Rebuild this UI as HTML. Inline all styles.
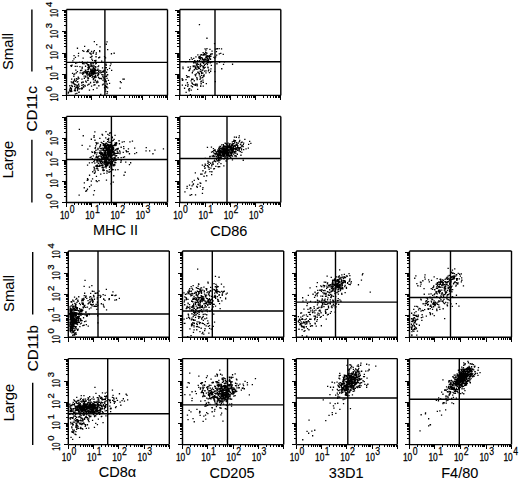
<!DOCTYPE html>
<html><head><meta charset="utf-8"><style>
html,body{margin:0;padding:0;background:#fff;width:520px;height:481px;overflow:hidden;}
svg{display:block;}
</style></head><body>
<svg width="520" height="481" viewBox="0 0 520 481">
<rect width="520" height="481" fill="#fff"/>
<path d="M90.1 72.4h1.3v1.3h-1.3zM94.6 69.7h1.3v1.3h-1.3zM95.5 70.0h1.3v1.3h-1.3zM86.8 75.3h1.3v1.3h-1.3zM94.5 71.3h1.3v1.3h-1.3zM88.3 70.9h1.3v1.3h-1.3zM93.5 68.3h1.3v1.3h-1.3zM89.0 73.7h1.3v1.3h-1.3zM96.9 74.6h1.3v1.3h-1.3zM101.2 74.0h1.3v1.3h-1.3zM97.9 76.9h1.3v1.3h-1.3zM94.4 76.5h1.3v1.3h-1.3zM91.0 70.4h1.3v1.3h-1.3zM101.0 78.3h1.3v1.3h-1.3zM90.8 72.0h1.3v1.3h-1.3zM97.5 75.2h1.3v1.3h-1.3zM96.7 72.3h1.3v1.3h-1.3zM89.9 65.5h1.3v1.3h-1.3zM88.4 74.3h1.3v1.3h-1.3zM93.3 73.1h1.3v1.3h-1.3zM90.4 71.3h1.3v1.3h-1.3zM94.9 75.8h1.3v1.3h-1.3zM91.1 62.3h1.3v1.3h-1.3zM87.8 69.0h1.3v1.3h-1.3zM87.1 79.7h1.3v1.3h-1.3zM92.1 65.3h1.3v1.3h-1.3zM89.0 73.0h1.3v1.3h-1.3zM89.6 74.2h1.3v1.3h-1.3zM89.2 73.7h1.3v1.3h-1.3zM88.2 64.7h1.3v1.3h-1.3zM91.7 69.4h1.3v1.3h-1.3zM94.2 67.5h1.3v1.3h-1.3zM93.5 72.8h1.3v1.3h-1.3zM84.5 72.0h1.3v1.3h-1.3zM97.8 73.5h1.3v1.3h-1.3zM94.9 63.3h1.3v1.3h-1.3zM92.8 72.8h1.3v1.3h-1.3zM84.7 69.4h1.3v1.3h-1.3zM93.2 71.5h1.3v1.3h-1.3zM87.2 76.9h1.3v1.3h-1.3zM93.3 72.0h1.3v1.3h-1.3zM90.2 70.0h1.3v1.3h-1.3zM95.0 68.8h1.3v1.3h-1.3zM92.4 70.2h1.3v1.3h-1.3zM85.1 69.6h1.3v1.3h-1.3zM89.1 73.6h1.3v1.3h-1.3zM89.0 75.8h1.3v1.3h-1.3zM89.3 73.3h1.3v1.3h-1.3zM94.3 76.9h1.3v1.3h-1.3zM102.8 71.0h1.3v1.3h-1.3zM94.7 69.8h1.3v1.3h-1.3zM83.7 77.7h1.3v1.3h-1.3zM95.7 72.4h1.3v1.3h-1.3zM88.8 72.3h1.3v1.3h-1.3zM92.2 71.5h1.3v1.3h-1.3zM87.1 70.7h1.3v1.3h-1.3zM94.7 74.7h1.3v1.3h-1.3zM94.1 68.2h1.3v1.3h-1.3zM92.7 68.0h1.3v1.3h-1.3zM87.2 68.8h1.3v1.3h-1.3zM92.5 69.4h1.3v1.3h-1.3zM97.4 65.9h1.3v1.3h-1.3zM93.7 76.4h1.3v1.3h-1.3zM95.5 81.2h1.3v1.3h-1.3zM94.5 79.6h1.3v1.3h-1.3zM91.5 76.7h1.3v1.3h-1.3zM95.2 66.4h1.3v1.3h-1.3zM82.5 71.7h1.3v1.3h-1.3zM92.0 70.9h1.3v1.3h-1.3zM94.5 69.1h1.3v1.3h-1.3zM89.0 66.2h1.3v1.3h-1.3zM93.6 69.3h1.3v1.3h-1.3zM96.9 69.7h1.3v1.3h-1.3zM87.3 66.8h1.3v1.3h-1.3zM87.7 68.3h1.3v1.3h-1.3zM94.3 72.8h1.3v1.3h-1.3zM92.8 73.4h1.3v1.3h-1.3zM93.2 71.8h1.3v1.3h-1.3zM98.0 73.7h1.3v1.3h-1.3zM87.5 64.0h1.3v1.3h-1.3zM93.5 76.0h1.3v1.3h-1.3zM90.7 62.4h1.3v1.3h-1.3zM93.6 70.3h1.3v1.3h-1.3zM94.7 79.6h1.3v1.3h-1.3zM90.9 71.8h1.3v1.3h-1.3zM92.1 75.4h1.3v1.3h-1.3zM93.2 72.9h1.3v1.3h-1.3zM98.4 71.5h1.3v1.3h-1.3zM88.1 65.5h1.3v1.3h-1.3zM90.1 70.4h1.3v1.3h-1.3zM94.0 71.4h1.3v1.3h-1.3zM89.8 68.5h1.3v1.3h-1.3zM91.4 72.1h1.3v1.3h-1.3zM85.0 69.6h1.3v1.3h-1.3zM91.4 68.5h1.3v1.3h-1.3zM92.7 79.0h1.3v1.3h-1.3zM88.2 67.8h1.3v1.3h-1.3zM86.8 72.1h1.3v1.3h-1.3zM85.4 71.5h1.3v1.3h-1.3zM87.9 77.6h1.3v1.3h-1.3zM92.6 78.3h1.3v1.3h-1.3zM86.7 72.5h1.3v1.3h-1.3zM80.2 69.7h1.3v1.3h-1.3zM99.9 70.2h1.3v1.3h-1.3zM91.3 65.7h1.3v1.3h-1.3zM88.5 74.1h1.3v1.3h-1.3zM102.9 70.6h1.3v1.3h-1.3zM90.0 70.8h1.3v1.3h-1.3zM91.7 72.4h1.3v1.3h-1.3zM98.4 69.8h1.3v1.3h-1.3zM92.7 66.7h1.3v1.3h-1.3zM101.9 84.3h1.3v1.3h-1.3zM87.3 77.6h1.3v1.3h-1.3zM99.5 72.3h1.3v1.3h-1.3zM100.3 70.5h1.3v1.3h-1.3zM88.7 66.9h1.3v1.3h-1.3zM83.5 75.4h1.3v1.3h-1.3zM73.4 55.0h1.3v1.3h-1.3zM79.9 69.9h1.3v1.3h-1.3zM92.9 62.2h1.3v1.3h-1.3zM89.9 81.8h1.3v1.3h-1.3zM88.5 75.0h1.3v1.3h-1.3zM87.0 84.5h1.3v1.3h-1.3zM95.4 56.1h1.3v1.3h-1.3zM101.0 60.5h1.3v1.3h-1.3zM120.5 81.9h1.3v1.3h-1.3zM75.2 69.4h1.3v1.3h-1.3zM102.1 70.7h1.3v1.3h-1.3zM76.8 71.0h1.3v1.3h-1.3zM87.7 73.4h1.3v1.3h-1.3zM85.0 80.4h1.3v1.3h-1.3zM82.1 73.7h1.3v1.3h-1.3zM96.2 82.1h1.3v1.3h-1.3zM90.9 85.5h1.3v1.3h-1.3zM100.5 77.7h1.3v1.3h-1.3zM92.4 63.2h1.3v1.3h-1.3zM89.9 82.1h1.3v1.3h-1.3zM92.9 51.2h1.3v1.3h-1.3zM85.8 72.6h1.3v1.3h-1.3zM90.7 64.9h1.3v1.3h-1.3zM91.1 73.6h1.3v1.3h-1.3zM75.7 72.3h1.3v1.3h-1.3zM83.1 86.5h1.3v1.3h-1.3zM94.5 72.9h1.3v1.3h-1.3zM100.1 93.7h1.3v1.3h-1.3zM75.9 77.9h1.3v1.3h-1.3zM81.3 72.4h1.3v1.3h-1.3zM86.8 71.1h1.3v1.3h-1.3zM89.7 75.2h1.3v1.3h-1.3zM71.9 72.8h1.3v1.3h-1.3zM90.4 69.5h1.3v1.3h-1.3zM88.8 89.5h1.3v1.3h-1.3zM83.0 72.6h1.3v1.3h-1.3zM94.9 66.2h1.3v1.3h-1.3zM85.8 81.4h1.3v1.3h-1.3zM92.5 73.6h1.3v1.3h-1.3zM89.7 75.7h1.3v1.3h-1.3zM103.8 78.1h1.3v1.3h-1.3zM93.2 84.4h1.3v1.3h-1.3zM93.4 81.6h1.3v1.3h-1.3zM74.6 65.7h1.3v1.3h-1.3zM93.1 77.8h1.3v1.3h-1.3zM91.3 65.9h1.3v1.3h-1.3zM77.1 88.7h1.3v1.3h-1.3zM91.1 73.3h1.3v1.3h-1.3zM96.8 80.5h1.3v1.3h-1.3zM103.4 69.7h1.3v1.3h-1.3zM78.9 61.8h1.3v1.3h-1.3zM72.8 82.4h1.3v1.3h-1.3zM83.7 77.5h1.3v1.3h-1.3zM70.2 65.0h1.3v1.3h-1.3zM98.0 65.2h1.3v1.3h-1.3zM82.8 85.9h1.3v1.3h-1.3zM82.0 62.7h1.3v1.3h-1.3zM97.7 73.1h1.3v1.3h-1.3zM85.9 71.2h1.3v1.3h-1.3zM85.0 75.6h1.3v1.3h-1.3zM91.0 74.8h1.3v1.3h-1.3zM86.3 72.5h1.3v1.3h-1.3zM77.1 87.4h1.3v1.3h-1.3zM82.2 72.2h1.3v1.3h-1.3zM102.7 83.5h1.3v1.3h-1.3zM111.0 69.8h1.3v1.3h-1.3zM77.6 76.6h1.3v1.3h-1.3zM95.0 60.6h1.3v1.3h-1.3zM93.7 69.9h1.3v1.3h-1.3zM74.6 90.1h1.3v1.3h-1.3zM88.5 66.8h1.3v1.3h-1.3zM99.2 78.0h1.3v1.3h-1.3zM93.4 65.3h1.3v1.3h-1.3zM90.6 64.2h1.3v1.3h-1.3zM74.0 78.5h1.3v1.3h-1.3zM79.3 66.0h1.3v1.3h-1.3zM83.6 71.0h1.3v1.3h-1.3zM92.8 72.7h1.3v1.3h-1.3zM105.0 67.1h1.3v1.3h-1.3zM81.1 69.4h1.3v1.3h-1.3zM82.7 81.4h1.3v1.3h-1.3zM106.9 74.1h1.3v1.3h-1.3zM85.1 76.5h1.3v1.3h-1.3zM88.2 83.8h1.3v1.3h-1.3zM90.0 63.3h1.3v1.3h-1.3zM94.2 84.1h1.3v1.3h-1.3zM89.8 56.7h1.3v1.3h-1.3zM73.3 73.8h1.3v1.3h-1.3zM76.5 65.8h1.3v1.3h-1.3zM94.5 65.9h1.3v1.3h-1.3zM75.1 62.7h1.3v1.3h-1.3zM91.9 59.7h1.3v1.3h-1.3zM88.4 83.5h1.3v1.3h-1.3zM96.3 87.5h1.3v1.3h-1.3zM88.2 64.2h1.3v1.3h-1.3zM94.2 72.1h1.3v1.3h-1.3zM90.2 69.8h1.3v1.3h-1.3zM96.8 74.6h1.3v1.3h-1.3zM101.9 67.3h1.3v1.3h-1.3zM85.6 81.4h1.3v1.3h-1.3zM102.4 79.8h1.3v1.3h-1.3zM97.3 68.5h1.3v1.3h-1.3zM81.6 66.5h1.3v1.3h-1.3zM76.4 62.0h1.3v1.3h-1.3zM85.1 70.7h1.3v1.3h-1.3zM93.2 81.6h1.3v1.3h-1.3zM87.5 79.5h1.3v1.3h-1.3zM92.0 65.3h1.3v1.3h-1.3zM88.8 74.8h1.3v1.3h-1.3zM81.9 63.0h1.3v1.3h-1.3zM94.0 60.1h1.3v1.3h-1.3zM85.4 62.7h1.3v1.3h-1.3zM105.3 80.3h1.3v1.3h-1.3zM82.5 57.4h1.3v1.3h-1.3zM100.7 72.0h1.3v1.3h-1.3zM97.4 81.4h1.3v1.3h-1.3zM98.0 71.1h1.3v1.3h-1.3zM84.9 65.6h1.3v1.3h-1.3zM87.1 64.4h1.3v1.3h-1.3zM105.4 63.6h1.3v1.3h-1.3zM71.4 64.4h1.3v1.3h-1.3zM85.8 72.8h1.3v1.3h-1.3zM86.3 73.8h1.3v1.3h-1.3zM73.3 58.3h1.3v1.3h-1.3zM106.0 71.6h1.3v1.3h-1.3zM98.2 85.1h1.3v1.3h-1.3zM83.4 63.1h1.3v1.3h-1.3zM102.3 76.3h1.3v1.3h-1.3zM84.0 45.7h1.3v1.3h-1.3zM86.5 63.2h1.3v1.3h-1.3zM81.7 61.3h1.3v1.3h-1.3zM95.6 62.8h1.3v1.3h-1.3zM92.7 89.0h1.3v1.3h-1.3zM81.5 67.6h1.3v1.3h-1.3zM102.4 61.8h1.3v1.3h-1.3zM91.8 75.2h1.3v1.3h-1.3zM89.1 73.6h1.3v1.3h-1.3zM98.8 77.7h1.3v1.3h-1.3zM84.2 84.7h1.3v1.3h-1.3zM70.8 65.8h1.3v1.3h-1.3zM95.5 76.4h1.3v1.3h-1.3zM71.4 82.3h1.3v1.3h-1.3zM74.6 80.8h1.3v1.3h-1.3zM78.6 85.5h1.3v1.3h-1.3zM76.5 85.1h1.3v1.3h-1.3zM70.6 81.3h1.3v1.3h-1.3zM73.6 83.3h1.3v1.3h-1.3zM76.4 86.0h1.3v1.3h-1.3zM73.2 75.6h1.3v1.3h-1.3zM75.5 86.8h1.3v1.3h-1.3zM74.1 83.9h1.3v1.3h-1.3zM72.8 81.1h1.3v1.3h-1.3zM73.4 83.2h1.3v1.3h-1.3zM75.6 80.0h1.3v1.3h-1.3zM76.4 86.7h1.3v1.3h-1.3zM74.2 83.8h1.3v1.3h-1.3zM78.3 77.7h1.3v1.3h-1.3zM77.8 87.2h1.3v1.3h-1.3zM76.7 87.9h1.3v1.3h-1.3zM71.1 84.7h1.3v1.3h-1.3zM78.8 88.2h1.3v1.3h-1.3zM76.2 78.4h1.3v1.3h-1.3zM78.2 91.8h1.3v1.3h-1.3zM81.1 87.2h1.3v1.3h-1.3zM74.1 73.3h1.3v1.3h-1.3zM77.3 78.5h1.3v1.3h-1.3zM82.6 84.1h1.3v1.3h-1.3zM84.6 85.5h1.3v1.3h-1.3zM73.6 79.7h1.3v1.3h-1.3zM70.8 88.1h1.3v1.3h-1.3zM77.4 86.6h1.3v1.3h-1.3zM81.0 82.1h1.3v1.3h-1.3zM74.7 89.7h1.3v1.3h-1.3zM78.5 91.4h1.3v1.3h-1.3zM77.4 84.5h1.3v1.3h-1.3zM77.2 81.0h1.3v1.3h-1.3zM74.7 87.5h1.3v1.3h-1.3zM71.4 81.7h1.3v1.3h-1.3zM80.4 87.9h1.3v1.3h-1.3zM71.4 85.9h1.3v1.3h-1.3zM79.5 72.2h1.3v1.3h-1.3zM74.3 88.7h1.3v1.3h-1.3zM81.8 87.6h1.3v1.3h-1.3zM76.8 89.9h1.3v1.3h-1.3zM71.8 85.8h1.3v1.3h-1.3zM74.0 85.8h1.3v1.3h-1.3zM76.2 92.7h1.3v1.3h-1.3zM74.8 93.3h1.3v1.3h-1.3zM69.2 85.1h1.3v1.3h-1.3zM73.8 89.9h1.3v1.3h-1.3zM81.3 78.5h1.3v1.3h-1.3zM69.5 87.7h1.3v1.3h-1.3zM71.0 78.4h1.3v1.3h-1.3zM81.2 88.5h1.3v1.3h-1.3zM78.0 83.6h1.3v1.3h-1.3zM81.2 84.8h1.3v1.3h-1.3zM81.6 81.4h1.3v1.3h-1.3zM69.9 87.0h1.3v1.3h-1.3zM70.8 89.4h1.3v1.3h-1.3zM76.6 81.4h1.3v1.3h-1.3zM75.4 84.2h1.3v1.3h-1.3zM69.8 89.7h1.3v1.3h-1.3zM68.1 91.4h1.3v1.3h-1.3zM71.1 90.8h1.3v1.3h-1.3zM68.9 89.3h1.3v1.3h-1.3zM69.3 89.5h1.3v1.3h-1.3zM67.7 91.4h1.3v1.3h-1.3zM69.2 90.3h1.3v1.3h-1.3zM69.0 89.2h1.3v1.3h-1.3zM70.3 90.9h1.3v1.3h-1.3zM67.6 92.4h1.3v1.3h-1.3zM69.9 90.8h1.3v1.3h-1.3zM90.9 50.8h1.3v1.3h-1.3zM103.9 56.0h1.3v1.3h-1.3zM99.0 50.0h1.3v1.3h-1.3zM110.3 63.3h1.3v1.3h-1.3zM98.1 57.1h1.3v1.3h-1.3zM74.8 56.8h1.3v1.3h-1.3zM91.3 55.6h1.3v1.3h-1.3zM99.1 51.0h1.3v1.3h-1.3zM77.8 55.2h1.3v1.3h-1.3zM86.3 51.0h1.3v1.3h-1.3zM87.6 51.0h1.3v1.3h-1.3zM72.2 60.3h1.3v1.3h-1.3zM95.3 59.7h1.3v1.3h-1.3zM110.8 53.1h1.3v1.3h-1.3zM76.8 47.6h1.3v1.3h-1.3zM82.1 50.0h1.3v1.3h-1.3zM93.7 41.0h1.3v1.3h-1.3zM96.1 43.9h1.3v1.3h-1.3zM95.7 52.3h1.3v1.3h-1.3zM90.2 52.6h1.3v1.3h-1.3zM88.1 49.3h1.3v1.3h-1.3zM77.9 52.8h1.3v1.3h-1.3zM109.6 64.9h1.3v1.3h-1.3zM104.9 57.2h1.3v1.3h-1.3zM86.9 61.7h1.3v1.3h-1.3zM92.5 52.6h1.3v1.3h-1.3zM90.4 53.6h1.3v1.3h-1.3zM89.1 52.5h1.3v1.3h-1.3zM83.2 50.8h1.3v1.3h-1.3zM113.5 52.6h1.3v1.3h-1.3zM90.9 56.2h1.3v1.3h-1.3zM99.4 46.3h1.3v1.3h-1.3zM91.1 58.5h1.3v1.3h-1.3zM95.4 53.7h1.3v1.3h-1.3zM107.0 48.9h1.3v1.3h-1.3zM93.7 49.9h1.3v1.3h-1.3zM106.4 41.3h1.3v1.3h-1.3zM87.0 49.8h1.3v1.3h-1.3zM99.0 56.6h1.3v1.3h-1.3zM105.6 43.6h1.3v1.3h-1.3zM105.5 86.8h1.3v1.3h-1.3zM107.0 74.0h1.3v1.3h-1.3zM102.3 71.7h1.3v1.3h-1.3zM103.3 76.7h1.3v1.3h-1.3zM106.7 74.2h1.3v1.3h-1.3zM108.9 82.8h1.3v1.3h-1.3zM103.2 78.2h1.3v1.3h-1.3zM104.3 73.2h1.3v1.3h-1.3zM106.8 69.0h1.3v1.3h-1.3zM102.4 74.2h1.3v1.3h-1.3zM105.8 86.3h1.3v1.3h-1.3zM106.2 83.2h1.3v1.3h-1.3zM106.1 85.7h1.3v1.3h-1.3zM106.8 91.1h1.3v1.3h-1.3zM106.7 83.5h1.3v1.3h-1.3zM105.7 66.9h1.3v1.3h-1.3zM106.4 77.7h1.3v1.3h-1.3zM108.9 67.8h1.3v1.3h-1.3zM103.8 80.9h1.3v1.3h-1.3zM105.5 64.6h1.3v1.3h-1.3zM104.7 79.2h1.3v1.3h-1.3zM104.8 80.8h1.3v1.3h-1.3zM104.7 85.0h1.3v1.3h-1.3zM107.8 79.7h1.3v1.3h-1.3zM104.5 75.8h1.3v1.3h-1.3zM103.9 87.1h1.3v1.3h-1.3zM105.9 75.6h1.3v1.3h-1.3zM104.3 71.2h1.3v1.3h-1.3zM102.2 75.7h1.3v1.3h-1.3zM105.3 67.0h1.3v1.3h-1.3zM105.7 81.3h1.3v1.3h-1.3zM105.2 64.0h1.3v1.3h-1.3zM107.0 87.2h1.3v1.3h-1.3zM104.4 79.3h1.3v1.3h-1.3zM105.0 85.7h1.3v1.3h-1.3zM104.6 69.5h1.3v1.3h-1.3zM106.4 93.0h1.3v1.3h-1.3zM105.1 90.4h1.3v1.3h-1.3zM104.9 88.4h1.3v1.3h-1.3zM119.5 87.5h1.3v1.3h-1.3zM122.3 78.5h1.3v1.3h-1.3zM119.7 81.0h1.3v1.3h-1.3zM123.6 78.5h1.3v1.3h-1.3zM215.8 51.0h1.3v1.3h-1.3zM206.1 56.4h1.3v1.3h-1.3zM198.7 60.1h1.3v1.3h-1.3zM199.8 54.4h1.3v1.3h-1.3zM203.6 64.8h1.3v1.3h-1.3zM201.8 58.6h1.3v1.3h-1.3zM207.4 62.1h1.3v1.3h-1.3zM211.3 53.5h1.3v1.3h-1.3zM204.3 59.5h1.3v1.3h-1.3zM209.0 56.0h1.3v1.3h-1.3zM207.8 55.7h1.3v1.3h-1.3zM205.3 52.0h1.3v1.3h-1.3zM207.3 58.8h1.3v1.3h-1.3zM211.4 52.9h1.3v1.3h-1.3zM200.7 54.1h1.3v1.3h-1.3zM203.6 53.0h1.3v1.3h-1.3zM202.4 66.1h1.3v1.3h-1.3zM193.9 60.1h1.3v1.3h-1.3zM201.8 58.1h1.3v1.3h-1.3zM207.4 61.2h1.3v1.3h-1.3zM215.1 56.3h1.3v1.3h-1.3zM208.1 60.4h1.3v1.3h-1.3zM204.0 54.3h1.3v1.3h-1.3zM205.3 59.0h1.3v1.3h-1.3zM206.4 57.7h1.3v1.3h-1.3zM206.3 47.9h1.3v1.3h-1.3zM201.6 60.4h1.3v1.3h-1.3zM205.2 56.6h1.3v1.3h-1.3zM199.3 57.0h1.3v1.3h-1.3zM209.9 53.7h1.3v1.3h-1.3zM197.2 54.3h1.3v1.3h-1.3zM198.2 56.7h1.3v1.3h-1.3zM214.1 57.5h1.3v1.3h-1.3zM204.9 51.6h1.3v1.3h-1.3zM209.3 58.2h1.3v1.3h-1.3zM198.5 57.4h1.3v1.3h-1.3zM204.5 59.3h1.3v1.3h-1.3zM210.2 55.6h1.3v1.3h-1.3zM205.5 54.2h1.3v1.3h-1.3zM209.0 55.1h1.3v1.3h-1.3zM205.1 54.2h1.3v1.3h-1.3zM209.9 58.6h1.3v1.3h-1.3zM205.9 59.4h1.3v1.3h-1.3zM199.7 60.7h1.3v1.3h-1.3zM191.6 58.7h1.3v1.3h-1.3zM200.9 56.9h1.3v1.3h-1.3zM197.3 65.9h1.3v1.3h-1.3zM216.2 48.3h1.3v1.3h-1.3zM203.1 60.1h1.3v1.3h-1.3zM201.6 57.5h1.3v1.3h-1.3zM204.2 59.2h1.3v1.3h-1.3zM207.8 59.1h1.3v1.3h-1.3zM220.1 52.7h1.3v1.3h-1.3zM213.3 56.7h1.3v1.3h-1.3zM206.2 52.6h1.3v1.3h-1.3zM202.6 53.9h1.3v1.3h-1.3zM209.3 48.8h1.3v1.3h-1.3zM206.8 57.5h1.3v1.3h-1.3zM199.8 58.0h1.3v1.3h-1.3zM199.9 58.5h1.3v1.3h-1.3zM207.3 57.6h1.3v1.3h-1.3zM199.4 57.4h1.3v1.3h-1.3zM207.2 54.9h1.3v1.3h-1.3zM204.3 53.3h1.3v1.3h-1.3zM199.5 57.1h1.3v1.3h-1.3zM202.2 54.4h1.3v1.3h-1.3zM204.4 58.1h1.3v1.3h-1.3zM211.1 61.5h1.3v1.3h-1.3zM206.1 62.6h1.3v1.3h-1.3zM199.5 56.1h1.3v1.3h-1.3zM208.8 56.5h1.3v1.3h-1.3zM205.7 56.3h1.3v1.3h-1.3zM205.3 49.5h1.3v1.3h-1.3zM204.4 48.3h1.3v1.3h-1.3zM202.9 54.5h1.3v1.3h-1.3zM209.9 53.6h1.3v1.3h-1.3zM202.5 52.0h1.3v1.3h-1.3zM214.9 48.4h1.3v1.3h-1.3zM216.7 48.1h1.3v1.3h-1.3zM195.3 56.3h1.3v1.3h-1.3zM196.8 60.0h1.3v1.3h-1.3zM199.8 63.2h1.3v1.3h-1.3zM202.7 65.9h1.3v1.3h-1.3zM189.8 66.3h1.3v1.3h-1.3zM200.7 60.8h1.3v1.3h-1.3zM197.8 63.7h1.3v1.3h-1.3zM196.2 64.6h1.3v1.3h-1.3zM189.0 58.9h1.3v1.3h-1.3zM204.5 66.7h1.3v1.3h-1.3zM204.1 61.0h1.3v1.3h-1.3zM203.2 59.1h1.3v1.3h-1.3zM202.2 72.4h1.3v1.3h-1.3zM193.5 61.3h1.3v1.3h-1.3zM207.9 61.8h1.3v1.3h-1.3zM194.6 62.1h1.3v1.3h-1.3zM207.2 66.4h1.3v1.3h-1.3zM195.8 63.5h1.3v1.3h-1.3zM209.1 57.7h1.3v1.3h-1.3zM205.9 55.8h1.3v1.3h-1.3zM196.5 62.6h1.3v1.3h-1.3zM199.5 70.8h1.3v1.3h-1.3zM193.3 61.2h1.3v1.3h-1.3zM196.4 68.7h1.3v1.3h-1.3zM206.8 60.1h1.3v1.3h-1.3zM202.1 58.5h1.3v1.3h-1.3zM190.7 57.2h1.3v1.3h-1.3zM209.6 62.1h1.3v1.3h-1.3zM203.7 64.4h1.3v1.3h-1.3zM200.0 63.5h1.3v1.3h-1.3zM193.1 57.8h1.3v1.3h-1.3zM201.7 61.6h1.3v1.3h-1.3zM201.2 64.9h1.3v1.3h-1.3zM208.1 61.0h1.3v1.3h-1.3zM196.6 65.9h1.3v1.3h-1.3zM207.7 70.3h1.3v1.3h-1.3zM185.2 61.2h1.3v1.3h-1.3zM201.0 72.8h1.3v1.3h-1.3zM196.6 65.5h1.3v1.3h-1.3zM203.2 62.0h1.3v1.3h-1.3zM203.2 61.9h1.3v1.3h-1.3zM196.6 63.3h1.3v1.3h-1.3zM204.5 59.5h1.3v1.3h-1.3zM202.0 60.9h1.3v1.3h-1.3zM203.7 67.4h1.3v1.3h-1.3zM199.7 66.0h1.3v1.3h-1.3zM199.5 64.5h1.3v1.3h-1.3zM202.8 62.8h1.3v1.3h-1.3zM196.2 61.0h1.3v1.3h-1.3zM192.6 65.3h1.3v1.3h-1.3zM207.0 61.7h1.3v1.3h-1.3zM206.8 63.9h1.3v1.3h-1.3zM207.5 67.2h1.3v1.3h-1.3zM206.5 55.6h1.3v1.3h-1.3zM206.2 56.5h1.3v1.3h-1.3zM202.7 67.5h1.3v1.3h-1.3zM196.9 60.1h1.3v1.3h-1.3zM208.1 69.3h1.3v1.3h-1.3zM199.8 64.3h1.3v1.3h-1.3zM195.7 73.3h1.3v1.3h-1.3zM193.0 65.7h1.3v1.3h-1.3zM200.2 77.5h1.3v1.3h-1.3zM194.3 65.2h1.3v1.3h-1.3zM192.3 70.5h1.3v1.3h-1.3zM198.8 72.8h1.3v1.3h-1.3zM183.9 87.6h1.3v1.3h-1.3zM197.5 71.6h1.3v1.3h-1.3zM202.3 79.5h1.3v1.3h-1.3zM195.2 66.8h1.3v1.3h-1.3zM199.1 58.0h1.3v1.3h-1.3zM196.2 77.1h1.3v1.3h-1.3zM199.8 64.4h1.3v1.3h-1.3zM200.8 74.8h1.3v1.3h-1.3zM198.9 67.8h1.3v1.3h-1.3zM198.5 56.0h1.3v1.3h-1.3zM200.6 71.2h1.3v1.3h-1.3zM194.8 67.7h1.3v1.3h-1.3zM198.2 72.5h1.3v1.3h-1.3zM187.5 66.6h1.3v1.3h-1.3zM193.6 69.3h1.3v1.3h-1.3zM201.5 69.7h1.3v1.3h-1.3zM200.7 80.5h1.3v1.3h-1.3zM205.3 72.2h1.3v1.3h-1.3zM200.0 85.2h1.3v1.3h-1.3zM191.7 82.8h1.3v1.3h-1.3zM203.5 74.3h1.3v1.3h-1.3zM204.6 63.6h1.3v1.3h-1.3zM198.0 67.9h1.3v1.3h-1.3zM199.7 57.4h1.3v1.3h-1.3zM203.2 75.6h1.3v1.3h-1.3zM193.6 80.1h1.3v1.3h-1.3zM193.9 69.0h1.3v1.3h-1.3zM195.0 75.2h1.3v1.3h-1.3zM205.7 82.9h1.3v1.3h-1.3zM189.5 68.1h1.3v1.3h-1.3zM193.0 62.1h1.3v1.3h-1.3zM210.3 68.2h1.3v1.3h-1.3zM188.3 70.0h1.3v1.3h-1.3zM202.7 81.7h1.3v1.3h-1.3zM195.5 68.3h1.3v1.3h-1.3zM201.0 71.4h1.3v1.3h-1.3zM202.3 81.4h1.3v1.3h-1.3zM200.1 85.6h1.3v1.3h-1.3zM196.5 85.1h1.3v1.3h-1.3zM203.3 61.3h1.3v1.3h-1.3zM194.5 74.1h1.3v1.3h-1.3zM192.3 78.6h1.3v1.3h-1.3zM210.0 70.6h1.3v1.3h-1.3zM196.6 78.6h1.3v1.3h-1.3zM200.5 83.1h1.3v1.3h-1.3zM182.4 67.9h1.3v1.3h-1.3zM198.0 66.6h1.3v1.3h-1.3zM203.0 66.4h1.3v1.3h-1.3zM190.5 80.3h1.3v1.3h-1.3zM214.2 70.9h1.3v1.3h-1.3zM192.6 65.9h1.3v1.3h-1.3zM199.5 76.1h1.3v1.3h-1.3zM205.4 70.2h1.3v1.3h-1.3zM194.6 66.6h1.3v1.3h-1.3zM201.8 76.7h1.3v1.3h-1.3zM202.4 69.3h1.3v1.3h-1.3zM214.7 81.0h1.3v1.3h-1.3zM208.8 72.0h1.3v1.3h-1.3zM197.5 72.2h1.3v1.3h-1.3zM200.3 81.1h1.3v1.3h-1.3zM194.9 83.4h1.3v1.3h-1.3zM197.3 66.9h1.3v1.3h-1.3zM199.4 78.6h1.3v1.3h-1.3zM194.9 84.6h1.3v1.3h-1.3zM202.6 85.5h1.3v1.3h-1.3zM188.8 69.6h1.3v1.3h-1.3zM194.3 59.9h1.3v1.3h-1.3zM186.8 82.1h1.3v1.3h-1.3zM196.5 83.9h1.3v1.3h-1.3zM197.0 88.8h1.3v1.3h-1.3zM197.2 71.6h1.3v1.3h-1.3zM198.7 74.2h1.3v1.3h-1.3zM199.9 69.0h1.3v1.3h-1.3zM181.8 79.6h1.3v1.3h-1.3zM191.7 72.1h1.3v1.3h-1.3zM202.1 77.0h1.3v1.3h-1.3zM202.7 75.0h1.3v1.3h-1.3zM210.7 64.7h1.3v1.3h-1.3zM204.0 70.5h1.3v1.3h-1.3zM182.3 66.4h1.3v1.3h-1.3zM191.2 82.3h1.3v1.3h-1.3zM181.7 84.4h1.3v1.3h-1.3zM187.1 85.7h1.3v1.3h-1.3zM196.5 78.9h1.3v1.3h-1.3zM196.3 83.4h1.3v1.3h-1.3zM191.0 78.6h1.3v1.3h-1.3zM190.6 89.5h1.3v1.3h-1.3zM188.2 89.2h1.3v1.3h-1.3zM185.4 78.9h1.3v1.3h-1.3zM185.0 84.8h1.3v1.3h-1.3zM187.2 75.9h1.3v1.3h-1.3zM182.3 79.2h1.3v1.3h-1.3zM185.9 74.9h1.3v1.3h-1.3zM189.0 87.9h1.3v1.3h-1.3zM193.7 84.2h1.3v1.3h-1.3zM187.4 84.1h1.3v1.3h-1.3zM186.5 76.7h1.3v1.3h-1.3zM188.1 88.5h1.3v1.3h-1.3zM188.5 76.2h1.3v1.3h-1.3zM188.6 90.2h1.3v1.3h-1.3zM192.4 83.8h1.3v1.3h-1.3zM190.6 85.2h1.3v1.3h-1.3zM181.5 78.1h1.3v1.3h-1.3zM191.8 86.1h1.3v1.3h-1.3zM189.8 94.0h1.3v1.3h-1.3zM185.5 91.8h1.3v1.3h-1.3zM220.9 48.2h1.3v1.3h-1.3zM211.4 50.4h1.3v1.3h-1.3zM221.1 68.1h1.3v1.3h-1.3zM216.3 63.1h1.3v1.3h-1.3zM223.8 61.3h1.3v1.3h-1.3zM218.9 61.8h1.3v1.3h-1.3zM218.5 48.0h1.3v1.3h-1.3zM213.9 43.0h1.3v1.3h-1.3zM216.0 54.5h1.3v1.3h-1.3zM218.7 53.2h1.3v1.3h-1.3zM222.9 63.7h1.3v1.3h-1.3zM222.6 53.8h1.3v1.3h-1.3zM198.8 23.9h1.3v1.3h-1.3zM206.3 37.6h1.3v1.3h-1.3zM231.9 63.6h1.3v1.3h-1.3zM115.0 152.8h1.3v1.3h-1.3zM109.4 147.1h1.3v1.3h-1.3zM103.9 146.2h1.3v1.3h-1.3zM114.3 144.0h1.3v1.3h-1.3zM110.4 167.4h1.3v1.3h-1.3zM111.3 147.3h1.3v1.3h-1.3zM111.7 149.8h1.3v1.3h-1.3zM109.6 153.9h1.3v1.3h-1.3zM106.2 155.9h1.3v1.3h-1.3zM101.6 149.4h1.3v1.3h-1.3zM102.8 149.1h1.3v1.3h-1.3zM104.7 151.1h1.3v1.3h-1.3zM110.3 152.7h1.3v1.3h-1.3zM105.2 142.8h1.3v1.3h-1.3zM111.5 145.9h1.3v1.3h-1.3zM111.9 163.1h1.3v1.3h-1.3zM114.4 149.7h1.3v1.3h-1.3zM114.5 142.2h1.3v1.3h-1.3zM97.4 147.7h1.3v1.3h-1.3zM114.8 169.2h1.3v1.3h-1.3zM109.2 145.3h1.3v1.3h-1.3zM108.9 150.6h1.3v1.3h-1.3zM105.8 142.4h1.3v1.3h-1.3zM109.4 155.0h1.3v1.3h-1.3zM108.8 159.8h1.3v1.3h-1.3zM105.6 167.3h1.3v1.3h-1.3zM100.8 153.7h1.3v1.3h-1.3zM113.8 143.9h1.3v1.3h-1.3zM110.6 145.9h1.3v1.3h-1.3zM104.3 151.6h1.3v1.3h-1.3zM106.4 149.7h1.3v1.3h-1.3zM111.5 148.8h1.3v1.3h-1.3zM106.2 156.2h1.3v1.3h-1.3zM109.6 146.1h1.3v1.3h-1.3zM112.6 151.3h1.3v1.3h-1.3zM111.9 169.3h1.3v1.3h-1.3zM107.8 151.8h1.3v1.3h-1.3zM104.9 146.4h1.3v1.3h-1.3zM106.9 145.5h1.3v1.3h-1.3zM111.5 149.2h1.3v1.3h-1.3zM107.7 149.4h1.3v1.3h-1.3zM115.1 144.1h1.3v1.3h-1.3zM115.7 155.3h1.3v1.3h-1.3zM114.5 157.2h1.3v1.3h-1.3zM111.4 150.4h1.3v1.3h-1.3zM103.6 169.6h1.3v1.3h-1.3zM115.3 159.6h1.3v1.3h-1.3zM111.6 154.7h1.3v1.3h-1.3zM105.8 160.3h1.3v1.3h-1.3zM104.9 154.7h1.3v1.3h-1.3zM106.0 147.5h1.3v1.3h-1.3zM109.1 151.0h1.3v1.3h-1.3zM102.7 155.0h1.3v1.3h-1.3zM113.2 165.2h1.3v1.3h-1.3zM107.0 156.8h1.3v1.3h-1.3zM110.7 151.4h1.3v1.3h-1.3zM101.6 154.7h1.3v1.3h-1.3zM120.5 156.9h1.3v1.3h-1.3zM112.6 139.7h1.3v1.3h-1.3zM108.0 154.5h1.3v1.3h-1.3zM103.6 161.1h1.3v1.3h-1.3zM114.5 153.1h1.3v1.3h-1.3zM106.8 150.7h1.3v1.3h-1.3zM106.7 152.8h1.3v1.3h-1.3zM104.8 162.3h1.3v1.3h-1.3zM103.4 157.8h1.3v1.3h-1.3zM108.1 156.5h1.3v1.3h-1.3zM108.5 134.7h1.3v1.3h-1.3zM106.7 144.9h1.3v1.3h-1.3zM103.9 162.3h1.3v1.3h-1.3zM114.4 144.9h1.3v1.3h-1.3zM114.8 152.8h1.3v1.3h-1.3zM104.9 154.2h1.3v1.3h-1.3zM113.6 151.6h1.3v1.3h-1.3zM108.5 158.3h1.3v1.3h-1.3zM108.0 152.3h1.3v1.3h-1.3zM116.4 148.1h1.3v1.3h-1.3zM103.8 152.0h1.3v1.3h-1.3zM111.5 148.8h1.3v1.3h-1.3zM107.9 156.3h1.3v1.3h-1.3zM108.6 147.5h1.3v1.3h-1.3zM103.1 140.8h1.3v1.3h-1.3zM106.5 157.3h1.3v1.3h-1.3zM113.5 154.5h1.3v1.3h-1.3zM108.6 156.3h1.3v1.3h-1.3zM111.2 166.2h1.3v1.3h-1.3zM111.5 149.6h1.3v1.3h-1.3zM105.0 154.7h1.3v1.3h-1.3zM107.8 152.5h1.3v1.3h-1.3zM107.8 138.9h1.3v1.3h-1.3zM106.7 150.1h1.3v1.3h-1.3zM107.0 141.0h1.3v1.3h-1.3zM108.9 151.7h1.3v1.3h-1.3zM111.1 144.4h1.3v1.3h-1.3zM107.6 143.9h1.3v1.3h-1.3zM105.7 160.7h1.3v1.3h-1.3zM112.9 148.6h1.3v1.3h-1.3zM107.3 149.4h1.3v1.3h-1.3zM112.8 153.5h1.3v1.3h-1.3zM105.1 137.3h1.3v1.3h-1.3zM104.0 145.3h1.3v1.3h-1.3zM105.1 146.3h1.3v1.3h-1.3zM104.9 154.0h1.3v1.3h-1.3zM110.1 152.8h1.3v1.3h-1.3zM109.0 147.1h1.3v1.3h-1.3zM109.8 162.9h1.3v1.3h-1.3zM108.2 147.8h1.3v1.3h-1.3zM109.6 145.9h1.3v1.3h-1.3zM105.1 157.7h1.3v1.3h-1.3zM113.0 150.6h1.3v1.3h-1.3zM109.3 148.7h1.3v1.3h-1.3zM105.2 145.2h1.3v1.3h-1.3zM117.2 148.6h1.3v1.3h-1.3zM106.4 149.3h1.3v1.3h-1.3zM107.8 148.3h1.3v1.3h-1.3zM109.3 156.3h1.3v1.3h-1.3zM109.4 165.4h1.3v1.3h-1.3zM109.6 161.4h1.3v1.3h-1.3zM102.7 155.9h1.3v1.3h-1.3zM108.2 151.2h1.3v1.3h-1.3zM99.9 150.4h1.3v1.3h-1.3zM107.0 157.7h1.3v1.3h-1.3zM107.5 149.2h1.3v1.3h-1.3zM110.1 150.5h1.3v1.3h-1.3zM104.8 143.7h1.3v1.3h-1.3zM109.1 153.9h1.3v1.3h-1.3zM106.2 149.6h1.3v1.3h-1.3zM108.3 146.6h1.3v1.3h-1.3zM104.3 159.7h1.3v1.3h-1.3zM111.9 161.9h1.3v1.3h-1.3zM111.6 149.1h1.3v1.3h-1.3zM101.6 142.5h1.3v1.3h-1.3zM106.9 143.6h1.3v1.3h-1.3zM106.4 149.9h1.3v1.3h-1.3zM100.0 152.6h1.3v1.3h-1.3zM102.8 155.2h1.3v1.3h-1.3zM106.8 147.7h1.3v1.3h-1.3zM103.0 144.5h1.3v1.3h-1.3zM108.5 145.5h1.3v1.3h-1.3zM110.8 155.8h1.3v1.3h-1.3zM105.3 145.5h1.3v1.3h-1.3zM110.3 146.0h1.3v1.3h-1.3zM113.5 138.8h1.3v1.3h-1.3zM105.4 148.8h1.3v1.3h-1.3zM112.6 154.2h1.3v1.3h-1.3zM112.7 154.2h1.3v1.3h-1.3zM113.4 152.9h1.3v1.3h-1.3zM108.1 160.1h1.3v1.3h-1.3zM109.2 161.4h1.3v1.3h-1.3zM104.8 152.6h1.3v1.3h-1.3zM111.6 150.1h1.3v1.3h-1.3zM111.1 143.5h1.3v1.3h-1.3zM109.6 154.3h1.3v1.3h-1.3zM108.1 137.7h1.3v1.3h-1.3zM105.4 156.2h1.3v1.3h-1.3zM99.0 152.6h1.3v1.3h-1.3zM105.9 156.4h1.3v1.3h-1.3zM101.1 157.7h1.3v1.3h-1.3zM107.6 156.5h1.3v1.3h-1.3zM104.8 157.2h1.3v1.3h-1.3zM117.5 148.0h1.3v1.3h-1.3zM105.7 146.6h1.3v1.3h-1.3zM104.4 150.2h1.3v1.3h-1.3zM115.4 159.7h1.3v1.3h-1.3zM101.6 147.4h1.3v1.3h-1.3zM112.9 159.6h1.3v1.3h-1.3zM113.1 157.3h1.3v1.3h-1.3zM107.8 146.4h1.3v1.3h-1.3zM102.8 143.0h1.3v1.3h-1.3zM105.8 158.4h1.3v1.3h-1.3zM108.8 166.8h1.3v1.3h-1.3zM111.7 147.8h1.3v1.3h-1.3zM110.4 163.7h1.3v1.3h-1.3zM110.0 144.1h1.3v1.3h-1.3zM106.5 160.9h1.3v1.3h-1.3zM112.6 147.0h1.3v1.3h-1.3zM104.1 152.9h1.3v1.3h-1.3zM105.5 149.5h1.3v1.3h-1.3zM108.9 153.9h1.3v1.3h-1.3zM111.3 159.5h1.3v1.3h-1.3zM110.1 141.8h1.3v1.3h-1.3zM110.3 157.8h1.3v1.3h-1.3zM106.3 158.7h1.3v1.3h-1.3zM112.2 145.8h1.3v1.3h-1.3zM99.9 145.1h1.3v1.3h-1.3zM105.6 158.7h1.3v1.3h-1.3zM102.9 150.0h1.3v1.3h-1.3zM103.9 143.4h1.3v1.3h-1.3zM110.0 149.7h1.3v1.3h-1.3zM111.5 137.1h1.3v1.3h-1.3zM104.2 144.3h1.3v1.3h-1.3zM108.2 156.4h1.3v1.3h-1.3zM115.9 142.0h1.3v1.3h-1.3zM109.5 146.4h1.3v1.3h-1.3zM114.1 153.3h1.3v1.3h-1.3zM112.5 149.0h1.3v1.3h-1.3zM113.0 147.2h1.3v1.3h-1.3zM107.1 147.0h1.3v1.3h-1.3zM109.8 164.3h1.3v1.3h-1.3zM117.5 152.7h1.3v1.3h-1.3zM105.2 154.3h1.3v1.3h-1.3zM103.8 156.8h1.3v1.3h-1.3zM113.3 159.3h1.3v1.3h-1.3zM106.0 148.3h1.3v1.3h-1.3zM108.6 153.1h1.3v1.3h-1.3zM110.8 145.6h1.3v1.3h-1.3zM106.8 138.7h1.3v1.3h-1.3zM107.4 149.4h1.3v1.3h-1.3zM103.6 154.0h1.3v1.3h-1.3zM107.8 155.8h1.3v1.3h-1.3zM103.0 147.8h1.3v1.3h-1.3zM109.9 144.3h1.3v1.3h-1.3zM108.8 145.7h1.3v1.3h-1.3zM112.6 158.9h1.3v1.3h-1.3zM107.3 162.1h1.3v1.3h-1.3zM112.6 144.9h1.3v1.3h-1.3zM113.0 154.0h1.3v1.3h-1.3zM113.3 152.1h1.3v1.3h-1.3zM111.4 157.5h1.3v1.3h-1.3zM110.1 155.3h1.3v1.3h-1.3zM109.4 153.5h1.3v1.3h-1.3zM106.5 158.4h1.3v1.3h-1.3zM108.1 163.3h1.3v1.3h-1.3zM108.1 158.4h1.3v1.3h-1.3zM116.6 150.4h1.3v1.3h-1.3zM103.4 150.0h1.3v1.3h-1.3zM107.2 147.4h1.3v1.3h-1.3zM109.3 166.0h1.3v1.3h-1.3zM104.5 158.1h1.3v1.3h-1.3zM111.2 154.3h1.3v1.3h-1.3zM105.7 163.7h1.3v1.3h-1.3zM109.7 155.9h1.3v1.3h-1.3zM108.4 145.4h1.3v1.3h-1.3zM99.2 150.3h1.3v1.3h-1.3zM110.7 155.9h1.3v1.3h-1.3zM103.1 149.1h1.3v1.3h-1.3zM109.6 161.6h1.3v1.3h-1.3zM114.1 158.6h1.3v1.3h-1.3zM111.7 148.6h1.3v1.3h-1.3zM108.2 150.4h1.3v1.3h-1.3zM108.5 151.4h1.3v1.3h-1.3zM109.0 159.2h1.3v1.3h-1.3zM107.4 151.0h1.3v1.3h-1.3zM104.9 154.2h1.3v1.3h-1.3zM108.3 148.7h1.3v1.3h-1.3zM108.0 148.3h1.3v1.3h-1.3zM116.5 148.0h1.3v1.3h-1.3zM110.3 160.6h1.3v1.3h-1.3zM117.3 151.7h1.3v1.3h-1.3zM108.2 154.1h1.3v1.3h-1.3zM109.7 154.0h1.3v1.3h-1.3zM108.4 161.2h1.3v1.3h-1.3zM105.0 165.6h1.3v1.3h-1.3zM104.5 156.5h1.3v1.3h-1.3zM107.2 163.8h1.3v1.3h-1.3zM112.2 151.6h1.3v1.3h-1.3zM104.1 160.2h1.3v1.3h-1.3zM102.9 149.7h1.3v1.3h-1.3zM108.1 152.9h1.3v1.3h-1.3zM105.8 149.7h1.3v1.3h-1.3zM105.5 149.5h1.3v1.3h-1.3zM114.6 155.4h1.3v1.3h-1.3zM108.0 139.5h1.3v1.3h-1.3zM110.5 149.3h1.3v1.3h-1.3zM107.9 145.8h1.3v1.3h-1.3zM111.3 145.2h1.3v1.3h-1.3zM107.9 152.6h1.3v1.3h-1.3zM107.5 154.4h1.3v1.3h-1.3zM110.9 141.9h1.3v1.3h-1.3zM107.9 153.9h1.3v1.3h-1.3zM113.4 158.4h1.3v1.3h-1.3zM105.4 144.9h1.3v1.3h-1.3zM114.2 162.1h1.3v1.3h-1.3zM103.8 147.2h1.3v1.3h-1.3zM106.5 147.9h1.3v1.3h-1.3zM108.6 141.7h1.3v1.3h-1.3zM103.7 143.7h1.3v1.3h-1.3zM105.8 158.0h1.3v1.3h-1.3zM111.0 151.5h1.3v1.3h-1.3zM107.2 157.3h1.3v1.3h-1.3zM105.2 152.3h1.3v1.3h-1.3zM111.1 163.4h1.3v1.3h-1.3zM108.5 144.8h1.3v1.3h-1.3zM110.4 156.6h1.3v1.3h-1.3zM114.0 163.9h1.3v1.3h-1.3zM108.1 148.5h1.3v1.3h-1.3zM109.5 143.7h1.3v1.3h-1.3zM119.3 153.0h1.3v1.3h-1.3zM100.1 152.6h1.3v1.3h-1.3zM108.9 147.6h1.3v1.3h-1.3zM105.0 143.8h1.3v1.3h-1.3zM109.9 149.6h1.3v1.3h-1.3zM104.9 150.9h1.3v1.3h-1.3zM106.3 157.1h1.3v1.3h-1.3zM103.0 148.8h1.3v1.3h-1.3zM111.1 146.9h1.3v1.3h-1.3zM108.2 141.5h1.3v1.3h-1.3zM107.0 156.7h1.3v1.3h-1.3zM104.0 153.6h1.3v1.3h-1.3zM112.9 160.5h1.3v1.3h-1.3zM101.5 153.5h1.3v1.3h-1.3zM112.4 145.2h1.3v1.3h-1.3zM109.7 163.1h1.3v1.3h-1.3zM106.1 160.1h1.3v1.3h-1.3zM108.5 150.8h1.3v1.3h-1.3zM102.4 154.8h1.3v1.3h-1.3zM113.8 158.1h1.3v1.3h-1.3zM103.1 144.5h1.3v1.3h-1.3zM105.9 154.3h1.3v1.3h-1.3zM111.7 136.6h1.3v1.3h-1.3zM106.6 153.0h1.3v1.3h-1.3zM109.1 165.7h1.3v1.3h-1.3zM108.9 147.1h1.3v1.3h-1.3zM105.5 145.2h1.3v1.3h-1.3zM106.3 154.5h1.3v1.3h-1.3zM115.2 149.1h1.3v1.3h-1.3zM111.7 157.6h1.3v1.3h-1.3zM110.4 155.4h1.3v1.3h-1.3zM108.4 161.5h1.3v1.3h-1.3zM104.7 164.1h1.3v1.3h-1.3zM103.0 150.3h1.3v1.3h-1.3zM110.6 149.8h1.3v1.3h-1.3zM105.8 161.4h1.3v1.3h-1.3zM107.1 152.0h1.3v1.3h-1.3zM103.7 147.2h1.3v1.3h-1.3zM101.6 152.4h1.3v1.3h-1.3zM108.6 152.7h1.3v1.3h-1.3zM104.5 147.7h1.3v1.3h-1.3zM116.0 143.0h1.3v1.3h-1.3zM114.7 143.3h1.3v1.3h-1.3zM104.0 158.2h1.3v1.3h-1.3zM95.2 165.2h1.3v1.3h-1.3zM109.6 155.3h1.3v1.3h-1.3zM99.5 165.3h1.3v1.3h-1.3zM102.7 170.0h1.3v1.3h-1.3zM98.1 162.7h1.3v1.3h-1.3zM94.7 170.5h1.3v1.3h-1.3zM97.3 149.0h1.3v1.3h-1.3zM100.4 159.3h1.3v1.3h-1.3zM110.6 158.3h1.3v1.3h-1.3zM100.9 163.0h1.3v1.3h-1.3zM108.9 159.7h1.3v1.3h-1.3zM106.2 162.6h1.3v1.3h-1.3zM99.5 160.4h1.3v1.3h-1.3zM101.1 155.4h1.3v1.3h-1.3zM107.1 153.1h1.3v1.3h-1.3zM106.9 164.8h1.3v1.3h-1.3zM100.5 156.2h1.3v1.3h-1.3zM99.9 162.4h1.3v1.3h-1.3zM104.7 161.4h1.3v1.3h-1.3zM106.0 157.2h1.3v1.3h-1.3zM102.2 152.2h1.3v1.3h-1.3zM104.8 160.8h1.3v1.3h-1.3zM98.9 165.8h1.3v1.3h-1.3zM104.5 145.9h1.3v1.3h-1.3zM101.2 152.7h1.3v1.3h-1.3zM106.3 172.4h1.3v1.3h-1.3zM98.4 160.4h1.3v1.3h-1.3zM99.7 161.8h1.3v1.3h-1.3zM104.2 166.4h1.3v1.3h-1.3zM96.1 167.9h1.3v1.3h-1.3zM96.3 161.4h1.3v1.3h-1.3zM106.8 163.6h1.3v1.3h-1.3zM96.3 156.5h1.3v1.3h-1.3zM98.7 159.7h1.3v1.3h-1.3zM106.7 153.5h1.3v1.3h-1.3zM103.3 163.0h1.3v1.3h-1.3zM103.8 162.3h1.3v1.3h-1.3zM108.6 162.4h1.3v1.3h-1.3zM105.3 162.8h1.3v1.3h-1.3zM110.0 150.5h1.3v1.3h-1.3zM107.4 158.7h1.3v1.3h-1.3zM99.6 155.2h1.3v1.3h-1.3zM91.7 158.1h1.3v1.3h-1.3zM97.6 162.5h1.3v1.3h-1.3zM93.6 167.2h1.3v1.3h-1.3zM102.4 158.8h1.3v1.3h-1.3zM97.5 156.1h1.3v1.3h-1.3zM95.3 157.3h1.3v1.3h-1.3zM101.0 159.1h1.3v1.3h-1.3zM93.9 158.7h1.3v1.3h-1.3zM96.5 160.8h1.3v1.3h-1.3zM110.3 163.1h1.3v1.3h-1.3zM99.4 151.9h1.3v1.3h-1.3zM93.9 151.6h1.3v1.3h-1.3zM104.6 156.2h1.3v1.3h-1.3zM101.3 156.9h1.3v1.3h-1.3zM101.5 167.0h1.3v1.3h-1.3zM97.6 158.3h1.3v1.3h-1.3zM97.0 164.4h1.3v1.3h-1.3zM95.9 154.3h1.3v1.3h-1.3zM94.1 153.0h1.3v1.3h-1.3zM103.4 172.8h1.3v1.3h-1.3zM96.0 164.8h1.3v1.3h-1.3zM102.3 154.5h1.3v1.3h-1.3zM99.6 158.8h1.3v1.3h-1.3zM97.5 169.7h1.3v1.3h-1.3zM91.5 161.9h1.3v1.3h-1.3zM102.7 157.1h1.3v1.3h-1.3zM101.7 164.4h1.3v1.3h-1.3zM101.8 162.1h1.3v1.3h-1.3zM104.5 149.8h1.3v1.3h-1.3zM108.4 171.4h1.3v1.3h-1.3zM105.9 165.1h1.3v1.3h-1.3zM94.0 159.4h1.3v1.3h-1.3zM96.9 157.1h1.3v1.3h-1.3zM105.8 156.0h1.3v1.3h-1.3zM100.3 150.5h1.3v1.3h-1.3zM100.2 160.5h1.3v1.3h-1.3zM97.5 156.4h1.3v1.3h-1.3zM110.4 154.0h1.3v1.3h-1.3zM95.7 156.0h1.3v1.3h-1.3zM107.0 170.5h1.3v1.3h-1.3zM102.7 156.4h1.3v1.3h-1.3zM98.9 165.3h1.3v1.3h-1.3zM96.4 167.3h1.3v1.3h-1.3zM108.1 160.4h1.3v1.3h-1.3zM104.2 163.7h1.3v1.3h-1.3zM108.8 154.7h1.3v1.3h-1.3zM106.9 158.1h1.3v1.3h-1.3zM112.2 147.4h1.3v1.3h-1.3zM99.1 147.2h1.3v1.3h-1.3zM109.1 132.8h1.3v1.3h-1.3zM112.6 181.4h1.3v1.3h-1.3zM111.6 168.5h1.3v1.3h-1.3zM108.9 149.1h1.3v1.3h-1.3zM94.8 152.0h1.3v1.3h-1.3zM113.7 145.0h1.3v1.3h-1.3zM99.2 145.7h1.3v1.3h-1.3zM101.1 157.6h1.3v1.3h-1.3zM98.8 165.8h1.3v1.3h-1.3zM109.2 152.5h1.3v1.3h-1.3zM101.5 149.4h1.3v1.3h-1.3zM115.2 154.9h1.3v1.3h-1.3zM112.5 169.0h1.3v1.3h-1.3zM114.4 134.8h1.3v1.3h-1.3zM110.3 151.6h1.3v1.3h-1.3zM104.8 147.3h1.3v1.3h-1.3zM102.1 164.3h1.3v1.3h-1.3zM125.5 150.1h1.3v1.3h-1.3zM94.2 162.4h1.3v1.3h-1.3zM94.0 159.7h1.3v1.3h-1.3zM96.3 165.7h1.3v1.3h-1.3zM108.4 144.4h1.3v1.3h-1.3zM113.0 147.9h1.3v1.3h-1.3zM105.1 157.1h1.3v1.3h-1.3zM78.7 128.7h1.3v1.3h-1.3zM89.2 145.4h1.3v1.3h-1.3zM113.9 163.9h1.3v1.3h-1.3zM100.8 155.7h1.3v1.3h-1.3zM106.1 152.3h1.3v1.3h-1.3zM104.8 145.9h1.3v1.3h-1.3zM122.6 151.8h1.3v1.3h-1.3zM114.3 160.2h1.3v1.3h-1.3zM108.4 152.7h1.3v1.3h-1.3zM111.1 155.8h1.3v1.3h-1.3zM102.3 165.1h1.3v1.3h-1.3zM104.0 143.5h1.3v1.3h-1.3zM92.1 171.1h1.3v1.3h-1.3zM120.5 160.1h1.3v1.3h-1.3zM103.0 169.5h1.3v1.3h-1.3zM128.8 163.9h1.3v1.3h-1.3zM107.9 162.2h1.3v1.3h-1.3zM95.1 145.3h1.3v1.3h-1.3zM118.8 143.1h1.3v1.3h-1.3zM101.2 157.8h1.3v1.3h-1.3zM101.9 134.5h1.3v1.3h-1.3zM95.9 143.4h1.3v1.3h-1.3zM109.6 171.0h1.3v1.3h-1.3zM93.8 190.0h1.3v1.3h-1.3zM102.7 143.8h1.3v1.3h-1.3zM115.5 158.5h1.3v1.3h-1.3zM106.8 164.8h1.3v1.3h-1.3zM110.1 161.0h1.3v1.3h-1.3zM86.9 164.4h1.3v1.3h-1.3zM97.4 142.4h1.3v1.3h-1.3zM105.8 179.4h1.3v1.3h-1.3zM90.6 156.3h1.3v1.3h-1.3zM102.8 155.5h1.3v1.3h-1.3zM103.8 154.8h1.3v1.3h-1.3zM99.0 158.3h1.3v1.3h-1.3zM102.1 165.4h1.3v1.3h-1.3zM107.1 151.3h1.3v1.3h-1.3zM116.0 154.9h1.3v1.3h-1.3zM110.4 153.8h1.3v1.3h-1.3zM96.1 142.5h1.3v1.3h-1.3zM90.7 158.7h1.3v1.3h-1.3zM104.9 164.6h1.3v1.3h-1.3zM109.5 132.1h1.3v1.3h-1.3zM102.6 145.0h1.3v1.3h-1.3zM120.5 146.6h1.3v1.3h-1.3zM111.0 154.6h1.3v1.3h-1.3zM111.6 152.1h1.3v1.3h-1.3zM111.0 146.9h1.3v1.3h-1.3zM102.3 161.4h1.3v1.3h-1.3zM99.9 144.1h1.3v1.3h-1.3zM107.8 158.7h1.3v1.3h-1.3zM101.2 148.0h1.3v1.3h-1.3zM123.4 174.6h1.3v1.3h-1.3zM111.0 153.7h1.3v1.3h-1.3zM81.5 144.7h1.3v1.3h-1.3zM99.1 152.4h1.3v1.3h-1.3zM94.2 168.3h1.3v1.3h-1.3zM109.6 145.5h1.3v1.3h-1.3zM100.1 153.6h1.3v1.3h-1.3zM94.8 146.9h1.3v1.3h-1.3zM114.2 156.9h1.3v1.3h-1.3zM98.3 179.9h1.3v1.3h-1.3zM114.2 164.5h1.3v1.3h-1.3zM113.1 175.1h1.3v1.3h-1.3zM97.5 165.8h1.3v1.3h-1.3zM105.7 158.7h1.3v1.3h-1.3zM105.6 159.3h1.3v1.3h-1.3zM93.5 134.9h1.3v1.3h-1.3zM93.4 136.6h1.3v1.3h-1.3zM105.6 155.7h1.3v1.3h-1.3zM123.5 141.0h1.3v1.3h-1.3zM100.8 164.7h1.3v1.3h-1.3zM110.3 183.2h1.3v1.3h-1.3zM123.2 148.0h1.3v1.3h-1.3zM106.5 162.0h1.3v1.3h-1.3zM93.4 160.9h1.3v1.3h-1.3zM103.1 144.1h1.3v1.3h-1.3zM110.4 146.4h1.3v1.3h-1.3zM107.2 133.7h1.3v1.3h-1.3zM101.4 160.7h1.3v1.3h-1.3zM87.2 148.5h1.3v1.3h-1.3zM106.7 143.6h1.3v1.3h-1.3zM100.8 152.1h1.3v1.3h-1.3zM99.0 164.6h1.3v1.3h-1.3zM106.0 155.3h1.3v1.3h-1.3zM97.1 159.9h1.3v1.3h-1.3zM102.1 169.5h1.3v1.3h-1.3zM105.3 156.9h1.3v1.3h-1.3zM111.0 166.2h1.3v1.3h-1.3zM102.6 167.1h1.3v1.3h-1.3zM100.9 165.0h1.3v1.3h-1.3zM97.1 168.2h1.3v1.3h-1.3zM131.8 140.4h1.3v1.3h-1.3zM95.3 149.6h1.3v1.3h-1.3zM99.9 148.0h1.3v1.3h-1.3zM95.6 180.1h1.3v1.3h-1.3zM121.6 141.4h1.3v1.3h-1.3zM125.1 161.5h1.3v1.3h-1.3zM94.2 131.3h1.3v1.3h-1.3zM102.6 153.8h1.3v1.3h-1.3zM90.7 138.6h1.3v1.3h-1.3zM117.3 168.9h1.3v1.3h-1.3zM129.3 141.3h1.3v1.3h-1.3zM130.0 162.1h1.3v1.3h-1.3zM101.4 158.6h1.3v1.3h-1.3zM102.8 169.7h1.3v1.3h-1.3zM116.2 152.7h1.3v1.3h-1.3zM94.3 139.6h1.3v1.3h-1.3zM88.9 174.6h1.3v1.3h-1.3zM113.1 150.4h1.3v1.3h-1.3zM105.3 130.9h1.3v1.3h-1.3zM105.1 146.8h1.3v1.3h-1.3zM115.1 162.0h1.3v1.3h-1.3zM113.5 152.7h1.3v1.3h-1.3zM92.6 155.3h1.3v1.3h-1.3zM96.4 152.2h1.3v1.3h-1.3zM102.5 168.8h1.3v1.3h-1.3zM94.5 147.7h1.3v1.3h-1.3zM98.7 152.0h1.3v1.3h-1.3zM100.1 161.8h1.3v1.3h-1.3zM119.5 151.5h1.3v1.3h-1.3zM95.9 159.4h1.3v1.3h-1.3zM95.4 165.7h1.3v1.3h-1.3zM109.2 152.4h1.3v1.3h-1.3zM107.5 144.5h1.3v1.3h-1.3zM120.2 161.8h1.3v1.3h-1.3zM93.4 169.5h1.3v1.3h-1.3zM94.4 171.9h1.3v1.3h-1.3zM110.9 164.0h1.3v1.3h-1.3zM124.5 171.6h1.3v1.3h-1.3zM94.1 150.9h1.3v1.3h-1.3zM93.4 166.6h1.3v1.3h-1.3zM82.6 135.1h1.3v1.3h-1.3zM106.0 170.2h1.3v1.3h-1.3zM108.8 168.9h1.3v1.3h-1.3zM93.8 172.7h1.3v1.3h-1.3zM93.1 160.8h1.3v1.3h-1.3zM117.5 157.1h1.3v1.3h-1.3zM91.9 151.7h1.3v1.3h-1.3zM101.9 157.8h1.3v1.3h-1.3zM115.4 148.7h1.3v1.3h-1.3zM95.4 141.9h1.3v1.3h-1.3zM128.8 153.1h1.3v1.3h-1.3zM118.4 140.1h1.3v1.3h-1.3zM107.2 165.0h1.3v1.3h-1.3zM111.8 140.2h1.3v1.3h-1.3zM111.8 161.0h1.3v1.3h-1.3zM100.6 141.7h1.3v1.3h-1.3zM108.4 171.8h1.3v1.3h-1.3zM98.2 155.5h1.3v1.3h-1.3zM104.1 159.9h1.3v1.3h-1.3zM89.5 156.9h1.3v1.3h-1.3zM103.8 155.3h1.3v1.3h-1.3zM115.6 144.4h1.3v1.3h-1.3zM102.3 153.1h1.3v1.3h-1.3zM91.2 151.3h1.3v1.3h-1.3zM110.0 156.8h1.3v1.3h-1.3zM113.2 164.0h1.3v1.3h-1.3zM101.5 133.8h1.3v1.3h-1.3zM108.2 160.1h1.3v1.3h-1.3zM96.5 181.0h1.3v1.3h-1.3zM118.9 150.2h1.3v1.3h-1.3zM99.2 137.7h1.3v1.3h-1.3zM90.6 184.5h1.3v1.3h-1.3zM105.8 165.7h1.3v1.3h-1.3zM95.8 175.8h1.3v1.3h-1.3zM88.8 162.2h1.3v1.3h-1.3zM127.8 148.2h1.3v1.3h-1.3zM100.1 173.5h1.3v1.3h-1.3zM105.8 158.3h1.3v1.3h-1.3zM123.9 156.3h1.3v1.3h-1.3zM105.7 164.8h1.3v1.3h-1.3zM112.3 164.8h1.3v1.3h-1.3zM86.8 188.6h1.3v1.3h-1.3zM90.7 180.4h1.3v1.3h-1.3zM78.5 194.4h1.3v1.3h-1.3zM88.9 185.9h1.3v1.3h-1.3zM85.2 190.6h1.3v1.3h-1.3zM91.9 178.2h1.3v1.3h-1.3zM86.9 178.0h1.3v1.3h-1.3zM83.6 187.1h1.3v1.3h-1.3zM92.9 194.2h1.3v1.3h-1.3zM86.0 189.9h1.3v1.3h-1.3zM86.6 179.7h1.3v1.3h-1.3zM87.4 179.1h1.3v1.3h-1.3zM87.1 178.7h1.3v1.3h-1.3zM83.7 182.3h1.3v1.3h-1.3zM123.0 145.9h1.3v1.3h-1.3zM145.4 150.2h1.3v1.3h-1.3zM152.3 153.1h1.3v1.3h-1.3zM135.9 152.0h1.3v1.3h-1.3zM122.7 156.8h1.3v1.3h-1.3zM154.3 149.4h1.3v1.3h-1.3zM126.0 151.1h1.3v1.3h-1.3zM117.6 147.7h1.3v1.3h-1.3zM149.0 150.2h1.3v1.3h-1.3zM134.1 152.9h1.3v1.3h-1.3zM127.5 150.9h1.3v1.3h-1.3zM134.0 147.5h1.3v1.3h-1.3zM145.6 147.0h1.3v1.3h-1.3zM162.8 148.2h1.3v1.3h-1.3zM212.0 150.9h1.3v1.3h-1.3zM220.1 147.9h1.3v1.3h-1.3zM233.1 149.0h1.3v1.3h-1.3zM219.6 147.8h1.3v1.3h-1.3zM217.1 150.4h1.3v1.3h-1.3zM224.7 152.6h1.3v1.3h-1.3zM219.5 145.8h1.3v1.3h-1.3zM216.1 156.1h1.3v1.3h-1.3zM226.3 146.6h1.3v1.3h-1.3zM233.4 143.0h1.3v1.3h-1.3zM221.4 150.8h1.3v1.3h-1.3zM231.1 147.0h1.3v1.3h-1.3zM215.4 152.8h1.3v1.3h-1.3zM230.0 154.6h1.3v1.3h-1.3zM222.3 152.0h1.3v1.3h-1.3zM226.8 144.4h1.3v1.3h-1.3zM231.4 147.1h1.3v1.3h-1.3zM226.7 151.8h1.3v1.3h-1.3zM222.0 152.8h1.3v1.3h-1.3zM222.6 147.9h1.3v1.3h-1.3zM237.1 145.1h1.3v1.3h-1.3zM229.9 146.9h1.3v1.3h-1.3zM225.2 146.1h1.3v1.3h-1.3zM231.4 148.5h1.3v1.3h-1.3zM223.6 148.9h1.3v1.3h-1.3zM221.8 151.2h1.3v1.3h-1.3zM231.1 149.2h1.3v1.3h-1.3zM213.1 152.2h1.3v1.3h-1.3zM219.7 158.1h1.3v1.3h-1.3zM215.2 151.0h1.3v1.3h-1.3zM213.3 155.2h1.3v1.3h-1.3zM226.2 149.7h1.3v1.3h-1.3zM221.5 152.3h1.3v1.3h-1.3zM227.5 155.2h1.3v1.3h-1.3zM228.1 146.0h1.3v1.3h-1.3zM221.1 155.0h1.3v1.3h-1.3zM217.3 149.3h1.3v1.3h-1.3zM219.2 154.8h1.3v1.3h-1.3zM213.2 150.0h1.3v1.3h-1.3zM223.4 150.4h1.3v1.3h-1.3zM233.6 145.5h1.3v1.3h-1.3zM217.8 151.5h1.3v1.3h-1.3zM230.2 152.7h1.3v1.3h-1.3zM220.3 156.4h1.3v1.3h-1.3zM229.6 149.3h1.3v1.3h-1.3zM218.2 150.6h1.3v1.3h-1.3zM230.4 152.5h1.3v1.3h-1.3zM214.5 149.9h1.3v1.3h-1.3zM238.7 141.0h1.3v1.3h-1.3zM230.8 148.6h1.3v1.3h-1.3zM221.2 151.7h1.3v1.3h-1.3zM229.3 150.2h1.3v1.3h-1.3zM230.6 149.0h1.3v1.3h-1.3zM231.8 159.2h1.3v1.3h-1.3zM219.2 149.6h1.3v1.3h-1.3zM230.4 147.6h1.3v1.3h-1.3zM233.9 145.3h1.3v1.3h-1.3zM230.4 152.7h1.3v1.3h-1.3zM226.6 147.4h1.3v1.3h-1.3zM231.6 144.3h1.3v1.3h-1.3zM225.1 150.1h1.3v1.3h-1.3zM217.6 150.9h1.3v1.3h-1.3zM219.1 153.9h1.3v1.3h-1.3zM222.7 143.9h1.3v1.3h-1.3zM233.4 151.2h1.3v1.3h-1.3zM217.0 154.4h1.3v1.3h-1.3zM220.0 151.0h1.3v1.3h-1.3zM226.4 148.0h1.3v1.3h-1.3zM219.6 154.1h1.3v1.3h-1.3zM226.0 149.4h1.3v1.3h-1.3zM222.1 153.2h1.3v1.3h-1.3zM231.9 155.5h1.3v1.3h-1.3zM223.5 151.5h1.3v1.3h-1.3zM217.5 157.4h1.3v1.3h-1.3zM226.1 152.7h1.3v1.3h-1.3zM230.6 146.7h1.3v1.3h-1.3zM239.7 151.0h1.3v1.3h-1.3zM237.0 149.8h1.3v1.3h-1.3zM228.8 146.0h1.3v1.3h-1.3zM226.5 151.6h1.3v1.3h-1.3zM223.4 158.4h1.3v1.3h-1.3zM223.9 154.8h1.3v1.3h-1.3zM229.3 152.4h1.3v1.3h-1.3zM223.6 149.7h1.3v1.3h-1.3zM225.5 150.6h1.3v1.3h-1.3zM224.3 152.8h1.3v1.3h-1.3zM227.2 147.4h1.3v1.3h-1.3zM218.7 146.4h1.3v1.3h-1.3zM230.4 155.3h1.3v1.3h-1.3zM240.2 143.4h1.3v1.3h-1.3zM219.1 146.5h1.3v1.3h-1.3zM206.8 146.8h1.3v1.3h-1.3zM218.3 159.2h1.3v1.3h-1.3zM219.3 152.0h1.3v1.3h-1.3zM221.9 148.5h1.3v1.3h-1.3zM219.0 148.6h1.3v1.3h-1.3zM227.7 154.0h1.3v1.3h-1.3zM231.2 147.6h1.3v1.3h-1.3zM222.5 146.6h1.3v1.3h-1.3zM218.5 154.4h1.3v1.3h-1.3zM233.9 148.0h1.3v1.3h-1.3zM228.8 147.2h1.3v1.3h-1.3zM223.7 148.6h1.3v1.3h-1.3zM218.5 150.4h1.3v1.3h-1.3zM219.2 152.7h1.3v1.3h-1.3zM219.3 150.7h1.3v1.3h-1.3zM226.7 146.0h1.3v1.3h-1.3zM222.7 155.4h1.3v1.3h-1.3zM214.0 159.6h1.3v1.3h-1.3zM223.3 150.7h1.3v1.3h-1.3zM222.7 151.6h1.3v1.3h-1.3zM217.4 157.1h1.3v1.3h-1.3zM229.1 147.0h1.3v1.3h-1.3zM217.3 154.7h1.3v1.3h-1.3zM227.7 154.7h1.3v1.3h-1.3zM227.0 149.3h1.3v1.3h-1.3zM225.5 143.2h1.3v1.3h-1.3zM218.5 148.4h1.3v1.3h-1.3zM227.5 147.3h1.3v1.3h-1.3zM220.6 152.1h1.3v1.3h-1.3zM223.0 145.1h1.3v1.3h-1.3zM223.8 145.6h1.3v1.3h-1.3zM223.6 152.9h1.3v1.3h-1.3zM227.4 158.2h1.3v1.3h-1.3zM222.6 154.1h1.3v1.3h-1.3zM223.9 150.6h1.3v1.3h-1.3zM220.6 156.7h1.3v1.3h-1.3zM233.9 152.2h1.3v1.3h-1.3zM223.1 155.4h1.3v1.3h-1.3zM220.8 147.5h1.3v1.3h-1.3zM234.0 155.2h1.3v1.3h-1.3zM221.9 146.5h1.3v1.3h-1.3zM222.5 150.4h1.3v1.3h-1.3zM233.3 139.4h1.3v1.3h-1.3zM234.8 148.9h1.3v1.3h-1.3zM225.0 150.0h1.3v1.3h-1.3zM224.0 153.7h1.3v1.3h-1.3zM237.0 145.9h1.3v1.3h-1.3zM228.5 145.1h1.3v1.3h-1.3zM228.1 149.5h1.3v1.3h-1.3zM224.9 145.4h1.3v1.3h-1.3zM230.1 157.2h1.3v1.3h-1.3zM229.3 143.1h1.3v1.3h-1.3zM224.1 153.6h1.3v1.3h-1.3zM221.0 147.9h1.3v1.3h-1.3zM218.2 150.1h1.3v1.3h-1.3zM231.0 146.7h1.3v1.3h-1.3zM226.5 153.3h1.3v1.3h-1.3zM221.3 152.1h1.3v1.3h-1.3zM219.6 153.1h1.3v1.3h-1.3zM218.1 147.8h1.3v1.3h-1.3zM235.2 150.7h1.3v1.3h-1.3zM232.8 147.3h1.3v1.3h-1.3zM225.0 149.1h1.3v1.3h-1.3zM229.3 155.0h1.3v1.3h-1.3zM240.9 149.3h1.3v1.3h-1.3zM211.5 155.4h1.3v1.3h-1.3zM225.9 153.5h1.3v1.3h-1.3zM212.9 150.3h1.3v1.3h-1.3zM224.3 150.5h1.3v1.3h-1.3zM221.9 152.6h1.3v1.3h-1.3zM220.6 150.8h1.3v1.3h-1.3zM224.0 148.7h1.3v1.3h-1.3zM228.8 149.2h1.3v1.3h-1.3zM224.5 146.6h1.3v1.3h-1.3zM215.6 153.5h1.3v1.3h-1.3zM234.4 152.2h1.3v1.3h-1.3zM230.0 151.4h1.3v1.3h-1.3zM225.4 151.8h1.3v1.3h-1.3zM223.3 149.3h1.3v1.3h-1.3zM227.1 158.2h1.3v1.3h-1.3zM238.3 147.0h1.3v1.3h-1.3zM221.2 148.1h1.3v1.3h-1.3zM235.5 156.0h1.3v1.3h-1.3zM229.5 157.6h1.3v1.3h-1.3zM221.9 152.3h1.3v1.3h-1.3zM222.9 154.1h1.3v1.3h-1.3zM218.5 154.8h1.3v1.3h-1.3zM224.3 151.9h1.3v1.3h-1.3zM218.0 156.4h1.3v1.3h-1.3zM230.2 146.9h1.3v1.3h-1.3zM222.3 149.4h1.3v1.3h-1.3zM226.1 146.9h1.3v1.3h-1.3zM227.0 152.0h1.3v1.3h-1.3zM219.1 152.9h1.3v1.3h-1.3zM212.7 154.7h1.3v1.3h-1.3zM207.3 160.6h1.3v1.3h-1.3zM221.5 150.2h1.3v1.3h-1.3zM241.5 145.1h1.3v1.3h-1.3zM226.1 158.1h1.3v1.3h-1.3zM235.3 155.1h1.3v1.3h-1.3zM227.3 153.1h1.3v1.3h-1.3zM240.1 146.7h1.3v1.3h-1.3zM227.8 152.7h1.3v1.3h-1.3zM223.2 147.2h1.3v1.3h-1.3zM220.2 155.2h1.3v1.3h-1.3zM222.6 155.7h1.3v1.3h-1.3zM218.5 153.0h1.3v1.3h-1.3zM231.4 143.5h1.3v1.3h-1.3zM217.9 156.1h1.3v1.3h-1.3zM223.9 149.7h1.3v1.3h-1.3zM224.8 151.1h1.3v1.3h-1.3zM226.2 147.9h1.3v1.3h-1.3zM212.5 155.9h1.3v1.3h-1.3zM227.1 145.3h1.3v1.3h-1.3zM230.1 152.2h1.3v1.3h-1.3zM220.3 151.7h1.3v1.3h-1.3zM224.3 150.0h1.3v1.3h-1.3zM233.0 153.5h1.3v1.3h-1.3zM225.6 160.4h1.3v1.3h-1.3zM229.3 149.1h1.3v1.3h-1.3zM219.5 151.8h1.3v1.3h-1.3zM232.1 145.0h1.3v1.3h-1.3zM224.8 152.4h1.3v1.3h-1.3zM226.7 154.4h1.3v1.3h-1.3zM219.5 154.0h1.3v1.3h-1.3zM224.6 150.2h1.3v1.3h-1.3zM222.8 155.3h1.3v1.3h-1.3zM225.2 152.7h1.3v1.3h-1.3zM225.3 145.4h1.3v1.3h-1.3zM231.8 151.8h1.3v1.3h-1.3zM224.2 157.4h1.3v1.3h-1.3zM225.7 154.2h1.3v1.3h-1.3zM218.3 157.0h1.3v1.3h-1.3zM228.4 149.2h1.3v1.3h-1.3zM223.1 147.8h1.3v1.3h-1.3zM223.4 155.5h1.3v1.3h-1.3zM230.1 157.0h1.3v1.3h-1.3zM226.5 149.7h1.3v1.3h-1.3zM225.6 148.1h1.3v1.3h-1.3zM222.6 151.9h1.3v1.3h-1.3zM215.9 156.3h1.3v1.3h-1.3zM221.6 151.2h1.3v1.3h-1.3zM233.2 148.0h1.3v1.3h-1.3zM231.1 152.7h1.3v1.3h-1.3zM227.1 156.8h1.3v1.3h-1.3zM221.6 155.3h1.3v1.3h-1.3zM223.9 152.2h1.3v1.3h-1.3zM222.2 155.5h1.3v1.3h-1.3zM229.7 151.4h1.3v1.3h-1.3zM209.5 155.7h1.3v1.3h-1.3zM225.7 148.1h1.3v1.3h-1.3zM234.9 152.4h1.3v1.3h-1.3zM225.0 152.2h1.3v1.3h-1.3zM217.0 163.3h1.3v1.3h-1.3zM231.4 153.0h1.3v1.3h-1.3zM221.8 153.6h1.3v1.3h-1.3zM222.1 151.8h1.3v1.3h-1.3zM216.3 156.2h1.3v1.3h-1.3zM224.4 156.1h1.3v1.3h-1.3zM220.2 154.3h1.3v1.3h-1.3zM225.1 157.8h1.3v1.3h-1.3zM221.9 151.7h1.3v1.3h-1.3zM229.6 148.2h1.3v1.3h-1.3zM231.3 149.4h1.3v1.3h-1.3zM221.1 144.3h1.3v1.3h-1.3zM225.6 153.3h1.3v1.3h-1.3zM222.9 148.0h1.3v1.3h-1.3zM216.7 151.0h1.3v1.3h-1.3zM231.0 144.9h1.3v1.3h-1.3zM226.2 154.4h1.3v1.3h-1.3zM218.4 154.0h1.3v1.3h-1.3zM231.3 146.4h1.3v1.3h-1.3zM230.1 148.7h1.3v1.3h-1.3zM235.6 148.0h1.3v1.3h-1.3zM221.0 151.7h1.3v1.3h-1.3zM221.2 148.6h1.3v1.3h-1.3zM232.8 146.0h1.3v1.3h-1.3zM219.3 156.8h1.3v1.3h-1.3zM229.1 154.4h1.3v1.3h-1.3zM228.6 155.7h1.3v1.3h-1.3zM221.6 150.3h1.3v1.3h-1.3zM219.4 149.8h1.3v1.3h-1.3zM228.9 144.1h1.3v1.3h-1.3zM223.4 151.3h1.3v1.3h-1.3zM225.0 149.4h1.3v1.3h-1.3zM216.0 152.2h1.3v1.3h-1.3zM230.7 154.0h1.3v1.3h-1.3zM217.0 154.9h1.3v1.3h-1.3zM234.6 145.6h1.3v1.3h-1.3zM221.4 152.2h1.3v1.3h-1.3zM214.3 149.1h1.3v1.3h-1.3zM220.3 150.1h1.3v1.3h-1.3zM217.1 153.2h1.3v1.3h-1.3zM218.2 150.7h1.3v1.3h-1.3zM232.0 144.4h1.3v1.3h-1.3zM227.4 146.2h1.3v1.3h-1.3zM219.4 158.0h1.3v1.3h-1.3zM222.2 147.9h1.3v1.3h-1.3zM224.9 148.4h1.3v1.3h-1.3zM216.8 154.9h1.3v1.3h-1.3zM221.7 150.5h1.3v1.3h-1.3zM236.0 144.5h1.3v1.3h-1.3zM232.0 150.2h1.3v1.3h-1.3zM223.5 148.4h1.3v1.3h-1.3zM229.1 155.8h1.3v1.3h-1.3zM229.6 145.9h1.3v1.3h-1.3zM225.6 148.1h1.3v1.3h-1.3zM228.1 152.1h1.3v1.3h-1.3zM212.8 148.0h1.3v1.3h-1.3zM225.2 151.1h1.3v1.3h-1.3zM225.3 150.2h1.3v1.3h-1.3zM228.1 153.9h1.3v1.3h-1.3zM227.6 149.7h1.3v1.3h-1.3zM225.1 151.4h1.3v1.3h-1.3zM227.1 154.2h1.3v1.3h-1.3zM225.2 151.6h1.3v1.3h-1.3zM224.2 147.4h1.3v1.3h-1.3zM228.7 145.7h1.3v1.3h-1.3zM223.1 148.9h1.3v1.3h-1.3zM231.5 149.8h1.3v1.3h-1.3zM219.9 145.8h1.3v1.3h-1.3zM215.1 154.3h1.3v1.3h-1.3zM226.8 154.6h1.3v1.3h-1.3zM223.9 149.0h1.3v1.3h-1.3zM210.9 151.4h1.3v1.3h-1.3zM226.5 153.8h1.3v1.3h-1.3zM231.2 148.6h1.3v1.3h-1.3zM225.4 160.2h1.3v1.3h-1.3zM230.2 149.1h1.3v1.3h-1.3zM221.2 152.5h1.3v1.3h-1.3zM232.6 150.2h1.3v1.3h-1.3zM224.9 152.8h1.3v1.3h-1.3zM219.5 156.7h1.3v1.3h-1.3zM223.0 152.9h1.3v1.3h-1.3zM231.3 148.4h1.3v1.3h-1.3zM223.2 150.0h1.3v1.3h-1.3zM223.5 148.3h1.3v1.3h-1.3zM218.4 161.5h1.3v1.3h-1.3zM227.7 151.7h1.3v1.3h-1.3zM227.8 155.0h1.3v1.3h-1.3zM222.5 152.1h1.3v1.3h-1.3zM226.5 151.0h1.3v1.3h-1.3zM231.7 151.5h1.3v1.3h-1.3zM229.8 151.5h1.3v1.3h-1.3zM225.5 155.1h1.3v1.3h-1.3zM226.3 154.6h1.3v1.3h-1.3zM231.1 151.4h1.3v1.3h-1.3zM226.5 151.3h1.3v1.3h-1.3zM225.6 154.4h1.3v1.3h-1.3zM237.3 148.3h1.3v1.3h-1.3zM235.2 152.4h1.3v1.3h-1.3zM235.5 143.7h1.3v1.3h-1.3zM236.7 153.6h1.3v1.3h-1.3zM232.7 149.0h1.3v1.3h-1.3zM226.1 143.6h1.3v1.3h-1.3zM227.7 152.7h1.3v1.3h-1.3zM227.2 154.0h1.3v1.3h-1.3zM227.1 150.3h1.3v1.3h-1.3zM227.7 151.5h1.3v1.3h-1.3zM214.2 155.9h1.3v1.3h-1.3zM223.2 149.2h1.3v1.3h-1.3zM231.1 154.7h1.3v1.3h-1.3zM230.5 145.7h1.3v1.3h-1.3zM225.1 149.3h1.3v1.3h-1.3zM210.8 146.4h1.3v1.3h-1.3zM223.7 154.2h1.3v1.3h-1.3zM230.9 146.6h1.3v1.3h-1.3zM224.3 157.6h1.3v1.3h-1.3zM228.6 143.7h1.3v1.3h-1.3zM221.0 158.2h1.3v1.3h-1.3zM224.5 142.6h1.3v1.3h-1.3zM216.2 153.1h1.3v1.3h-1.3zM218.3 153.0h1.3v1.3h-1.3zM226.7 148.7h1.3v1.3h-1.3zM217.9 158.8h1.3v1.3h-1.3zM236.5 143.6h1.3v1.3h-1.3zM214.1 153.1h1.3v1.3h-1.3zM233.0 148.4h1.3v1.3h-1.3zM225.5 150.5h1.3v1.3h-1.3zM227.5 149.0h1.3v1.3h-1.3zM228.1 151.3h1.3v1.3h-1.3zM229.5 148.4h1.3v1.3h-1.3zM227.3 155.3h1.3v1.3h-1.3zM222.7 151.3h1.3v1.3h-1.3zM222.3 153.4h1.3v1.3h-1.3zM219.2 154.9h1.3v1.3h-1.3zM216.0 159.1h1.3v1.3h-1.3zM224.8 149.5h1.3v1.3h-1.3zM220.4 154.5h1.3v1.3h-1.3zM233.3 140.4h1.3v1.3h-1.3zM248.0 143.8h1.3v1.3h-1.3zM231.0 152.4h1.3v1.3h-1.3zM245.4 148.2h1.3v1.3h-1.3zM239.3 147.3h1.3v1.3h-1.3zM230.9 144.6h1.3v1.3h-1.3zM235.7 136.6h1.3v1.3h-1.3zM238.3 136.9h1.3v1.3h-1.3zM232.1 148.4h1.3v1.3h-1.3zM229.3 150.9h1.3v1.3h-1.3zM239.9 146.9h1.3v1.3h-1.3zM238.6 148.6h1.3v1.3h-1.3zM231.3 143.6h1.3v1.3h-1.3zM235.1 147.2h1.3v1.3h-1.3zM238.5 150.1h1.3v1.3h-1.3zM222.7 149.8h1.3v1.3h-1.3zM233.8 136.4h1.3v1.3h-1.3zM235.2 144.8h1.3v1.3h-1.3zM250.2 142.7h1.3v1.3h-1.3zM229.8 145.4h1.3v1.3h-1.3zM236.0 141.9h1.3v1.3h-1.3zM227.4 142.4h1.3v1.3h-1.3zM240.3 154.6h1.3v1.3h-1.3zM235.4 149.1h1.3v1.3h-1.3zM234.1 141.6h1.3v1.3h-1.3zM235.9 148.7h1.3v1.3h-1.3zM242.5 145.9h1.3v1.3h-1.3zM228.2 154.8h1.3v1.3h-1.3zM244.2 138.8h1.3v1.3h-1.3zM247.7 147.5h1.3v1.3h-1.3zM232.0 151.6h1.3v1.3h-1.3zM239.1 139.7h1.3v1.3h-1.3zM234.6 147.6h1.3v1.3h-1.3zM241.0 145.4h1.3v1.3h-1.3zM231.0 149.6h1.3v1.3h-1.3zM238.7 135.3h1.3v1.3h-1.3zM237.0 147.0h1.3v1.3h-1.3zM236.1 144.5h1.3v1.3h-1.3zM240.9 148.3h1.3v1.3h-1.3zM235.6 147.4h1.3v1.3h-1.3zM240.6 141.8h1.3v1.3h-1.3zM232.3 143.1h1.3v1.3h-1.3zM243.0 142.4h1.3v1.3h-1.3zM227.1 150.9h1.3v1.3h-1.3zM224.8 150.2h1.3v1.3h-1.3zM234.9 140.2h1.3v1.3h-1.3zM241.2 151.7h1.3v1.3h-1.3zM234.0 151.0h1.3v1.3h-1.3zM230.2 148.8h1.3v1.3h-1.3zM236.6 147.0h1.3v1.3h-1.3zM231.2 150.7h1.3v1.3h-1.3zM231.9 148.9h1.3v1.3h-1.3zM239.8 143.9h1.3v1.3h-1.3zM243.0 148.9h1.3v1.3h-1.3zM249.0 140.7h1.3v1.3h-1.3zM218.2 151.6h1.3v1.3h-1.3zM242.7 144.0h1.3v1.3h-1.3zM226.0 149.6h1.3v1.3h-1.3zM231.0 149.0h1.3v1.3h-1.3zM242.6 159.6h1.3v1.3h-1.3zM233.6 144.9h1.3v1.3h-1.3zM239.0 147.4h1.3v1.3h-1.3zM233.5 151.4h1.3v1.3h-1.3zM231.7 141.2h1.3v1.3h-1.3zM230.9 147.0h1.3v1.3h-1.3zM234.6 139.9h1.3v1.3h-1.3zM237.7 142.4h1.3v1.3h-1.3zM232.9 140.7h1.3v1.3h-1.3zM234.9 147.7h1.3v1.3h-1.3zM241.6 141.5h1.3v1.3h-1.3zM217.5 165.9h1.3v1.3h-1.3zM223.4 157.9h1.3v1.3h-1.3zM219.2 159.7h1.3v1.3h-1.3zM207.0 165.0h1.3v1.3h-1.3zM210.0 162.6h1.3v1.3h-1.3zM204.3 172.5h1.3v1.3h-1.3zM204.5 163.4h1.3v1.3h-1.3zM219.0 165.9h1.3v1.3h-1.3zM212.5 163.7h1.3v1.3h-1.3zM208.4 161.7h1.3v1.3h-1.3zM208.4 166.9h1.3v1.3h-1.3zM208.7 164.0h1.3v1.3h-1.3zM208.4 163.9h1.3v1.3h-1.3zM209.3 170.9h1.3v1.3h-1.3zM208.5 168.8h1.3v1.3h-1.3zM204.6 157.8h1.3v1.3h-1.3zM207.6 166.1h1.3v1.3h-1.3zM211.1 164.3h1.3v1.3h-1.3zM217.7 160.0h1.3v1.3h-1.3zM211.2 171.1h1.3v1.3h-1.3zM213.5 160.6h1.3v1.3h-1.3zM203.7 165.6h1.3v1.3h-1.3zM202.3 170.1h1.3v1.3h-1.3zM217.8 166.1h1.3v1.3h-1.3zM201.7 164.4h1.3v1.3h-1.3zM204.2 167.8h1.3v1.3h-1.3zM204.4 167.3h1.3v1.3h-1.3zM220.3 162.9h1.3v1.3h-1.3zM211.0 174.0h1.3v1.3h-1.3zM205.0 171.3h1.3v1.3h-1.3zM212.3 162.8h1.3v1.3h-1.3zM212.1 161.6h1.3v1.3h-1.3zM209.2 156.1h1.3v1.3h-1.3zM211.1 165.3h1.3v1.3h-1.3zM201.1 173.5h1.3v1.3h-1.3zM215.2 165.7h1.3v1.3h-1.3zM216.8 160.2h1.3v1.3h-1.3zM223.2 165.2h1.3v1.3h-1.3zM207.3 162.6h1.3v1.3h-1.3zM213.8 167.9h1.3v1.3h-1.3zM210.3 167.4h1.3v1.3h-1.3zM215.0 160.9h1.3v1.3h-1.3zM213.0 168.2h1.3v1.3h-1.3zM214.1 159.4h1.3v1.3h-1.3zM205.1 164.7h1.3v1.3h-1.3zM196.6 186.6h1.3v1.3h-1.3zM202.0 188.7h1.3v1.3h-1.3zM199.7 185.5h1.3v1.3h-1.3zM201.4 173.4h1.3v1.3h-1.3zM202.3 186.9h1.3v1.3h-1.3zM201.8 192.8h1.3v1.3h-1.3zM199.4 182.2h1.3v1.3h-1.3zM196.1 185.7h1.3v1.3h-1.3zM197.0 177.4h1.3v1.3h-1.3zM192.8 183.2h1.3v1.3h-1.3zM193.6 179.8h1.3v1.3h-1.3zM192.5 183.9h1.3v1.3h-1.3zM191.7 181.2h1.3v1.3h-1.3zM205.4 180.1h1.3v1.3h-1.3zM203.4 175.6h1.3v1.3h-1.3zM194.7 172.3h1.3v1.3h-1.3zM200.1 182.7h1.3v1.3h-1.3zM206.1 175.1h1.3v1.3h-1.3zM200.0 173.4h1.3v1.3h-1.3zM197.8 178.6h1.3v1.3h-1.3zM197.2 183.8h1.3v1.3h-1.3zM191.0 194.0h1.3v1.3h-1.3zM190.2 188.1h1.3v1.3h-1.3zM189.5 194.6h1.3v1.3h-1.3zM186.5 185.7h1.3v1.3h-1.3zM184.3 191.3h1.3v1.3h-1.3zM188.9 184.5h1.3v1.3h-1.3zM194.9 194.3h1.3v1.3h-1.3zM191.4 185.3h1.3v1.3h-1.3zM186.4 187.8h1.3v1.3h-1.3zM71.7 323.5h1.3v1.3h-1.3zM69.4 322.9h1.3v1.3h-1.3zM71.6 330.3h1.3v1.3h-1.3zM74.1 319.5h1.3v1.3h-1.3zM70.2 317.6h1.3v1.3h-1.3zM73.1 314.7h1.3v1.3h-1.3zM72.8 314.1h1.3v1.3h-1.3zM72.2 322.9h1.3v1.3h-1.3zM74.3 329.6h1.3v1.3h-1.3zM70.5 315.4h1.3v1.3h-1.3zM76.4 309.7h1.3v1.3h-1.3zM75.5 323.5h1.3v1.3h-1.3zM71.3 332.3h1.3v1.3h-1.3zM71.2 321.1h1.3v1.3h-1.3zM72.7 325.2h1.3v1.3h-1.3zM74.5 307.3h1.3v1.3h-1.3zM69.5 315.8h1.3v1.3h-1.3zM73.9 333.8h1.3v1.3h-1.3zM72.7 321.3h1.3v1.3h-1.3zM73.6 321.7h1.3v1.3h-1.3zM72.8 321.9h1.3v1.3h-1.3zM70.5 315.9h1.3v1.3h-1.3zM69.6 327.1h1.3v1.3h-1.3zM74.8 319.8h1.3v1.3h-1.3zM71.2 325.5h1.3v1.3h-1.3zM70.5 315.2h1.3v1.3h-1.3zM70.4 329.1h1.3v1.3h-1.3zM74.7 321.7h1.3v1.3h-1.3zM69.4 330.1h1.3v1.3h-1.3zM72.2 330.6h1.3v1.3h-1.3zM72.4 320.0h1.3v1.3h-1.3zM73.0 319.1h1.3v1.3h-1.3zM70.6 317.0h1.3v1.3h-1.3zM75.5 327.8h1.3v1.3h-1.3zM75.1 326.1h1.3v1.3h-1.3zM70.0 316.8h1.3v1.3h-1.3zM70.0 322.5h1.3v1.3h-1.3zM76.3 315.9h1.3v1.3h-1.3zM76.9 323.9h1.3v1.3h-1.3zM74.9 320.6h1.3v1.3h-1.3zM69.4 316.5h1.3v1.3h-1.3zM70.5 314.5h1.3v1.3h-1.3zM73.7 318.1h1.3v1.3h-1.3zM71.9 325.0h1.3v1.3h-1.3zM72.2 306.8h1.3v1.3h-1.3zM79.2 311.8h1.3v1.3h-1.3zM71.6 318.3h1.3v1.3h-1.3zM69.5 310.8h1.3v1.3h-1.3zM74.1 309.7h1.3v1.3h-1.3zM72.8 317.9h1.3v1.3h-1.3zM69.4 314.5h1.3v1.3h-1.3zM72.3 305.6h1.3v1.3h-1.3zM69.6 310.9h1.3v1.3h-1.3zM75.2 331.9h1.3v1.3h-1.3zM70.3 316.2h1.3v1.3h-1.3zM71.6 313.3h1.3v1.3h-1.3zM78.1 320.2h1.3v1.3h-1.3zM71.1 316.9h1.3v1.3h-1.3zM74.1 320.2h1.3v1.3h-1.3zM72.2 321.6h1.3v1.3h-1.3zM72.0 317.2h1.3v1.3h-1.3zM75.7 320.4h1.3v1.3h-1.3zM70.2 325.8h1.3v1.3h-1.3zM73.3 300.4h1.3v1.3h-1.3zM71.7 316.3h1.3v1.3h-1.3zM70.9 329.8h1.3v1.3h-1.3zM69.2 319.2h1.3v1.3h-1.3zM74.4 333.0h1.3v1.3h-1.3zM72.9 313.7h1.3v1.3h-1.3zM73.9 314.2h1.3v1.3h-1.3zM71.9 322.9h1.3v1.3h-1.3zM72.6 325.2h1.3v1.3h-1.3zM70.0 313.2h1.3v1.3h-1.3zM74.4 316.2h1.3v1.3h-1.3zM72.7 309.4h1.3v1.3h-1.3zM75.5 328.2h1.3v1.3h-1.3zM74.3 320.4h1.3v1.3h-1.3zM71.5 311.7h1.3v1.3h-1.3zM71.6 314.6h1.3v1.3h-1.3zM74.4 326.0h1.3v1.3h-1.3zM75.1 312.1h1.3v1.3h-1.3zM71.9 320.0h1.3v1.3h-1.3zM72.7 318.4h1.3v1.3h-1.3zM71.0 317.5h1.3v1.3h-1.3zM71.1 308.5h1.3v1.3h-1.3zM69.6 313.2h1.3v1.3h-1.3zM71.6 319.3h1.3v1.3h-1.3zM72.5 317.6h1.3v1.3h-1.3zM73.9 322.9h1.3v1.3h-1.3zM72.6 330.4h1.3v1.3h-1.3zM69.5 312.4h1.3v1.3h-1.3zM71.7 322.1h1.3v1.3h-1.3zM70.5 320.0h1.3v1.3h-1.3zM71.7 325.0h1.3v1.3h-1.3zM72.0 322.4h1.3v1.3h-1.3zM72.3 323.9h1.3v1.3h-1.3zM69.7 318.2h1.3v1.3h-1.3zM71.8 318.3h1.3v1.3h-1.3zM71.4 310.8h1.3v1.3h-1.3zM74.0 334.4h1.3v1.3h-1.3zM72.9 325.1h1.3v1.3h-1.3zM74.1 320.9h1.3v1.3h-1.3zM69.6 318.8h1.3v1.3h-1.3zM73.9 320.8h1.3v1.3h-1.3zM73.2 322.6h1.3v1.3h-1.3zM74.8 303.8h1.3v1.3h-1.3zM69.3 325.8h1.3v1.3h-1.3zM75.4 327.7h1.3v1.3h-1.3zM71.9 303.7h1.3v1.3h-1.3zM70.3 315.1h1.3v1.3h-1.3zM77.5 328.4h1.3v1.3h-1.3zM72.7 324.8h1.3v1.3h-1.3zM72.2 324.3h1.3v1.3h-1.3zM79.2 325.9h1.3v1.3h-1.3zM72.4 325.8h1.3v1.3h-1.3zM69.8 310.9h1.3v1.3h-1.3zM73.2 314.8h1.3v1.3h-1.3zM76.6 317.5h1.3v1.3h-1.3zM73.5 332.2h1.3v1.3h-1.3zM73.0 316.9h1.3v1.3h-1.3zM73.3 322.8h1.3v1.3h-1.3zM76.0 321.7h1.3v1.3h-1.3zM72.2 327.4h1.3v1.3h-1.3zM70.5 327.8h1.3v1.3h-1.3zM76.7 308.3h1.3v1.3h-1.3zM75.4 318.6h1.3v1.3h-1.3zM73.2 323.4h1.3v1.3h-1.3zM72.1 334.6h1.3v1.3h-1.3zM70.2 327.0h1.3v1.3h-1.3zM71.0 318.9h1.3v1.3h-1.3zM76.3 322.8h1.3v1.3h-1.3zM71.1 305.2h1.3v1.3h-1.3zM74.7 314.3h1.3v1.3h-1.3zM72.5 316.6h1.3v1.3h-1.3zM73.1 316.8h1.3v1.3h-1.3zM69.7 328.1h1.3v1.3h-1.3zM73.7 322.4h1.3v1.3h-1.3zM74.6 315.6h1.3v1.3h-1.3zM69.4 308.9h1.3v1.3h-1.3zM70.7 320.1h1.3v1.3h-1.3zM73.3 319.5h1.3v1.3h-1.3zM77.8 310.0h1.3v1.3h-1.3zM70.4 301.2h1.3v1.3h-1.3zM72.5 331.7h1.3v1.3h-1.3zM71.0 313.4h1.3v1.3h-1.3zM74.9 326.9h1.3v1.3h-1.3zM73.4 312.8h1.3v1.3h-1.3zM74.5 322.0h1.3v1.3h-1.3zM69.9 331.1h1.3v1.3h-1.3zM72.3 308.4h1.3v1.3h-1.3zM73.2 334.2h1.3v1.3h-1.3zM78.7 321.8h1.3v1.3h-1.3zM73.9 311.7h1.3v1.3h-1.3zM71.2 315.4h1.3v1.3h-1.3zM75.8 320.7h1.3v1.3h-1.3zM69.3 312.5h1.3v1.3h-1.3zM72.6 307.3h1.3v1.3h-1.3zM72.4 316.3h1.3v1.3h-1.3zM69.8 311.4h1.3v1.3h-1.3zM70.4 328.3h1.3v1.3h-1.3zM72.7 325.0h1.3v1.3h-1.3zM71.5 327.9h1.3v1.3h-1.3zM74.3 313.0h1.3v1.3h-1.3zM70.9 324.5h1.3v1.3h-1.3zM73.4 321.0h1.3v1.3h-1.3zM72.3 317.6h1.3v1.3h-1.3zM75.3 316.9h1.3v1.3h-1.3zM70.5 316.8h1.3v1.3h-1.3zM69.4 315.1h1.3v1.3h-1.3zM70.1 329.0h1.3v1.3h-1.3zM73.5 305.4h1.3v1.3h-1.3zM72.5 326.8h1.3v1.3h-1.3zM73.4 313.7h1.3v1.3h-1.3zM69.9 321.6h1.3v1.3h-1.3zM69.4 309.7h1.3v1.3h-1.3zM76.8 322.2h1.3v1.3h-1.3zM71.1 315.3h1.3v1.3h-1.3zM72.6 323.1h1.3v1.3h-1.3zM71.1 318.7h1.3v1.3h-1.3zM73.7 330.1h1.3v1.3h-1.3zM70.9 308.6h1.3v1.3h-1.3zM73.2 320.7h1.3v1.3h-1.3zM73.1 311.2h1.3v1.3h-1.3zM72.3 316.0h1.3v1.3h-1.3zM71.2 310.8h1.3v1.3h-1.3zM69.4 306.2h1.3v1.3h-1.3zM72.7 315.7h1.3v1.3h-1.3zM70.3 321.1h1.3v1.3h-1.3zM71.5 326.4h1.3v1.3h-1.3zM73.3 324.0h1.3v1.3h-1.3zM69.9 319.1h1.3v1.3h-1.3zM69.5 322.3h1.3v1.3h-1.3zM74.4 322.7h1.3v1.3h-1.3zM69.6 326.5h1.3v1.3h-1.3zM70.7 309.4h1.3v1.3h-1.3zM74.4 318.6h1.3v1.3h-1.3zM70.2 316.6h1.3v1.3h-1.3zM69.3 325.5h1.3v1.3h-1.3zM76.3 318.4h1.3v1.3h-1.3zM72.9 331.5h1.3v1.3h-1.3zM71.0 324.1h1.3v1.3h-1.3zM69.2 321.4h1.3v1.3h-1.3zM70.3 319.5h1.3v1.3h-1.3zM75.4 322.1h1.3v1.3h-1.3zM72.6 313.3h1.3v1.3h-1.3zM75.4 312.8h1.3v1.3h-1.3zM74.8 308.9h1.3v1.3h-1.3zM70.3 330.2h1.3v1.3h-1.3zM72.9 319.4h1.3v1.3h-1.3zM74.0 319.7h1.3v1.3h-1.3zM71.9 329.1h1.3v1.3h-1.3zM70.6 322.2h1.3v1.3h-1.3zM71.5 322.8h1.3v1.3h-1.3zM77.7 312.7h1.3v1.3h-1.3zM70.4 311.9h1.3v1.3h-1.3zM74.4 322.1h1.3v1.3h-1.3zM74.6 326.0h1.3v1.3h-1.3zM69.3 324.3h1.3v1.3h-1.3zM69.3 328.5h1.3v1.3h-1.3zM75.7 314.7h1.3v1.3h-1.3zM71.5 325.9h1.3v1.3h-1.3zM73.6 325.6h1.3v1.3h-1.3zM70.5 308.7h1.3v1.3h-1.3zM71.2 310.1h1.3v1.3h-1.3zM75.2 314.2h1.3v1.3h-1.3zM72.6 319.9h1.3v1.3h-1.3zM72.4 316.9h1.3v1.3h-1.3zM74.5 322.0h1.3v1.3h-1.3zM72.5 309.3h1.3v1.3h-1.3zM71.4 314.3h1.3v1.3h-1.3zM73.0 322.8h1.3v1.3h-1.3zM71.4 314.9h1.3v1.3h-1.3zM70.6 324.0h1.3v1.3h-1.3zM75.8 319.7h1.3v1.3h-1.3zM73.4 327.9h1.3v1.3h-1.3zM70.5 305.3h1.3v1.3h-1.3zM72.1 323.4h1.3v1.3h-1.3zM70.1 322.9h1.3v1.3h-1.3zM75.5 333.6h1.3v1.3h-1.3zM76.9 329.1h1.3v1.3h-1.3zM71.7 312.0h1.3v1.3h-1.3zM72.5 316.8h1.3v1.3h-1.3zM77.0 322.1h1.3v1.3h-1.3zM70.8 324.3h1.3v1.3h-1.3zM69.9 328.5h1.3v1.3h-1.3zM78.0 316.6h1.3v1.3h-1.3zM69.2 313.0h1.3v1.3h-1.3zM74.2 302.7h1.3v1.3h-1.3zM71.3 310.9h1.3v1.3h-1.3zM70.1 325.7h1.3v1.3h-1.3zM70.5 319.8h1.3v1.3h-1.3zM69.9 310.1h1.3v1.3h-1.3zM71.6 313.9h1.3v1.3h-1.3zM71.6 327.6h1.3v1.3h-1.3zM70.9 321.1h1.3v1.3h-1.3zM72.0 317.8h1.3v1.3h-1.3zM76.7 308.2h1.3v1.3h-1.3zM79.6 313.3h1.3v1.3h-1.3zM86.5 315.2h1.3v1.3h-1.3zM83.9 320.9h1.3v1.3h-1.3zM69.5 316.3h1.3v1.3h-1.3zM80.3 308.9h1.3v1.3h-1.3zM73.0 321.4h1.3v1.3h-1.3zM78.0 314.0h1.3v1.3h-1.3zM75.0 305.1h1.3v1.3h-1.3zM87.6 325.4h1.3v1.3h-1.3zM85.9 315.0h1.3v1.3h-1.3zM72.7 312.5h1.3v1.3h-1.3zM81.5 302.2h1.3v1.3h-1.3zM88.4 313.4h1.3v1.3h-1.3zM77.6 317.6h1.3v1.3h-1.3zM84.2 304.8h1.3v1.3h-1.3zM75.9 313.5h1.3v1.3h-1.3zM81.3 302.4h1.3v1.3h-1.3zM73.7 321.6h1.3v1.3h-1.3zM78.7 316.2h1.3v1.3h-1.3zM77.2 321.4h1.3v1.3h-1.3zM75.5 326.0h1.3v1.3h-1.3zM74.4 312.0h1.3v1.3h-1.3zM72.7 300.4h1.3v1.3h-1.3zM78.0 321.7h1.3v1.3h-1.3zM78.5 310.8h1.3v1.3h-1.3zM75.3 303.6h1.3v1.3h-1.3zM80.2 318.8h1.3v1.3h-1.3zM81.3 311.0h1.3v1.3h-1.3zM74.6 326.9h1.3v1.3h-1.3zM79.8 303.9h1.3v1.3h-1.3zM77.7 315.9h1.3v1.3h-1.3zM75.3 312.2h1.3v1.3h-1.3zM85.3 320.5h1.3v1.3h-1.3zM79.8 323.3h1.3v1.3h-1.3zM77.7 319.8h1.3v1.3h-1.3zM77.1 329.6h1.3v1.3h-1.3zM73.3 312.2h1.3v1.3h-1.3zM78.5 315.5h1.3v1.3h-1.3zM85.4 311.2h1.3v1.3h-1.3zM74.5 309.3h1.3v1.3h-1.3zM70.5 317.1h1.3v1.3h-1.3zM79.9 319.1h1.3v1.3h-1.3zM86.3 313.9h1.3v1.3h-1.3zM78.2 316.2h1.3v1.3h-1.3zM75.1 311.9h1.3v1.3h-1.3zM80.6 313.0h1.3v1.3h-1.3zM71.1 301.4h1.3v1.3h-1.3zM83.5 304.7h1.3v1.3h-1.3zM74.2 312.3h1.3v1.3h-1.3zM81.2 309.1h1.3v1.3h-1.3zM77.9 313.2h1.3v1.3h-1.3zM82.6 303.5h1.3v1.3h-1.3zM79.5 318.1h1.3v1.3h-1.3zM75.8 323.1h1.3v1.3h-1.3zM80.3 314.7h1.3v1.3h-1.3zM75.5 318.3h1.3v1.3h-1.3zM74.2 316.0h1.3v1.3h-1.3zM81.4 320.0h1.3v1.3h-1.3zM86.2 315.7h1.3v1.3h-1.3zM75.6 306.5h1.3v1.3h-1.3zM74.6 326.0h1.3v1.3h-1.3zM83.7 306.1h1.3v1.3h-1.3zM70.8 319.0h1.3v1.3h-1.3zM71.6 320.4h1.3v1.3h-1.3zM76.0 307.7h1.3v1.3h-1.3zM71.3 312.8h1.3v1.3h-1.3zM71.7 313.5h1.3v1.3h-1.3zM76.6 316.1h1.3v1.3h-1.3zM74.5 320.2h1.3v1.3h-1.3zM70.1 307.7h1.3v1.3h-1.3zM84.5 314.2h1.3v1.3h-1.3zM73.5 320.8h1.3v1.3h-1.3zM70.9 321.4h1.3v1.3h-1.3zM74.8 321.8h1.3v1.3h-1.3zM79.9 320.3h1.3v1.3h-1.3zM78.4 314.0h1.3v1.3h-1.3zM76.4 309.3h1.3v1.3h-1.3zM97.3 322.2h1.3v1.3h-1.3zM77.2 319.9h1.3v1.3h-1.3zM82.1 309.6h1.3v1.3h-1.3zM72.7 305.8h1.3v1.3h-1.3zM70.7 317.9h1.3v1.3h-1.3zM82.2 325.0h1.3v1.3h-1.3zM74.0 312.3h1.3v1.3h-1.3zM69.7 307.8h1.3v1.3h-1.3zM79.9 318.4h1.3v1.3h-1.3zM78.1 317.8h1.3v1.3h-1.3zM78.6 312.4h1.3v1.3h-1.3zM76.8 306.9h1.3v1.3h-1.3zM83.4 324.6h1.3v1.3h-1.3zM75.1 312.9h1.3v1.3h-1.3zM85.7 324.0h1.3v1.3h-1.3zM74.6 306.7h1.3v1.3h-1.3zM82.9 317.1h1.3v1.3h-1.3zM80.0 310.7h1.3v1.3h-1.3zM88.7 313.9h1.3v1.3h-1.3zM76.1 318.3h1.3v1.3h-1.3zM82.1 313.7h1.3v1.3h-1.3zM71.3 319.8h1.3v1.3h-1.3zM70.1 317.0h1.3v1.3h-1.3zM70.3 311.2h1.3v1.3h-1.3zM73.3 307.7h1.3v1.3h-1.3zM79.4 309.8h1.3v1.3h-1.3zM75.6 320.5h1.3v1.3h-1.3zM80.8 309.0h1.3v1.3h-1.3zM80.1 320.1h1.3v1.3h-1.3zM75.7 321.6h1.3v1.3h-1.3zM74.2 308.1h1.3v1.3h-1.3zM72.9 319.1h1.3v1.3h-1.3zM69.8 311.5h1.3v1.3h-1.3zM81.0 308.7h1.3v1.3h-1.3zM70.9 318.5h1.3v1.3h-1.3zM74.0 309.2h1.3v1.3h-1.3zM70.9 319.0h1.3v1.3h-1.3zM78.9 308.2h1.3v1.3h-1.3zM71.0 321.1h1.3v1.3h-1.3zM80.8 311.1h1.3v1.3h-1.3zM74.1 313.4h1.3v1.3h-1.3zM77.8 318.9h1.3v1.3h-1.3zM80.8 322.4h1.3v1.3h-1.3zM76.2 312.3h1.3v1.3h-1.3zM84.0 292.6h1.3v1.3h-1.3zM74.8 306.6h1.3v1.3h-1.3zM87.4 299.9h1.3v1.3h-1.3zM90.0 303.6h1.3v1.3h-1.3zM96.7 298.3h1.3v1.3h-1.3zM82.3 299.3h1.3v1.3h-1.3zM103.5 306.4h1.3v1.3h-1.3zM75.3 298.7h1.3v1.3h-1.3zM77.5 300.8h1.3v1.3h-1.3zM86.7 314.6h1.3v1.3h-1.3zM89.0 296.5h1.3v1.3h-1.3zM83.1 297.8h1.3v1.3h-1.3zM85.1 306.8h1.3v1.3h-1.3zM69.4 308.7h1.3v1.3h-1.3zM80.9 309.8h1.3v1.3h-1.3zM88.7 308.2h1.3v1.3h-1.3zM90.3 307.3h1.3v1.3h-1.3zM85.2 295.8h1.3v1.3h-1.3zM91.4 305.1h1.3v1.3h-1.3zM105.7 288.7h1.3v1.3h-1.3zM82.7 307.2h1.3v1.3h-1.3zM72.1 299.4h1.3v1.3h-1.3zM105.9 309.3h1.3v1.3h-1.3zM75.8 309.4h1.3v1.3h-1.3zM96.5 305.5h1.3v1.3h-1.3zM88.5 302.2h1.3v1.3h-1.3zM76.0 297.7h1.3v1.3h-1.3zM92.0 301.7h1.3v1.3h-1.3zM103.2 298.8h1.3v1.3h-1.3zM87.5 303.1h1.3v1.3h-1.3zM85.4 295.9h1.3v1.3h-1.3zM99.7 296.8h1.3v1.3h-1.3zM91.8 299.1h1.3v1.3h-1.3zM72.7 309.3h1.3v1.3h-1.3zM89.1 298.7h1.3v1.3h-1.3zM92.3 300.2h1.3v1.3h-1.3zM80.2 313.8h1.3v1.3h-1.3zM82.6 299.9h1.3v1.3h-1.3zM73.9 296.4h1.3v1.3h-1.3zM91.3 304.2h1.3v1.3h-1.3zM84.8 296.7h1.3v1.3h-1.3zM91.7 290.6h1.3v1.3h-1.3zM81.4 299.4h1.3v1.3h-1.3zM76.3 301.8h1.3v1.3h-1.3zM78.1 296.1h1.3v1.3h-1.3zM102.9 305.3h1.3v1.3h-1.3zM96.8 301.2h1.3v1.3h-1.3zM94.5 305.6h1.3v1.3h-1.3zM97.0 315.1h1.3v1.3h-1.3zM82.6 302.5h1.3v1.3h-1.3zM84.4 279.8h1.3v1.3h-1.3zM70.9 301.1h1.3v1.3h-1.3zM91.2 297.5h1.3v1.3h-1.3zM96.3 308.7h1.3v1.3h-1.3zM80.8 309.5h1.3v1.3h-1.3zM102.5 303.8h1.3v1.3h-1.3zM75.1 309.8h1.3v1.3h-1.3zM83.3 298.7h1.3v1.3h-1.3zM86.1 297.8h1.3v1.3h-1.3zM95.7 305.7h1.3v1.3h-1.3zM97.2 304.5h1.3v1.3h-1.3zM77.1 300.0h1.3v1.3h-1.3zM93.8 298.6h1.3v1.3h-1.3zM114.2 299.5h1.3v1.3h-1.3zM79.1 307.9h1.3v1.3h-1.3zM92.5 300.8h1.3v1.3h-1.3zM82.7 303.6h1.3v1.3h-1.3zM93.4 305.6h1.3v1.3h-1.3zM82.0 303.6h1.3v1.3h-1.3zM93.4 305.6h1.3v1.3h-1.3zM77.2 299.6h1.3v1.3h-1.3zM86.8 306.5h1.3v1.3h-1.3zM91.2 300.2h1.3v1.3h-1.3zM85.2 311.6h1.3v1.3h-1.3zM78.9 302.8h1.3v1.3h-1.3zM100.7 303.1h1.3v1.3h-1.3zM81.1 300.3h1.3v1.3h-1.3zM95.5 303.8h1.3v1.3h-1.3zM82.4 306.4h1.3v1.3h-1.3zM89.4 301.6h1.3v1.3h-1.3zM88.0 302.5h1.3v1.3h-1.3zM81.6 298.2h1.3v1.3h-1.3zM85.3 295.3h1.3v1.3h-1.3zM72.4 308.8h1.3v1.3h-1.3zM92.9 294.8h1.3v1.3h-1.3zM93.1 295.3h1.3v1.3h-1.3zM93.3 296.1h1.3v1.3h-1.3zM96.7 292.0h1.3v1.3h-1.3zM97.1 292.5h1.3v1.3h-1.3zM88.8 286.4h1.3v1.3h-1.3zM92.4 301.0h1.3v1.3h-1.3zM94.5 292.6h1.3v1.3h-1.3zM93.3 290.8h1.3v1.3h-1.3zM91.2 284.9h1.3v1.3h-1.3zM95.2 292.8h1.3v1.3h-1.3zM89.6 300.4h1.3v1.3h-1.3zM90.6 304.0h1.3v1.3h-1.3zM83.5 285.7h1.3v1.3h-1.3zM92.6 303.7h1.3v1.3h-1.3zM90.0 292.8h1.3v1.3h-1.3zM98.4 290.5h1.3v1.3h-1.3zM100.2 295.6h1.3v1.3h-1.3zM83.6 295.0h1.3v1.3h-1.3zM91.5 300.2h1.3v1.3h-1.3zM99.3 294.8h1.3v1.3h-1.3zM97.6 294.7h1.3v1.3h-1.3zM90.0 296.0h1.3v1.3h-1.3zM90.6 298.5h1.3v1.3h-1.3zM96.8 302.1h1.3v1.3h-1.3zM108.4 299.0h1.3v1.3h-1.3zM112.0 294.6h1.3v1.3h-1.3zM114.3 294.9h1.3v1.3h-1.3zM112.3 291.2h1.3v1.3h-1.3zM108.7 298.1h1.3v1.3h-1.3zM102.5 293.9h1.3v1.3h-1.3zM104.3 299.7h1.3v1.3h-1.3zM103.0 298.2h1.3v1.3h-1.3zM118.7 297.8h1.3v1.3h-1.3zM96.8 296.7h1.3v1.3h-1.3zM115.3 294.6h1.3v1.3h-1.3zM115.8 299.1h1.3v1.3h-1.3zM111.0 294.7h1.3v1.3h-1.3zM104.5 294.8h1.3v1.3h-1.3zM108.5 298.7h1.3v1.3h-1.3zM111.0 294.5h1.3v1.3h-1.3zM108.5 298.0h1.3v1.3h-1.3zM96.7 292.2h1.3v1.3h-1.3zM205.2 296.1h1.3v1.3h-1.3zM200.6 297.4h1.3v1.3h-1.3zM208.2 302.3h1.3v1.3h-1.3zM192.1 288.9h1.3v1.3h-1.3zM195.8 291.9h1.3v1.3h-1.3zM202.5 299.5h1.3v1.3h-1.3zM200.5 299.1h1.3v1.3h-1.3zM186.2 306.7h1.3v1.3h-1.3zM194.8 311.1h1.3v1.3h-1.3zM211.8 309.5h1.3v1.3h-1.3zM195.6 309.4h1.3v1.3h-1.3zM208.5 303.5h1.3v1.3h-1.3zM193.9 297.5h1.3v1.3h-1.3zM201.5 300.9h1.3v1.3h-1.3zM194.1 311.4h1.3v1.3h-1.3zM197.2 311.0h1.3v1.3h-1.3zM200.5 291.8h1.3v1.3h-1.3zM201.9 311.1h1.3v1.3h-1.3zM190.5 294.6h1.3v1.3h-1.3zM204.2 306.8h1.3v1.3h-1.3zM203.2 297.8h1.3v1.3h-1.3zM191.4 287.8h1.3v1.3h-1.3zM193.1 305.2h1.3v1.3h-1.3zM191.4 294.8h1.3v1.3h-1.3zM203.9 293.4h1.3v1.3h-1.3zM196.9 301.5h1.3v1.3h-1.3zM202.6 313.8h1.3v1.3h-1.3zM185.7 299.0h1.3v1.3h-1.3zM209.1 310.8h1.3v1.3h-1.3zM205.3 309.4h1.3v1.3h-1.3zM183.7 301.3h1.3v1.3h-1.3zM201.4 300.0h1.3v1.3h-1.3zM203.7 290.3h1.3v1.3h-1.3zM204.6 305.2h1.3v1.3h-1.3zM202.2 297.3h1.3v1.3h-1.3zM199.2 288.7h1.3v1.3h-1.3zM206.0 302.3h1.3v1.3h-1.3zM212.5 300.3h1.3v1.3h-1.3zM185.8 297.8h1.3v1.3h-1.3zM194.1 292.7h1.3v1.3h-1.3zM194.8 302.5h1.3v1.3h-1.3zM200.7 310.9h1.3v1.3h-1.3zM198.5 311.6h1.3v1.3h-1.3zM190.2 293.4h1.3v1.3h-1.3zM198.0 304.6h1.3v1.3h-1.3zM214.9 305.5h1.3v1.3h-1.3zM199.3 303.1h1.3v1.3h-1.3zM206.8 297.9h1.3v1.3h-1.3zM195.4 298.7h1.3v1.3h-1.3zM192.5 284.9h1.3v1.3h-1.3zM184.2 296.3h1.3v1.3h-1.3zM215.0 286.3h1.3v1.3h-1.3zM207.5 301.6h1.3v1.3h-1.3zM207.5 299.4h1.3v1.3h-1.3zM213.1 313.4h1.3v1.3h-1.3zM199.5 316.3h1.3v1.3h-1.3zM209.4 301.9h1.3v1.3h-1.3zM208.7 301.4h1.3v1.3h-1.3zM188.8 290.6h1.3v1.3h-1.3zM205.5 288.0h1.3v1.3h-1.3zM209.8 290.1h1.3v1.3h-1.3zM203.3 286.5h1.3v1.3h-1.3zM199.5 304.5h1.3v1.3h-1.3zM208.7 291.9h1.3v1.3h-1.3zM198.2 298.5h1.3v1.3h-1.3zM207.1 303.9h1.3v1.3h-1.3zM193.5 307.8h1.3v1.3h-1.3zM206.1 314.1h1.3v1.3h-1.3zM203.2 308.5h1.3v1.3h-1.3zM206.9 300.5h1.3v1.3h-1.3zM196.6 295.1h1.3v1.3h-1.3zM196.7 287.8h1.3v1.3h-1.3zM198.2 283.7h1.3v1.3h-1.3zM183.4 318.4h1.3v1.3h-1.3zM189.2 306.2h1.3v1.3h-1.3zM193.8 312.6h1.3v1.3h-1.3zM192.7 310.0h1.3v1.3h-1.3zM207.9 300.4h1.3v1.3h-1.3zM200.4 289.7h1.3v1.3h-1.3zM209.9 299.6h1.3v1.3h-1.3zM186.2 293.3h1.3v1.3h-1.3zM187.9 316.4h1.3v1.3h-1.3zM201.0 295.4h1.3v1.3h-1.3zM202.2 307.0h1.3v1.3h-1.3zM199.3 290.7h1.3v1.3h-1.3zM190.5 285.9h1.3v1.3h-1.3zM200.9 309.0h1.3v1.3h-1.3zM198.5 306.7h1.3v1.3h-1.3zM196.7 306.9h1.3v1.3h-1.3zM195.5 294.4h1.3v1.3h-1.3zM200.7 298.8h1.3v1.3h-1.3zM192.6 315.9h1.3v1.3h-1.3zM193.4 295.8h1.3v1.3h-1.3zM204.8 296.3h1.3v1.3h-1.3zM188.0 306.8h1.3v1.3h-1.3zM197.4 294.2h1.3v1.3h-1.3zM192.2 304.9h1.3v1.3h-1.3zM199.7 300.6h1.3v1.3h-1.3zM184.1 304.1h1.3v1.3h-1.3zM187.9 314.5h1.3v1.3h-1.3zM200.9 306.7h1.3v1.3h-1.3zM197.8 293.5h1.3v1.3h-1.3zM198.9 292.5h1.3v1.3h-1.3zM194.6 301.7h1.3v1.3h-1.3zM196.4 307.9h1.3v1.3h-1.3zM226.6 292.5h1.3v1.3h-1.3zM214.9 295.6h1.3v1.3h-1.3zM206.8 298.0h1.3v1.3h-1.3zM197.2 300.0h1.3v1.3h-1.3zM217.0 298.8h1.3v1.3h-1.3zM197.3 296.4h1.3v1.3h-1.3zM213.9 321.4h1.3v1.3h-1.3zM197.5 285.5h1.3v1.3h-1.3zM206.0 294.4h1.3v1.3h-1.3zM202.1 298.2h1.3v1.3h-1.3zM209.5 300.7h1.3v1.3h-1.3zM199.5 288.5h1.3v1.3h-1.3zM205.0 294.6h1.3v1.3h-1.3zM193.0 306.2h1.3v1.3h-1.3zM202.0 299.1h1.3v1.3h-1.3zM202.6 315.7h1.3v1.3h-1.3zM205.6 301.5h1.3v1.3h-1.3zM190.2 295.3h1.3v1.3h-1.3zM197.8 301.8h1.3v1.3h-1.3zM204.6 302.7h1.3v1.3h-1.3zM193.2 311.6h1.3v1.3h-1.3zM201.2 300.8h1.3v1.3h-1.3zM199.5 307.2h1.3v1.3h-1.3zM199.5 305.3h1.3v1.3h-1.3zM199.5 306.1h1.3v1.3h-1.3zM187.4 302.4h1.3v1.3h-1.3zM197.2 300.2h1.3v1.3h-1.3zM202.4 298.6h1.3v1.3h-1.3zM210.7 301.9h1.3v1.3h-1.3zM189.0 317.9h1.3v1.3h-1.3zM185.4 296.9h1.3v1.3h-1.3zM184.0 299.5h1.3v1.3h-1.3zM204.4 313.4h1.3v1.3h-1.3zM210.5 302.8h1.3v1.3h-1.3zM196.2 299.8h1.3v1.3h-1.3zM207.7 300.3h1.3v1.3h-1.3zM205.8 306.2h1.3v1.3h-1.3zM184.8 293.7h1.3v1.3h-1.3zM202.5 296.1h1.3v1.3h-1.3zM206.1 288.1h1.3v1.3h-1.3zM197.7 298.7h1.3v1.3h-1.3zM211.7 290.8h1.3v1.3h-1.3zM191.3 292.8h1.3v1.3h-1.3zM211.2 308.8h1.3v1.3h-1.3zM183.3 292.2h1.3v1.3h-1.3zM211.6 298.5h1.3v1.3h-1.3zM208.5 294.4h1.3v1.3h-1.3zM204.4 302.7h1.3v1.3h-1.3zM214.8 275.8h1.3v1.3h-1.3zM212.3 303.6h1.3v1.3h-1.3zM195.7 287.0h1.3v1.3h-1.3zM196.7 306.8h1.3v1.3h-1.3zM200.2 296.8h1.3v1.3h-1.3zM198.5 310.3h1.3v1.3h-1.3zM199.1 304.4h1.3v1.3h-1.3zM198.4 297.0h1.3v1.3h-1.3zM207.6 299.0h1.3v1.3h-1.3zM200.9 297.3h1.3v1.3h-1.3zM192.3 306.5h1.3v1.3h-1.3zM187.3 291.2h1.3v1.3h-1.3zM192.6 297.4h1.3v1.3h-1.3zM203.6 291.2h1.3v1.3h-1.3zM190.8 309.9h1.3v1.3h-1.3zM202.1 289.4h1.3v1.3h-1.3zM197.6 296.7h1.3v1.3h-1.3zM214.0 292.4h1.3v1.3h-1.3zM199.3 301.0h1.3v1.3h-1.3zM198.1 317.6h1.3v1.3h-1.3zM200.5 294.9h1.3v1.3h-1.3zM214.8 296.3h1.3v1.3h-1.3zM191.0 300.8h1.3v1.3h-1.3zM188.9 303.9h1.3v1.3h-1.3zM186.9 307.2h1.3v1.3h-1.3zM206.4 292.0h1.3v1.3h-1.3zM207.5 282.4h1.3v1.3h-1.3zM199.1 307.2h1.3v1.3h-1.3zM198.0 291.1h1.3v1.3h-1.3zM191.6 306.0h1.3v1.3h-1.3zM206.0 303.2h1.3v1.3h-1.3zM189.1 288.0h1.3v1.3h-1.3zM193.0 303.3h1.3v1.3h-1.3zM201.2 295.7h1.3v1.3h-1.3zM188.1 316.8h1.3v1.3h-1.3zM207.1 304.6h1.3v1.3h-1.3zM207.4 290.9h1.3v1.3h-1.3zM219.5 307.9h1.3v1.3h-1.3zM191.1 306.7h1.3v1.3h-1.3zM196.0 297.6h1.3v1.3h-1.3zM204.1 303.3h1.3v1.3h-1.3zM208.4 306.8h1.3v1.3h-1.3zM200.9 292.0h1.3v1.3h-1.3zM187.5 303.0h1.3v1.3h-1.3zM193.1 298.7h1.3v1.3h-1.3zM219.8 296.9h1.3v1.3h-1.3zM213.5 303.7h1.3v1.3h-1.3zM207.3 281.4h1.3v1.3h-1.3zM197.5 304.1h1.3v1.3h-1.3zM194.8 291.4h1.3v1.3h-1.3zM187.4 292.0h1.3v1.3h-1.3zM200.9 292.7h1.3v1.3h-1.3zM204.5 305.1h1.3v1.3h-1.3zM206.0 302.2h1.3v1.3h-1.3zM188.4 289.6h1.3v1.3h-1.3zM208.0 293.5h1.3v1.3h-1.3zM204.9 300.4h1.3v1.3h-1.3zM217.5 299.2h1.3v1.3h-1.3zM192.2 301.1h1.3v1.3h-1.3zM210.9 295.7h1.3v1.3h-1.3zM205.1 302.5h1.3v1.3h-1.3zM201.7 305.1h1.3v1.3h-1.3zM206.6 309.2h1.3v1.3h-1.3zM216.1 285.3h1.3v1.3h-1.3zM190.7 290.4h1.3v1.3h-1.3zM189.4 293.4h1.3v1.3h-1.3zM195.7 293.6h1.3v1.3h-1.3zM203.3 299.9h1.3v1.3h-1.3zM198.9 296.9h1.3v1.3h-1.3zM209.8 303.8h1.3v1.3h-1.3zM195.3 311.6h1.3v1.3h-1.3zM193.0 311.7h1.3v1.3h-1.3zM199.7 301.8h1.3v1.3h-1.3zM223.2 286.3h1.3v1.3h-1.3zM204.4 300.4h1.3v1.3h-1.3zM198.5 313.8h1.3v1.3h-1.3zM214.3 294.8h1.3v1.3h-1.3zM188.1 293.0h1.3v1.3h-1.3zM204.4 313.7h1.3v1.3h-1.3zM189.2 308.1h1.3v1.3h-1.3zM221.1 290.8h1.3v1.3h-1.3zM194.9 298.9h1.3v1.3h-1.3zM207.9 322.5h1.3v1.3h-1.3zM198.2 292.2h1.3v1.3h-1.3zM196.1 298.4h1.3v1.3h-1.3zM201.4 298.4h1.3v1.3h-1.3zM193.0 304.2h1.3v1.3h-1.3zM209.0 295.2h1.3v1.3h-1.3zM193.7 298.1h1.3v1.3h-1.3zM191.2 309.3h1.3v1.3h-1.3zM208.4 299.2h1.3v1.3h-1.3zM186.2 317.7h1.3v1.3h-1.3zM201.9 306.4h1.3v1.3h-1.3zM200.9 287.2h1.3v1.3h-1.3zM194.9 303.6h1.3v1.3h-1.3zM194.5 301.4h1.3v1.3h-1.3zM194.8 297.3h1.3v1.3h-1.3zM197.2 307.6h1.3v1.3h-1.3zM201.7 305.8h1.3v1.3h-1.3zM212.1 288.6h1.3v1.3h-1.3zM191.3 317.5h1.3v1.3h-1.3zM196.6 300.0h1.3v1.3h-1.3zM210.9 298.7h1.3v1.3h-1.3zM188.3 291.6h1.3v1.3h-1.3zM195.5 305.4h1.3v1.3h-1.3zM192.2 293.1h1.3v1.3h-1.3zM190.3 290.7h1.3v1.3h-1.3zM186.6 305.7h1.3v1.3h-1.3zM212.6 306.2h1.3v1.3h-1.3zM187.3 298.8h1.3v1.3h-1.3zM199.5 309.7h1.3v1.3h-1.3zM221.2 300.2h1.3v1.3h-1.3zM199.5 299.7h1.3v1.3h-1.3zM209.1 299.0h1.3v1.3h-1.3zM205.9 289.4h1.3v1.3h-1.3zM199.5 289.6h1.3v1.3h-1.3zM204.6 295.3h1.3v1.3h-1.3zM201.1 305.8h1.3v1.3h-1.3zM191.2 300.3h1.3v1.3h-1.3zM202.4 299.0h1.3v1.3h-1.3zM193.8 307.7h1.3v1.3h-1.3zM197.9 283.2h1.3v1.3h-1.3zM197.7 303.3h1.3v1.3h-1.3zM200.8 291.0h1.3v1.3h-1.3zM201.3 297.3h1.3v1.3h-1.3zM200.4 287.3h1.3v1.3h-1.3zM203.2 303.3h1.3v1.3h-1.3zM203.3 298.6h1.3v1.3h-1.3zM216.2 292.0h1.3v1.3h-1.3zM196.7 290.6h1.3v1.3h-1.3zM215.0 297.6h1.3v1.3h-1.3zM207.3 301.0h1.3v1.3h-1.3zM204.3 303.3h1.3v1.3h-1.3zM197.8 287.9h1.3v1.3h-1.3zM198.9 297.3h1.3v1.3h-1.3zM192.1 298.8h1.3v1.3h-1.3zM204.7 305.1h1.3v1.3h-1.3zM191.0 309.3h1.3v1.3h-1.3zM191.3 306.6h1.3v1.3h-1.3zM194.8 308.9h1.3v1.3h-1.3zM195.7 301.7h1.3v1.3h-1.3zM204.3 318.1h1.3v1.3h-1.3zM198.2 298.3h1.3v1.3h-1.3zM202.0 298.6h1.3v1.3h-1.3zM193.9 292.4h1.3v1.3h-1.3zM216.8 295.9h1.3v1.3h-1.3zM213.5 296.8h1.3v1.3h-1.3zM200.9 308.9h1.3v1.3h-1.3zM185.6 308.0h1.3v1.3h-1.3zM200.6 289.6h1.3v1.3h-1.3zM205.9 297.8h1.3v1.3h-1.3zM195.9 325.9h1.3v1.3h-1.3zM193.7 322.6h1.3v1.3h-1.3zM190.8 319.2h1.3v1.3h-1.3zM183.6 322.7h1.3v1.3h-1.3zM206.8 323.0h1.3v1.3h-1.3zM198.6 316.1h1.3v1.3h-1.3zM206.0 317.4h1.3v1.3h-1.3zM201.6 322.6h1.3v1.3h-1.3zM189.3 328.2h1.3v1.3h-1.3zM196.1 323.1h1.3v1.3h-1.3zM199.2 321.9h1.3v1.3h-1.3zM193.3 324.8h1.3v1.3h-1.3zM193.2 322.4h1.3v1.3h-1.3zM191.3 313.1h1.3v1.3h-1.3zM191.3 319.0h1.3v1.3h-1.3zM196.1 329.1h1.3v1.3h-1.3zM184.2 322.8h1.3v1.3h-1.3zM192.5 308.5h1.3v1.3h-1.3zM196.5 321.3h1.3v1.3h-1.3zM190.4 334.9h1.3v1.3h-1.3zM194.9 316.8h1.3v1.3h-1.3zM207.7 325.7h1.3v1.3h-1.3zM193.4 329.2h1.3v1.3h-1.3zM197.1 325.9h1.3v1.3h-1.3zM197.6 315.8h1.3v1.3h-1.3zM202.8 323.0h1.3v1.3h-1.3zM188.9 317.4h1.3v1.3h-1.3zM202.7 319.8h1.3v1.3h-1.3zM196.3 325.9h1.3v1.3h-1.3zM196.9 312.8h1.3v1.3h-1.3zM200.5 327.6h1.3v1.3h-1.3zM202.1 331.7h1.3v1.3h-1.3zM198.5 326.7h1.3v1.3h-1.3zM207.1 320.3h1.3v1.3h-1.3zM208.2 332.4h1.3v1.3h-1.3zM201.5 333.0h1.3v1.3h-1.3zM202.0 316.7h1.3v1.3h-1.3zM204.0 324.0h1.3v1.3h-1.3zM198.9 322.9h1.3v1.3h-1.3zM205.5 325.3h1.3v1.3h-1.3zM191.1 324.9h1.3v1.3h-1.3zM201.1 317.6h1.3v1.3h-1.3zM193.0 319.7h1.3v1.3h-1.3zM191.7 324.1h1.3v1.3h-1.3zM203.1 333.4h1.3v1.3h-1.3zM204.4 328.1h1.3v1.3h-1.3zM204.0 330.0h1.3v1.3h-1.3zM193.4 326.2h1.3v1.3h-1.3zM198.3 321.2h1.3v1.3h-1.3zM192.8 319.0h1.3v1.3h-1.3zM194.1 314.6h1.3v1.3h-1.3zM199.7 321.9h1.3v1.3h-1.3zM196.7 324.0h1.3v1.3h-1.3zM201.1 318.4h1.3v1.3h-1.3zM195.3 312.3h1.3v1.3h-1.3zM206.8 311.0h1.3v1.3h-1.3zM199.3 330.9h1.3v1.3h-1.3zM192.8 331.8h1.3v1.3h-1.3zM208.9 327.7h1.3v1.3h-1.3zM212.6 325.7h1.3v1.3h-1.3zM190.9 325.1h1.3v1.3h-1.3zM192.9 314.2h1.3v1.3h-1.3zM187.1 335.9h1.3v1.3h-1.3zM192.2 321.9h1.3v1.3h-1.3zM191.4 322.9h1.3v1.3h-1.3zM194.4 319.6h1.3v1.3h-1.3zM187.6 313.6h1.3v1.3h-1.3zM190.9 323.8h1.3v1.3h-1.3zM210.6 328.4h1.3v1.3h-1.3zM208.9 325.0h1.3v1.3h-1.3zM195.5 314.1h1.3v1.3h-1.3zM208.5 292.1h1.3v1.3h-1.3zM223.6 290.6h1.3v1.3h-1.3zM221.6 293.7h1.3v1.3h-1.3zM211.6 290.2h1.3v1.3h-1.3zM215.5 289.7h1.3v1.3h-1.3zM225.0 298.1h1.3v1.3h-1.3zM215.7 288.4h1.3v1.3h-1.3zM215.7 291.4h1.3v1.3h-1.3zM217.5 285.9h1.3v1.3h-1.3zM218.6 293.9h1.3v1.3h-1.3zM216.6 286.1h1.3v1.3h-1.3zM220.8 283.4h1.3v1.3h-1.3zM216.0 287.0h1.3v1.3h-1.3zM214.8 289.9h1.3v1.3h-1.3zM210.0 286.8h1.3v1.3h-1.3zM218.1 300.8h1.3v1.3h-1.3zM225.5 293.5h1.3v1.3h-1.3zM219.3 291.6h1.3v1.3h-1.3zM221.9 292.3h1.3v1.3h-1.3zM218.4 294.7h1.3v1.3h-1.3zM218.2 290.9h1.3v1.3h-1.3zM208.8 298.0h1.3v1.3h-1.3zM215.5 291.5h1.3v1.3h-1.3zM209.2 290.7h1.3v1.3h-1.3zM213.7 295.8h1.3v1.3h-1.3zM215.1 291.0h1.3v1.3h-1.3zM215.3 283.8h1.3v1.3h-1.3zM213.4 283.0h1.3v1.3h-1.3zM217.1 290.6h1.3v1.3h-1.3zM216.6 292.4h1.3v1.3h-1.3zM218.9 302.9h1.3v1.3h-1.3zM214.7 286.1h1.3v1.3h-1.3zM216.4 288.9h1.3v1.3h-1.3zM213.7 289.1h1.3v1.3h-1.3zM217.3 300.4h1.3v1.3h-1.3zM216.1 290.5h1.3v1.3h-1.3zM222.7 291.1h1.3v1.3h-1.3zM221.6 294.6h1.3v1.3h-1.3zM218.4 276.6h1.3v1.3h-1.3zM225.0 297.5h1.3v1.3h-1.3zM197.0 268.5h1.3v1.3h-1.3zM333.3 284.3h1.3v1.3h-1.3zM346.5 275.7h1.3v1.3h-1.3zM334.7 292.2h1.3v1.3h-1.3zM331.5 283.2h1.3v1.3h-1.3zM321.3 289.1h1.3v1.3h-1.3zM335.1 278.9h1.3v1.3h-1.3zM331.6 290.5h1.3v1.3h-1.3zM333.1 287.8h1.3v1.3h-1.3zM338.6 284.6h1.3v1.3h-1.3zM350.6 281.0h1.3v1.3h-1.3zM331.9 286.2h1.3v1.3h-1.3zM338.6 285.3h1.3v1.3h-1.3zM330.1 291.4h1.3v1.3h-1.3zM336.5 282.7h1.3v1.3h-1.3zM344.9 276.8h1.3v1.3h-1.3zM336.9 283.7h1.3v1.3h-1.3zM339.1 287.2h1.3v1.3h-1.3zM336.1 286.8h1.3v1.3h-1.3zM334.6 287.3h1.3v1.3h-1.3zM339.1 285.9h1.3v1.3h-1.3zM350.3 282.5h1.3v1.3h-1.3zM346.9 282.7h1.3v1.3h-1.3zM340.3 288.3h1.3v1.3h-1.3zM335.5 281.2h1.3v1.3h-1.3zM332.3 288.8h1.3v1.3h-1.3zM337.4 285.1h1.3v1.3h-1.3zM334.1 290.8h1.3v1.3h-1.3zM333.1 279.7h1.3v1.3h-1.3zM340.3 283.3h1.3v1.3h-1.3zM328.7 292.1h1.3v1.3h-1.3zM341.0 288.2h1.3v1.3h-1.3zM338.4 283.9h1.3v1.3h-1.3zM333.6 279.7h1.3v1.3h-1.3zM333.5 289.3h1.3v1.3h-1.3zM336.8 279.4h1.3v1.3h-1.3zM339.8 290.0h1.3v1.3h-1.3zM339.0 278.4h1.3v1.3h-1.3zM331.9 280.3h1.3v1.3h-1.3zM349.2 274.9h1.3v1.3h-1.3zM341.0 281.0h1.3v1.3h-1.3zM341.6 283.6h1.3v1.3h-1.3zM337.7 281.5h1.3v1.3h-1.3zM341.8 285.0h1.3v1.3h-1.3zM334.5 291.0h1.3v1.3h-1.3zM326.5 275.4h1.3v1.3h-1.3zM342.7 279.7h1.3v1.3h-1.3zM333.0 279.5h1.3v1.3h-1.3zM330.6 290.6h1.3v1.3h-1.3zM341.6 282.8h1.3v1.3h-1.3zM338.0 280.5h1.3v1.3h-1.3zM334.0 284.6h1.3v1.3h-1.3zM344.2 277.2h1.3v1.3h-1.3zM336.0 280.2h1.3v1.3h-1.3zM328.3 285.1h1.3v1.3h-1.3zM330.0 293.8h1.3v1.3h-1.3zM343.3 281.5h1.3v1.3h-1.3zM330.8 288.0h1.3v1.3h-1.3zM344.7 280.6h1.3v1.3h-1.3zM323.4 286.3h1.3v1.3h-1.3zM334.7 286.5h1.3v1.3h-1.3zM337.6 282.7h1.3v1.3h-1.3zM341.9 287.0h1.3v1.3h-1.3zM332.2 283.1h1.3v1.3h-1.3zM326.2 285.5h1.3v1.3h-1.3zM334.5 287.5h1.3v1.3h-1.3zM331.9 290.0h1.3v1.3h-1.3zM331.8 288.2h1.3v1.3h-1.3zM333.1 289.2h1.3v1.3h-1.3zM324.2 289.7h1.3v1.3h-1.3zM332.2 290.4h1.3v1.3h-1.3zM335.5 283.2h1.3v1.3h-1.3zM332.0 280.9h1.3v1.3h-1.3zM347.0 282.1h1.3v1.3h-1.3zM349.6 284.0h1.3v1.3h-1.3zM339.8 284.4h1.3v1.3h-1.3zM338.3 286.3h1.3v1.3h-1.3zM338.5 282.2h1.3v1.3h-1.3zM340.8 287.8h1.3v1.3h-1.3zM334.3 293.0h1.3v1.3h-1.3zM335.3 285.1h1.3v1.3h-1.3zM348.5 280.8h1.3v1.3h-1.3zM332.2 286.1h1.3v1.3h-1.3zM336.2 291.9h1.3v1.3h-1.3zM339.6 288.6h1.3v1.3h-1.3zM332.1 279.6h1.3v1.3h-1.3zM339.5 281.4h1.3v1.3h-1.3zM332.9 283.4h1.3v1.3h-1.3zM338.0 279.6h1.3v1.3h-1.3zM338.1 284.6h1.3v1.3h-1.3zM334.1 290.8h1.3v1.3h-1.3zM337.4 286.0h1.3v1.3h-1.3zM337.4 285.3h1.3v1.3h-1.3zM323.6 281.4h1.3v1.3h-1.3zM339.4 285.0h1.3v1.3h-1.3zM329.0 284.7h1.3v1.3h-1.3zM337.8 288.8h1.3v1.3h-1.3zM335.9 276.3h1.3v1.3h-1.3zM337.0 279.1h1.3v1.3h-1.3zM332.2 283.9h1.3v1.3h-1.3zM328.2 291.4h1.3v1.3h-1.3zM341.1 279.9h1.3v1.3h-1.3zM344.7 282.0h1.3v1.3h-1.3zM329.0 289.1h1.3v1.3h-1.3zM330.5 284.5h1.3v1.3h-1.3zM341.2 293.7h1.3v1.3h-1.3zM348.3 283.8h1.3v1.3h-1.3zM327.0 282.2h1.3v1.3h-1.3zM343.5 276.0h1.3v1.3h-1.3zM331.4 286.5h1.3v1.3h-1.3zM340.3 286.4h1.3v1.3h-1.3zM337.6 285.8h1.3v1.3h-1.3zM342.1 287.3h1.3v1.3h-1.3zM345.8 287.6h1.3v1.3h-1.3zM337.8 280.5h1.3v1.3h-1.3zM335.2 288.4h1.3v1.3h-1.3zM349.3 278.2h1.3v1.3h-1.3zM343.4 276.8h1.3v1.3h-1.3zM331.4 284.3h1.3v1.3h-1.3zM334.9 284.5h1.3v1.3h-1.3zM326.8 291.1h1.3v1.3h-1.3zM341.8 276.5h1.3v1.3h-1.3zM343.1 281.7h1.3v1.3h-1.3zM340.0 287.9h1.3v1.3h-1.3zM337.1 285.5h1.3v1.3h-1.3zM335.7 285.2h1.3v1.3h-1.3zM337.9 288.3h1.3v1.3h-1.3zM332.2 285.4h1.3v1.3h-1.3zM345.8 275.3h1.3v1.3h-1.3zM330.6 276.8h1.3v1.3h-1.3zM341.4 284.3h1.3v1.3h-1.3zM338.4 278.5h1.3v1.3h-1.3zM331.1 295.6h1.3v1.3h-1.3zM342.2 288.1h1.3v1.3h-1.3zM328.0 285.1h1.3v1.3h-1.3zM320.8 290.7h1.3v1.3h-1.3zM336.8 279.6h1.3v1.3h-1.3zM334.4 280.1h1.3v1.3h-1.3zM340.3 288.2h1.3v1.3h-1.3zM336.0 284.2h1.3v1.3h-1.3zM327.2 286.8h1.3v1.3h-1.3zM331.8 286.8h1.3v1.3h-1.3zM336.7 285.3h1.3v1.3h-1.3zM337.0 284.6h1.3v1.3h-1.3zM340.9 279.6h1.3v1.3h-1.3zM335.1 285.6h1.3v1.3h-1.3zM342.7 277.7h1.3v1.3h-1.3zM341.6 281.7h1.3v1.3h-1.3zM337.1 285.3h1.3v1.3h-1.3zM341.5 282.0h1.3v1.3h-1.3zM339.0 269.3h1.3v1.3h-1.3zM334.5 278.3h1.3v1.3h-1.3zM340.4 276.7h1.3v1.3h-1.3zM331.7 282.3h1.3v1.3h-1.3zM335.2 283.5h1.3v1.3h-1.3zM341.2 274.3h1.3v1.3h-1.3zM336.2 287.2h1.3v1.3h-1.3zM337.7 293.4h1.3v1.3h-1.3zM337.0 286.1h1.3v1.3h-1.3zM338.8 284.1h1.3v1.3h-1.3zM337.9 279.8h1.3v1.3h-1.3zM322.7 284.7h1.3v1.3h-1.3zM337.5 286.6h1.3v1.3h-1.3zM334.9 281.3h1.3v1.3h-1.3zM338.0 281.8h1.3v1.3h-1.3zM343.8 280.1h1.3v1.3h-1.3zM339.0 280.7h1.3v1.3h-1.3zM331.8 282.8h1.3v1.3h-1.3zM334.2 283.5h1.3v1.3h-1.3zM335.8 285.8h1.3v1.3h-1.3zM334.5 281.4h1.3v1.3h-1.3zM340.4 278.2h1.3v1.3h-1.3zM338.7 287.2h1.3v1.3h-1.3zM330.9 286.1h1.3v1.3h-1.3zM333.9 278.6h1.3v1.3h-1.3zM348.4 273.0h1.3v1.3h-1.3zM338.2 276.1h1.3v1.3h-1.3zM349.1 279.5h1.3v1.3h-1.3zM338.7 275.2h1.3v1.3h-1.3zM325.5 292.8h1.3v1.3h-1.3zM341.3 285.1h1.3v1.3h-1.3zM345.8 286.7h1.3v1.3h-1.3zM343.7 273.8h1.3v1.3h-1.3zM337.1 280.7h1.3v1.3h-1.3zM326.7 283.3h1.3v1.3h-1.3zM342.7 282.1h1.3v1.3h-1.3zM337.2 289.3h1.3v1.3h-1.3zM341.1 292.7h1.3v1.3h-1.3zM341.1 282.7h1.3v1.3h-1.3zM332.6 285.7h1.3v1.3h-1.3zM338.7 281.1h1.3v1.3h-1.3zM339.2 277.5h1.3v1.3h-1.3zM337.7 276.4h1.3v1.3h-1.3zM332.4 279.5h1.3v1.3h-1.3zM330.5 297.0h1.3v1.3h-1.3zM331.5 286.9h1.3v1.3h-1.3zM344.1 285.9h1.3v1.3h-1.3zM338.4 286.3h1.3v1.3h-1.3zM344.5 284.8h1.3v1.3h-1.3zM342.8 281.2h1.3v1.3h-1.3zM346.3 275.2h1.3v1.3h-1.3zM317.3 292.1h1.3v1.3h-1.3zM327.3 297.2h1.3v1.3h-1.3zM324.6 300.5h1.3v1.3h-1.3zM344.5 291.9h1.3v1.3h-1.3zM315.9 286.0h1.3v1.3h-1.3zM335.0 295.9h1.3v1.3h-1.3zM331.0 287.9h1.3v1.3h-1.3zM316.7 292.9h1.3v1.3h-1.3zM317.1 289.7h1.3v1.3h-1.3zM321.1 300.3h1.3v1.3h-1.3zM316.7 281.9h1.3v1.3h-1.3zM316.7 295.2h1.3v1.3h-1.3zM332.2 299.6h1.3v1.3h-1.3zM340.3 300.6h1.3v1.3h-1.3zM330.0 301.2h1.3v1.3h-1.3zM321.1 286.0h1.3v1.3h-1.3zM322.0 295.6h1.3v1.3h-1.3zM319.0 300.6h1.3v1.3h-1.3zM331.0 294.5h1.3v1.3h-1.3zM315.5 293.5h1.3v1.3h-1.3zM329.5 286.3h1.3v1.3h-1.3zM316.8 299.6h1.3v1.3h-1.3zM328.1 284.4h1.3v1.3h-1.3zM309.4 287.3h1.3v1.3h-1.3zM320.0 289.4h1.3v1.3h-1.3zM338.1 290.7h1.3v1.3h-1.3zM326.0 301.3h1.3v1.3h-1.3zM302.0 297.1h1.3v1.3h-1.3zM314.7 301.5h1.3v1.3h-1.3zM326.0 287.6h1.3v1.3h-1.3zM307.7 294.8h1.3v1.3h-1.3zM322.3 291.9h1.3v1.3h-1.3zM322.8 289.9h1.3v1.3h-1.3zM317.4 302.1h1.3v1.3h-1.3zM324.0 285.1h1.3v1.3h-1.3zM320.1 285.3h1.3v1.3h-1.3zM329.7 299.2h1.3v1.3h-1.3zM302.3 300.4h1.3v1.3h-1.3zM332.9 295.8h1.3v1.3h-1.3zM341.5 285.1h1.3v1.3h-1.3zM309.9 300.8h1.3v1.3h-1.3zM332.5 281.4h1.3v1.3h-1.3zM314.8 295.0h1.3v1.3h-1.3zM328.2 294.7h1.3v1.3h-1.3zM325.1 281.6h1.3v1.3h-1.3zM314.4 291.6h1.3v1.3h-1.3zM329.6 284.1h1.3v1.3h-1.3zM319.2 289.6h1.3v1.3h-1.3zM316.6 293.3h1.3v1.3h-1.3zM312.4 293.6h1.3v1.3h-1.3zM324.4 289.9h1.3v1.3h-1.3zM336.6 300.1h1.3v1.3h-1.3zM300.0 312.5h1.3v1.3h-1.3zM334.8 298.6h1.3v1.3h-1.3zM320.5 301.8h1.3v1.3h-1.3zM320.3 295.4h1.3v1.3h-1.3zM331.4 305.1h1.3v1.3h-1.3zM313.8 310.2h1.3v1.3h-1.3zM329.6 303.2h1.3v1.3h-1.3zM319.8 310.5h1.3v1.3h-1.3zM332.8 300.2h1.3v1.3h-1.3zM316.8 304.2h1.3v1.3h-1.3zM337.6 297.9h1.3v1.3h-1.3zM326.8 308.8h1.3v1.3h-1.3zM323.4 299.9h1.3v1.3h-1.3zM325.9 295.4h1.3v1.3h-1.3zM331.2 295.0h1.3v1.3h-1.3zM333.4 305.1h1.3v1.3h-1.3zM334.9 295.9h1.3v1.3h-1.3zM335.4 306.3h1.3v1.3h-1.3zM323.1 302.1h1.3v1.3h-1.3zM320.5 307.0h1.3v1.3h-1.3zM334.7 307.1h1.3v1.3h-1.3zM326.8 314.2h1.3v1.3h-1.3zM320.4 312.1h1.3v1.3h-1.3zM321.6 298.2h1.3v1.3h-1.3zM321.3 306.6h1.3v1.3h-1.3zM321.3 306.0h1.3v1.3h-1.3zM327.8 294.3h1.3v1.3h-1.3zM325.4 312.2h1.3v1.3h-1.3zM329.8 303.2h1.3v1.3h-1.3zM313.4 305.9h1.3v1.3h-1.3zM324.9 295.6h1.3v1.3h-1.3zM318.5 309.9h1.3v1.3h-1.3zM324.0 292.5h1.3v1.3h-1.3zM330.8 306.3h1.3v1.3h-1.3zM326.9 299.1h1.3v1.3h-1.3zM317.4 300.2h1.3v1.3h-1.3zM327.8 305.6h1.3v1.3h-1.3zM329.0 294.7h1.3v1.3h-1.3zM324.0 303.4h1.3v1.3h-1.3zM328.5 302.3h1.3v1.3h-1.3zM321.5 299.5h1.3v1.3h-1.3zM332.5 301.2h1.3v1.3h-1.3zM322.6 314.7h1.3v1.3h-1.3zM335.9 303.3h1.3v1.3h-1.3zM320.6 306.4h1.3v1.3h-1.3zM325.4 309.0h1.3v1.3h-1.3zM309.7 307.1h1.3v1.3h-1.3zM321.3 305.1h1.3v1.3h-1.3zM331.4 306.9h1.3v1.3h-1.3zM316.9 302.2h1.3v1.3h-1.3zM328.9 302.3h1.3v1.3h-1.3zM339.2 299.3h1.3v1.3h-1.3zM327.2 303.0h1.3v1.3h-1.3zM329.7 312.8h1.3v1.3h-1.3zM324.7 301.2h1.3v1.3h-1.3zM311.9 309.4h1.3v1.3h-1.3zM325.3 293.6h1.3v1.3h-1.3zM319.2 309.5h1.3v1.3h-1.3zM323.3 305.9h1.3v1.3h-1.3zM324.5 298.4h1.3v1.3h-1.3zM333.2 300.7h1.3v1.3h-1.3zM330.6 310.9h1.3v1.3h-1.3zM330.0 296.5h1.3v1.3h-1.3zM338.0 303.8h1.3v1.3h-1.3zM337.5 299.9h1.3v1.3h-1.3zM315.3 309.5h1.3v1.3h-1.3zM313.9 296.7h1.3v1.3h-1.3zM323.4 293.1h1.3v1.3h-1.3zM324.9 303.7h1.3v1.3h-1.3zM334.8 303.1h1.3v1.3h-1.3zM321.8 302.2h1.3v1.3h-1.3zM324.9 293.3h1.3v1.3h-1.3zM334.5 311.5h1.3v1.3h-1.3zM332.6 301.0h1.3v1.3h-1.3zM332.7 303.6h1.3v1.3h-1.3zM322.2 303.9h1.3v1.3h-1.3zM337.2 291.2h1.3v1.3h-1.3zM316.7 307.8h1.3v1.3h-1.3zM307.0 315.8h1.3v1.3h-1.3zM327.9 307.1h1.3v1.3h-1.3zM308.9 313.7h1.3v1.3h-1.3zM316.7 314.2h1.3v1.3h-1.3zM318.5 313.3h1.3v1.3h-1.3zM306.8 302.9h1.3v1.3h-1.3zM312.2 311.3h1.3v1.3h-1.3zM320.4 312.3h1.3v1.3h-1.3zM318.4 314.7h1.3v1.3h-1.3zM305.7 321.1h1.3v1.3h-1.3zM321.8 303.4h1.3v1.3h-1.3zM305.7 318.3h1.3v1.3h-1.3zM318.6 310.2h1.3v1.3h-1.3zM310.3 318.6h1.3v1.3h-1.3zM305.7 314.3h1.3v1.3h-1.3zM314.2 312.2h1.3v1.3h-1.3zM306.3 305.0h1.3v1.3h-1.3zM310.3 307.4h1.3v1.3h-1.3zM308.3 329.1h1.3v1.3h-1.3zM303.7 327.2h1.3v1.3h-1.3zM319.7 316.7h1.3v1.3h-1.3zM316.5 316.6h1.3v1.3h-1.3zM317.6 307.4h1.3v1.3h-1.3zM315.6 325.4h1.3v1.3h-1.3zM320.7 325.1h1.3v1.3h-1.3zM310.1 310.3h1.3v1.3h-1.3zM312.3 311.7h1.3v1.3h-1.3zM316.7 318.9h1.3v1.3h-1.3zM307.2 320.9h1.3v1.3h-1.3zM313.4 315.4h1.3v1.3h-1.3zM314.1 318.1h1.3v1.3h-1.3zM314.7 317.2h1.3v1.3h-1.3zM325.1 311.7h1.3v1.3h-1.3zM301.1 324.7h1.3v1.3h-1.3zM327.7 313.8h1.3v1.3h-1.3zM305.5 299.4h1.3v1.3h-1.3zM316.6 316.5h1.3v1.3h-1.3zM314.4 322.6h1.3v1.3h-1.3zM309.0 318.6h1.3v1.3h-1.3zM323.6 299.5h1.3v1.3h-1.3zM314.0 318.9h1.3v1.3h-1.3zM318.4 306.7h1.3v1.3h-1.3zM303.3 308.5h1.3v1.3h-1.3zM326.3 303.7h1.3v1.3h-1.3zM309.7 314.0h1.3v1.3h-1.3zM329.6 303.1h1.3v1.3h-1.3zM324.8 311.0h1.3v1.3h-1.3zM314.7 315.6h1.3v1.3h-1.3zM306.7 315.8h1.3v1.3h-1.3zM311.2 324.9h1.3v1.3h-1.3zM314.6 323.1h1.3v1.3h-1.3zM320.6 315.9h1.3v1.3h-1.3zM307.8 311.7h1.3v1.3h-1.3zM311.9 312.0h1.3v1.3h-1.3zM317.3 312.4h1.3v1.3h-1.3zM304.4 318.9h1.3v1.3h-1.3zM307.3 308.8h1.3v1.3h-1.3zM316.1 320.8h1.3v1.3h-1.3zM308.8 321.3h1.3v1.3h-1.3zM313.6 307.7h1.3v1.3h-1.3zM309.3 308.2h1.3v1.3h-1.3zM325.0 312.8h1.3v1.3h-1.3zM325.6 318.4h1.3v1.3h-1.3zM324.8 309.5h1.3v1.3h-1.3zM301.6 318.0h1.3v1.3h-1.3zM301.1 318.8h1.3v1.3h-1.3zM299.2 324.0h1.3v1.3h-1.3zM306.9 328.0h1.3v1.3h-1.3zM304.5 321.4h1.3v1.3h-1.3zM300.8 325.4h1.3v1.3h-1.3zM300.0 323.1h1.3v1.3h-1.3zM306.1 335.6h1.3v1.3h-1.3zM302.9 322.3h1.3v1.3h-1.3zM301.6 334.9h1.3v1.3h-1.3zM302.9 326.2h1.3v1.3h-1.3zM297.7 316.0h1.3v1.3h-1.3zM303.1 326.9h1.3v1.3h-1.3zM299.7 319.5h1.3v1.3h-1.3zM300.4 324.2h1.3v1.3h-1.3zM301.4 329.0h1.3v1.3h-1.3zM302.2 318.7h1.3v1.3h-1.3zM302.0 315.4h1.3v1.3h-1.3zM297.7 321.0h1.3v1.3h-1.3zM298.3 328.8h1.3v1.3h-1.3zM298.3 319.8h1.3v1.3h-1.3zM311.8 325.2h1.3v1.3h-1.3zM300.9 312.3h1.3v1.3h-1.3zM304.7 323.5h1.3v1.3h-1.3zM298.9 318.4h1.3v1.3h-1.3zM304.3 330.0h1.3v1.3h-1.3zM302.9 321.3h1.3v1.3h-1.3zM301.4 322.6h1.3v1.3h-1.3zM303.4 325.8h1.3v1.3h-1.3zM300.4 321.2h1.3v1.3h-1.3zM301.3 326.1h1.3v1.3h-1.3zM307.7 320.1h1.3v1.3h-1.3zM303.9 322.1h1.3v1.3h-1.3zM305.7 326.1h1.3v1.3h-1.3zM309.0 311.8h1.3v1.3h-1.3zM309.9 325.6h1.3v1.3h-1.3zM306.2 322.1h1.3v1.3h-1.3zM300.2 316.5h1.3v1.3h-1.3zM309.5 323.1h1.3v1.3h-1.3zM306.1 323.1h1.3v1.3h-1.3zM297.7 320.8h1.3v1.3h-1.3zM303.4 330.8h1.3v1.3h-1.3zM303.4 314.5h1.3v1.3h-1.3zM298.4 328.6h1.3v1.3h-1.3zM301.9 326.1h1.3v1.3h-1.3zM298.6 321.9h1.3v1.3h-1.3zM360.8 279.4h1.3v1.3h-1.3zM361.7 274.2h1.3v1.3h-1.3zM362.2 272.9h1.3v1.3h-1.3zM357.8 284.1h1.3v1.3h-1.3zM369.6 291.5h1.3v1.3h-1.3zM433.1 285.2h1.3v1.3h-1.3zM438.0 291.1h1.3v1.3h-1.3zM444.8 281.1h1.3v1.3h-1.3zM450.2 289.0h1.3v1.3h-1.3zM441.2 284.9h1.3v1.3h-1.3zM449.5 278.6h1.3v1.3h-1.3zM447.6 294.0h1.3v1.3h-1.3zM453.4 278.2h1.3v1.3h-1.3zM446.6 278.8h1.3v1.3h-1.3zM445.0 287.9h1.3v1.3h-1.3zM452.8 272.4h1.3v1.3h-1.3zM438.9 291.1h1.3v1.3h-1.3zM441.1 284.4h1.3v1.3h-1.3zM450.1 283.5h1.3v1.3h-1.3zM446.3 276.8h1.3v1.3h-1.3zM448.8 287.2h1.3v1.3h-1.3zM456.3 282.5h1.3v1.3h-1.3zM438.8 284.0h1.3v1.3h-1.3zM446.0 283.6h1.3v1.3h-1.3zM443.7 289.5h1.3v1.3h-1.3zM451.1 271.8h1.3v1.3h-1.3zM439.4 289.4h1.3v1.3h-1.3zM444.3 287.1h1.3v1.3h-1.3zM432.2 286.9h1.3v1.3h-1.3zM436.3 286.1h1.3v1.3h-1.3zM445.1 292.6h1.3v1.3h-1.3zM456.8 278.1h1.3v1.3h-1.3zM447.2 281.1h1.3v1.3h-1.3zM442.8 279.8h1.3v1.3h-1.3zM454.6 281.3h1.3v1.3h-1.3zM438.7 285.8h1.3v1.3h-1.3zM462.8 285.2h1.3v1.3h-1.3zM439.7 290.7h1.3v1.3h-1.3zM451.5 276.1h1.3v1.3h-1.3zM441.7 281.2h1.3v1.3h-1.3zM435.6 292.4h1.3v1.3h-1.3zM440.5 281.7h1.3v1.3h-1.3zM450.0 276.0h1.3v1.3h-1.3zM443.5 284.1h1.3v1.3h-1.3zM449.0 283.4h1.3v1.3h-1.3zM448.9 290.6h1.3v1.3h-1.3zM444.5 278.8h1.3v1.3h-1.3zM450.5 289.3h1.3v1.3h-1.3zM450.0 281.0h1.3v1.3h-1.3zM449.7 283.4h1.3v1.3h-1.3zM442.0 281.9h1.3v1.3h-1.3zM450.4 286.1h1.3v1.3h-1.3zM441.4 292.8h1.3v1.3h-1.3zM439.3 286.8h1.3v1.3h-1.3zM451.3 285.4h1.3v1.3h-1.3zM453.9 277.5h1.3v1.3h-1.3zM457.6 272.8h1.3v1.3h-1.3zM447.4 275.5h1.3v1.3h-1.3zM440.1 283.8h1.3v1.3h-1.3zM447.9 280.8h1.3v1.3h-1.3zM455.2 285.4h1.3v1.3h-1.3zM450.0 281.9h1.3v1.3h-1.3zM453.6 275.2h1.3v1.3h-1.3zM447.4 280.9h1.3v1.3h-1.3zM450.5 281.3h1.3v1.3h-1.3zM435.2 291.2h1.3v1.3h-1.3zM445.9 281.5h1.3v1.3h-1.3zM433.6 302.8h1.3v1.3h-1.3zM444.4 289.3h1.3v1.3h-1.3zM450.5 279.5h1.3v1.3h-1.3zM445.0 285.2h1.3v1.3h-1.3zM449.7 276.4h1.3v1.3h-1.3zM443.5 287.5h1.3v1.3h-1.3zM460.7 273.3h1.3v1.3h-1.3zM435.7 287.7h1.3v1.3h-1.3zM440.3 279.4h1.3v1.3h-1.3zM437.3 283.7h1.3v1.3h-1.3zM453.7 276.1h1.3v1.3h-1.3zM428.3 293.5h1.3v1.3h-1.3zM456.0 279.1h1.3v1.3h-1.3zM449.4 291.2h1.3v1.3h-1.3zM450.1 271.2h1.3v1.3h-1.3zM449.3 283.6h1.3v1.3h-1.3zM446.8 289.7h1.3v1.3h-1.3zM453.8 273.0h1.3v1.3h-1.3zM449.4 286.3h1.3v1.3h-1.3zM441.7 284.5h1.3v1.3h-1.3zM455.6 281.9h1.3v1.3h-1.3zM447.5 299.0h1.3v1.3h-1.3zM452.0 289.0h1.3v1.3h-1.3zM452.7 275.5h1.3v1.3h-1.3zM449.4 278.5h1.3v1.3h-1.3zM450.5 277.2h1.3v1.3h-1.3zM445.2 281.7h1.3v1.3h-1.3zM441.4 286.8h1.3v1.3h-1.3zM450.4 289.4h1.3v1.3h-1.3zM444.4 285.9h1.3v1.3h-1.3zM446.4 283.9h1.3v1.3h-1.3zM439.9 283.6h1.3v1.3h-1.3zM442.9 295.6h1.3v1.3h-1.3zM436.9 287.7h1.3v1.3h-1.3zM455.6 274.0h1.3v1.3h-1.3zM447.5 287.7h1.3v1.3h-1.3zM446.5 281.6h1.3v1.3h-1.3zM433.9 288.9h1.3v1.3h-1.3zM441.5 292.6h1.3v1.3h-1.3zM455.9 278.0h1.3v1.3h-1.3zM447.1 277.3h1.3v1.3h-1.3zM454.1 268.3h1.3v1.3h-1.3zM442.2 284.4h1.3v1.3h-1.3zM441.2 281.1h1.3v1.3h-1.3zM447.5 281.1h1.3v1.3h-1.3zM451.8 269.5h1.3v1.3h-1.3zM443.6 286.5h1.3v1.3h-1.3zM452.1 278.6h1.3v1.3h-1.3zM446.9 294.1h1.3v1.3h-1.3zM453.9 281.6h1.3v1.3h-1.3zM432.0 294.8h1.3v1.3h-1.3zM428.7 281.3h1.3v1.3h-1.3zM436.3 291.1h1.3v1.3h-1.3zM461.0 277.2h1.3v1.3h-1.3zM442.5 293.7h1.3v1.3h-1.3zM437.9 289.7h1.3v1.3h-1.3zM449.8 278.2h1.3v1.3h-1.3zM447.5 285.1h1.3v1.3h-1.3zM449.5 281.5h1.3v1.3h-1.3zM441.1 289.4h1.3v1.3h-1.3zM436.8 303.7h1.3v1.3h-1.3zM452.2 275.7h1.3v1.3h-1.3zM451.6 272.6h1.3v1.3h-1.3zM439.6 282.7h1.3v1.3h-1.3zM452.4 277.4h1.3v1.3h-1.3zM439.7 286.5h1.3v1.3h-1.3zM451.2 285.4h1.3v1.3h-1.3zM444.2 287.9h1.3v1.3h-1.3zM436.8 284.7h1.3v1.3h-1.3zM442.8 282.4h1.3v1.3h-1.3zM441.5 292.1h1.3v1.3h-1.3zM457.1 283.5h1.3v1.3h-1.3zM457.4 282.3h1.3v1.3h-1.3zM442.2 281.4h1.3v1.3h-1.3zM452.8 276.9h1.3v1.3h-1.3zM444.2 280.9h1.3v1.3h-1.3zM438.2 281.2h1.3v1.3h-1.3zM446.2 283.7h1.3v1.3h-1.3zM459.7 275.4h1.3v1.3h-1.3zM447.5 267.7h1.3v1.3h-1.3zM449.6 279.7h1.3v1.3h-1.3zM438.6 286.5h1.3v1.3h-1.3zM440.3 296.8h1.3v1.3h-1.3zM442.5 294.4h1.3v1.3h-1.3zM442.1 283.4h1.3v1.3h-1.3zM444.5 290.8h1.3v1.3h-1.3zM443.8 284.0h1.3v1.3h-1.3zM458.7 278.3h1.3v1.3h-1.3zM440.0 280.5h1.3v1.3h-1.3zM447.5 287.0h1.3v1.3h-1.3zM449.1 286.2h1.3v1.3h-1.3zM436.7 281.9h1.3v1.3h-1.3zM449.6 284.0h1.3v1.3h-1.3zM444.0 293.9h1.3v1.3h-1.3zM459.0 273.6h1.3v1.3h-1.3zM444.8 292.1h1.3v1.3h-1.3zM431.9 288.8h1.3v1.3h-1.3zM445.6 277.8h1.3v1.3h-1.3zM436.7 282.8h1.3v1.3h-1.3zM440.8 293.4h1.3v1.3h-1.3zM436.5 277.9h1.3v1.3h-1.3zM452.9 283.1h1.3v1.3h-1.3zM455.1 275.5h1.3v1.3h-1.3zM449.4 286.6h1.3v1.3h-1.3zM445.0 286.2h1.3v1.3h-1.3zM449.1 281.5h1.3v1.3h-1.3zM449.2 285.8h1.3v1.3h-1.3zM450.3 286.8h1.3v1.3h-1.3zM461.2 279.6h1.3v1.3h-1.3zM450.6 287.2h1.3v1.3h-1.3zM448.0 287.4h1.3v1.3h-1.3zM434.3 289.2h1.3v1.3h-1.3zM445.1 283.5h1.3v1.3h-1.3zM440.0 278.5h1.3v1.3h-1.3zM446.6 281.9h1.3v1.3h-1.3zM450.9 278.9h1.3v1.3h-1.3zM460.7 281.2h1.3v1.3h-1.3zM448.6 293.3h1.3v1.3h-1.3zM448.7 274.7h1.3v1.3h-1.3zM439.4 278.7h1.3v1.3h-1.3zM442.5 282.1h1.3v1.3h-1.3zM449.1 283.0h1.3v1.3h-1.3zM451.2 291.1h1.3v1.3h-1.3zM438.1 282.0h1.3v1.3h-1.3zM435.6 283.6h1.3v1.3h-1.3zM441.9 279.3h1.3v1.3h-1.3zM455.6 284.5h1.3v1.3h-1.3zM448.1 278.3h1.3v1.3h-1.3zM449.1 279.6h1.3v1.3h-1.3zM432.9 286.5h1.3v1.3h-1.3zM456.3 279.6h1.3v1.3h-1.3zM456.0 274.1h1.3v1.3h-1.3zM438.4 289.5h1.3v1.3h-1.3zM447.4 278.4h1.3v1.3h-1.3zM450.7 276.7h1.3v1.3h-1.3zM448.8 289.1h1.3v1.3h-1.3zM437.9 286.4h1.3v1.3h-1.3zM453.2 282.5h1.3v1.3h-1.3zM414.1 277.6h1.3v1.3h-1.3zM424.4 274.3h1.3v1.3h-1.3zM419.8 281.5h1.3v1.3h-1.3zM415.2 275.2h1.3v1.3h-1.3zM422.2 280.1h1.3v1.3h-1.3zM417.2 285.1h1.3v1.3h-1.3zM424.5 278.4h1.3v1.3h-1.3zM424.1 276.4h1.3v1.3h-1.3zM419.8 285.4h1.3v1.3h-1.3zM428.0 279.2h1.3v1.3h-1.3zM433.5 276.2h1.3v1.3h-1.3zM430.9 279.8h1.3v1.3h-1.3zM420.4 283.4h1.3v1.3h-1.3zM416.2 282.9h1.3v1.3h-1.3zM420.4 281.7h1.3v1.3h-1.3zM420.4 310.5h1.3v1.3h-1.3zM438.3 300.1h1.3v1.3h-1.3zM433.6 294.0h1.3v1.3h-1.3zM443.3 298.7h1.3v1.3h-1.3zM423.6 293.6h1.3v1.3h-1.3zM434.4 305.0h1.3v1.3h-1.3zM429.4 296.6h1.3v1.3h-1.3zM420.1 298.5h1.3v1.3h-1.3zM429.8 314.0h1.3v1.3h-1.3zM452.8 296.7h1.3v1.3h-1.3zM430.1 304.6h1.3v1.3h-1.3zM439.3 297.7h1.3v1.3h-1.3zM446.3 298.1h1.3v1.3h-1.3zM426.1 300.0h1.3v1.3h-1.3zM440.5 296.1h1.3v1.3h-1.3zM432.9 302.5h1.3v1.3h-1.3zM433.8 302.2h1.3v1.3h-1.3zM439.4 281.4h1.3v1.3h-1.3zM429.8 312.7h1.3v1.3h-1.3zM444.9 293.3h1.3v1.3h-1.3zM431.9 308.8h1.3v1.3h-1.3zM429.2 311.9h1.3v1.3h-1.3zM434.1 304.4h1.3v1.3h-1.3zM427.9 300.9h1.3v1.3h-1.3zM422.6 309.9h1.3v1.3h-1.3zM422.5 303.1h1.3v1.3h-1.3zM420.6 299.3h1.3v1.3h-1.3zM423.4 287.9h1.3v1.3h-1.3zM444.0 303.0h1.3v1.3h-1.3zM437.4 301.5h1.3v1.3h-1.3zM451.6 305.7h1.3v1.3h-1.3zM427.0 303.9h1.3v1.3h-1.3zM429.5 305.4h1.3v1.3h-1.3zM419.7 308.2h1.3v1.3h-1.3zM446.3 295.5h1.3v1.3h-1.3zM421.7 309.8h1.3v1.3h-1.3zM438.1 304.2h1.3v1.3h-1.3zM432.9 306.1h1.3v1.3h-1.3zM446.0 291.3h1.3v1.3h-1.3zM425.9 303.0h1.3v1.3h-1.3zM433.6 314.9h1.3v1.3h-1.3zM436.2 302.4h1.3v1.3h-1.3zM436.7 296.4h1.3v1.3h-1.3zM430.4 293.2h1.3v1.3h-1.3zM455.7 302.9h1.3v1.3h-1.3zM436.1 308.4h1.3v1.3h-1.3zM431.9 303.3h1.3v1.3h-1.3zM427.9 308.6h1.3v1.3h-1.3zM446.8 305.1h1.3v1.3h-1.3zM442.4 299.9h1.3v1.3h-1.3zM416.1 305.7h1.3v1.3h-1.3zM427.0 304.5h1.3v1.3h-1.3zM427.0 298.4h1.3v1.3h-1.3zM442.2 300.9h1.3v1.3h-1.3zM445.9 291.7h1.3v1.3h-1.3zM425.3 300.6h1.3v1.3h-1.3zM438.9 292.5h1.3v1.3h-1.3zM430.6 300.4h1.3v1.3h-1.3zM430.9 301.5h1.3v1.3h-1.3zM414.2 305.8h1.3v1.3h-1.3zM451.6 296.1h1.3v1.3h-1.3zM433.1 303.0h1.3v1.3h-1.3zM450.4 303.3h1.3v1.3h-1.3zM433.0 301.7h1.3v1.3h-1.3zM448.8 299.5h1.3v1.3h-1.3zM436.2 309.8h1.3v1.3h-1.3zM434.1 293.3h1.3v1.3h-1.3zM429.6 297.1h1.3v1.3h-1.3zM426.5 297.1h1.3v1.3h-1.3zM433.5 300.3h1.3v1.3h-1.3zM432.0 298.9h1.3v1.3h-1.3zM440.3 298.9h1.3v1.3h-1.3zM438.6 301.0h1.3v1.3h-1.3zM430.6 287.9h1.3v1.3h-1.3zM436.3 310.0h1.3v1.3h-1.3zM431.1 306.6h1.3v1.3h-1.3zM427.4 300.9h1.3v1.3h-1.3zM447.1 302.3h1.3v1.3h-1.3zM424.0 309.0h1.3v1.3h-1.3zM429.6 305.8h1.3v1.3h-1.3zM433.6 303.6h1.3v1.3h-1.3zM433.3 304.0h1.3v1.3h-1.3zM440.3 295.2h1.3v1.3h-1.3zM426.7 302.0h1.3v1.3h-1.3zM455.8 294.6h1.3v1.3h-1.3zM458.3 305.5h1.3v1.3h-1.3zM427.4 308.4h1.3v1.3h-1.3zM436.6 293.2h1.3v1.3h-1.3zM434.8 301.5h1.3v1.3h-1.3zM440.3 300.4h1.3v1.3h-1.3zM427.5 307.9h1.3v1.3h-1.3zM437.9 286.0h1.3v1.3h-1.3zM431.3 298.3h1.3v1.3h-1.3zM431.9 313.2h1.3v1.3h-1.3zM417.9 309.3h1.3v1.3h-1.3zM425.7 315.4h1.3v1.3h-1.3zM432.8 303.9h1.3v1.3h-1.3zM424.6 304.8h1.3v1.3h-1.3zM435.8 296.1h1.3v1.3h-1.3zM431.3 298.6h1.3v1.3h-1.3zM424.5 302.9h1.3v1.3h-1.3zM421.5 314.1h1.3v1.3h-1.3zM446.5 304.3h1.3v1.3h-1.3zM439.2 308.8h1.3v1.3h-1.3zM427.7 303.7h1.3v1.3h-1.3zM425.2 301.3h1.3v1.3h-1.3zM430.3 305.6h1.3v1.3h-1.3zM434.8 304.0h1.3v1.3h-1.3zM443.0 302.2h1.3v1.3h-1.3zM445.1 301.8h1.3v1.3h-1.3zM429.6 308.0h1.3v1.3h-1.3zM444.0 318.0h1.3v1.3h-1.3zM435.0 302.5h1.3v1.3h-1.3zM442.5 308.1h1.3v1.3h-1.3zM438.9 306.5h1.3v1.3h-1.3zM441.9 301.0h1.3v1.3h-1.3zM437.8 306.5h1.3v1.3h-1.3zM433.4 296.5h1.3v1.3h-1.3zM425.8 297.1h1.3v1.3h-1.3zM417.6 314.6h1.3v1.3h-1.3zM418.5 307.7h1.3v1.3h-1.3zM410.9 318.1h1.3v1.3h-1.3zM415.9 323.7h1.3v1.3h-1.3zM413.8 317.1h1.3v1.3h-1.3zM415.8 328.0h1.3v1.3h-1.3zM411.1 320.8h1.3v1.3h-1.3zM412.6 314.2h1.3v1.3h-1.3zM415.3 327.0h1.3v1.3h-1.3zM418.7 324.6h1.3v1.3h-1.3zM412.8 319.2h1.3v1.3h-1.3zM421.2 319.7h1.3v1.3h-1.3zM417.0 306.3h1.3v1.3h-1.3zM413.7 325.1h1.3v1.3h-1.3zM412.1 325.3h1.3v1.3h-1.3zM414.6 322.2h1.3v1.3h-1.3zM416.7 318.4h1.3v1.3h-1.3zM416.1 334.5h1.3v1.3h-1.3zM416.8 330.5h1.3v1.3h-1.3zM412.4 320.1h1.3v1.3h-1.3zM410.4 326.4h1.3v1.3h-1.3zM414.9 314.9h1.3v1.3h-1.3zM415.4 310.9h1.3v1.3h-1.3zM411.0 328.6h1.3v1.3h-1.3zM414.2 326.1h1.3v1.3h-1.3zM412.5 318.2h1.3v1.3h-1.3zM413.1 308.8h1.3v1.3h-1.3zM420.7 316.9h1.3v1.3h-1.3zM414.0 328.0h1.3v1.3h-1.3zM416.0 319.3h1.3v1.3h-1.3zM411.1 327.6h1.3v1.3h-1.3zM414.9 320.0h1.3v1.3h-1.3zM415.6 314.7h1.3v1.3h-1.3zM411.6 321.0h1.3v1.3h-1.3zM415.9 315.8h1.3v1.3h-1.3zM414.3 328.7h1.3v1.3h-1.3zM417.5 315.9h1.3v1.3h-1.3zM416.0 323.5h1.3v1.3h-1.3zM412.0 320.6h1.3v1.3h-1.3zM422.1 316.4h1.3v1.3h-1.3zM411.6 324.9h1.3v1.3h-1.3zM413.2 330.6h1.3v1.3h-1.3zM414.7 320.7h1.3v1.3h-1.3zM413.7 324.9h1.3v1.3h-1.3zM413.7 320.3h1.3v1.3h-1.3zM413.6 321.9h1.3v1.3h-1.3zM417.1 318.7h1.3v1.3h-1.3zM413.9 312.2h1.3v1.3h-1.3zM416.8 315.9h1.3v1.3h-1.3zM414.6 318.5h1.3v1.3h-1.3zM410.8 323.6h1.3v1.3h-1.3zM412.0 329.5h1.3v1.3h-1.3zM411.2 334.9h1.3v1.3h-1.3zM413.2 328.7h1.3v1.3h-1.3zM411.4 326.5h1.3v1.3h-1.3zM411.3 330.9h1.3v1.3h-1.3zM411.0 312.6h1.3v1.3h-1.3zM413.8 314.6h1.3v1.3h-1.3zM411.0 328.1h1.3v1.3h-1.3zM411.9 318.4h1.3v1.3h-1.3zM412.9 317.5h1.3v1.3h-1.3zM413.3 314.8h1.3v1.3h-1.3zM411.2 334.2h1.3v1.3h-1.3zM410.9 323.8h1.3v1.3h-1.3zM413.0 323.5h1.3v1.3h-1.3zM104.6 410.3h1.3v1.3h-1.3zM80.9 405.7h1.3v1.3h-1.3zM82.2 407.2h1.3v1.3h-1.3zM91.9 407.9h1.3v1.3h-1.3zM84.5 404.0h1.3v1.3h-1.3zM95.3 406.6h1.3v1.3h-1.3zM105.8 404.0h1.3v1.3h-1.3zM94.9 407.2h1.3v1.3h-1.3zM83.3 412.1h1.3v1.3h-1.3zM89.9 403.7h1.3v1.3h-1.3zM86.6 410.8h1.3v1.3h-1.3zM79.8 412.2h1.3v1.3h-1.3zM94.1 406.0h1.3v1.3h-1.3zM99.1 413.5h1.3v1.3h-1.3zM93.5 407.6h1.3v1.3h-1.3zM102.8 412.6h1.3v1.3h-1.3zM82.1 406.2h1.3v1.3h-1.3zM87.4 405.5h1.3v1.3h-1.3zM77.8 410.4h1.3v1.3h-1.3zM89.6 407.4h1.3v1.3h-1.3zM99.6 404.9h1.3v1.3h-1.3zM88.6 408.0h1.3v1.3h-1.3zM85.8 406.6h1.3v1.3h-1.3zM94.7 407.0h1.3v1.3h-1.3zM99.0 404.2h1.3v1.3h-1.3zM90.5 401.6h1.3v1.3h-1.3zM88.1 404.4h1.3v1.3h-1.3zM99.2 409.8h1.3v1.3h-1.3zM92.8 413.9h1.3v1.3h-1.3zM99.9 409.7h1.3v1.3h-1.3zM83.8 401.6h1.3v1.3h-1.3zM88.8 405.7h1.3v1.3h-1.3zM84.1 405.9h1.3v1.3h-1.3zM76.5 412.6h1.3v1.3h-1.3zM80.4 404.5h1.3v1.3h-1.3zM93.3 400.9h1.3v1.3h-1.3zM95.9 410.5h1.3v1.3h-1.3zM86.6 402.9h1.3v1.3h-1.3zM85.4 400.0h1.3v1.3h-1.3zM99.5 407.2h1.3v1.3h-1.3zM83.4 403.6h1.3v1.3h-1.3zM93.3 412.7h1.3v1.3h-1.3zM79.4 404.8h1.3v1.3h-1.3zM75.7 409.6h1.3v1.3h-1.3zM90.2 415.5h1.3v1.3h-1.3zM88.1 405.4h1.3v1.3h-1.3zM83.6 410.2h1.3v1.3h-1.3zM76.7 409.8h1.3v1.3h-1.3zM90.9 405.1h1.3v1.3h-1.3zM82.2 411.0h1.3v1.3h-1.3zM103.1 405.3h1.3v1.3h-1.3zM93.0 413.6h1.3v1.3h-1.3zM84.3 406.0h1.3v1.3h-1.3zM79.7 406.4h1.3v1.3h-1.3zM88.4 405.4h1.3v1.3h-1.3zM83.4 401.0h1.3v1.3h-1.3zM78.8 403.3h1.3v1.3h-1.3zM93.9 405.1h1.3v1.3h-1.3zM82.5 409.5h1.3v1.3h-1.3zM93.3 404.1h1.3v1.3h-1.3zM84.2 409.5h1.3v1.3h-1.3zM91.8 403.8h1.3v1.3h-1.3zM90.8 406.9h1.3v1.3h-1.3zM97.5 403.7h1.3v1.3h-1.3zM95.7 408.6h1.3v1.3h-1.3zM81.3 411.0h1.3v1.3h-1.3zM95.9 402.0h1.3v1.3h-1.3zM104.1 402.6h1.3v1.3h-1.3zM82.0 405.8h1.3v1.3h-1.3zM94.9 409.2h1.3v1.3h-1.3zM88.3 412.2h1.3v1.3h-1.3zM92.1 412.3h1.3v1.3h-1.3zM110.5 407.7h1.3v1.3h-1.3zM69.3 405.3h1.3v1.3h-1.3zM80.8 407.4h1.3v1.3h-1.3zM89.7 402.3h1.3v1.3h-1.3zM80.2 406.0h1.3v1.3h-1.3zM87.5 397.0h1.3v1.3h-1.3zM96.5 407.1h1.3v1.3h-1.3zM88.9 408.1h1.3v1.3h-1.3zM81.1 406.8h1.3v1.3h-1.3zM97.0 411.2h1.3v1.3h-1.3zM92.6 405.9h1.3v1.3h-1.3zM82.7 412.1h1.3v1.3h-1.3zM93.1 405.4h1.3v1.3h-1.3zM72.2 403.6h1.3v1.3h-1.3zM74.0 411.8h1.3v1.3h-1.3zM90.5 404.1h1.3v1.3h-1.3zM86.8 417.1h1.3v1.3h-1.3zM98.5 401.8h1.3v1.3h-1.3zM88.0 402.2h1.3v1.3h-1.3zM75.5 407.7h1.3v1.3h-1.3zM107.9 413.1h1.3v1.3h-1.3zM89.3 405.5h1.3v1.3h-1.3zM90.6 411.1h1.3v1.3h-1.3zM77.6 399.7h1.3v1.3h-1.3zM103.8 408.1h1.3v1.3h-1.3zM101.6 407.9h1.3v1.3h-1.3zM100.6 404.6h1.3v1.3h-1.3zM92.9 413.1h1.3v1.3h-1.3zM97.0 405.2h1.3v1.3h-1.3zM96.0 404.4h1.3v1.3h-1.3zM77.8 409.1h1.3v1.3h-1.3zM100.0 410.4h1.3v1.3h-1.3zM79.1 410.4h1.3v1.3h-1.3zM94.4 405.2h1.3v1.3h-1.3zM69.3 411.0h1.3v1.3h-1.3zM96.0 409.0h1.3v1.3h-1.3zM75.3 401.1h1.3v1.3h-1.3zM97.0 410.2h1.3v1.3h-1.3zM92.9 406.0h1.3v1.3h-1.3zM92.1 404.8h1.3v1.3h-1.3zM86.5 403.6h1.3v1.3h-1.3zM91.0 405.3h1.3v1.3h-1.3zM96.6 409.9h1.3v1.3h-1.3zM82.5 414.3h1.3v1.3h-1.3zM80.1 408.8h1.3v1.3h-1.3zM97.6 412.1h1.3v1.3h-1.3zM71.4 411.0h1.3v1.3h-1.3zM98.7 412.7h1.3v1.3h-1.3zM71.3 404.3h1.3v1.3h-1.3zM88.2 405.2h1.3v1.3h-1.3zM99.7 404.3h1.3v1.3h-1.3zM98.8 409.2h1.3v1.3h-1.3zM77.4 403.0h1.3v1.3h-1.3zM85.3 407.4h1.3v1.3h-1.3zM96.9 406.3h1.3v1.3h-1.3zM96.3 400.7h1.3v1.3h-1.3zM92.7 405.6h1.3v1.3h-1.3zM80.9 408.7h1.3v1.3h-1.3zM104.5 406.6h1.3v1.3h-1.3zM83.2 403.6h1.3v1.3h-1.3zM104.7 406.8h1.3v1.3h-1.3zM93.9 411.9h1.3v1.3h-1.3zM97.6 403.3h1.3v1.3h-1.3zM96.6 410.4h1.3v1.3h-1.3zM92.9 411.0h1.3v1.3h-1.3zM84.5 406.7h1.3v1.3h-1.3zM84.8 410.0h1.3v1.3h-1.3zM83.8 408.6h1.3v1.3h-1.3zM80.2 406.5h1.3v1.3h-1.3zM86.1 406.5h1.3v1.3h-1.3zM90.1 406.3h1.3v1.3h-1.3zM87.2 398.7h1.3v1.3h-1.3zM97.8 404.5h1.3v1.3h-1.3zM87.0 403.7h1.3v1.3h-1.3zM97.0 403.4h1.3v1.3h-1.3zM93.0 411.7h1.3v1.3h-1.3zM102.2 411.8h1.3v1.3h-1.3zM94.0 402.2h1.3v1.3h-1.3zM99.3 411.8h1.3v1.3h-1.3zM95.7 410.2h1.3v1.3h-1.3zM89.6 405.0h1.3v1.3h-1.3zM97.7 412.1h1.3v1.3h-1.3zM80.7 410.7h1.3v1.3h-1.3zM91.0 410.6h1.3v1.3h-1.3zM91.3 411.5h1.3v1.3h-1.3zM97.3 410.6h1.3v1.3h-1.3zM78.1 410.3h1.3v1.3h-1.3zM89.5 402.6h1.3v1.3h-1.3zM94.7 401.6h1.3v1.3h-1.3zM96.2 413.8h1.3v1.3h-1.3zM85.1 410.7h1.3v1.3h-1.3zM92.7 409.7h1.3v1.3h-1.3zM78.4 409.5h1.3v1.3h-1.3zM90.2 410.0h1.3v1.3h-1.3zM89.2 411.4h1.3v1.3h-1.3zM91.4 409.8h1.3v1.3h-1.3zM100.1 407.8h1.3v1.3h-1.3zM97.1 408.0h1.3v1.3h-1.3zM93.3 405.0h1.3v1.3h-1.3zM95.4 412.0h1.3v1.3h-1.3zM88.6 410.3h1.3v1.3h-1.3zM92.6 402.7h1.3v1.3h-1.3zM92.0 412.3h1.3v1.3h-1.3zM85.4 400.1h1.3v1.3h-1.3zM90.9 404.6h1.3v1.3h-1.3zM104.2 407.0h1.3v1.3h-1.3zM89.2 404.7h1.3v1.3h-1.3zM91.2 404.9h1.3v1.3h-1.3zM82.2 406.9h1.3v1.3h-1.3zM82.9 412.3h1.3v1.3h-1.3zM80.1 406.8h1.3v1.3h-1.3zM83.9 401.7h1.3v1.3h-1.3zM102.3 398.9h1.3v1.3h-1.3zM100.7 401.6h1.3v1.3h-1.3zM90.0 416.0h1.3v1.3h-1.3zM72.6 401.8h1.3v1.3h-1.3zM99.6 407.8h1.3v1.3h-1.3zM85.0 407.0h1.3v1.3h-1.3zM81.7 407.6h1.3v1.3h-1.3zM101.0 405.6h1.3v1.3h-1.3zM90.4 411.9h1.3v1.3h-1.3zM104.9 404.8h1.3v1.3h-1.3zM91.6 404.9h1.3v1.3h-1.3zM84.2 405.6h1.3v1.3h-1.3zM84.3 400.4h1.3v1.3h-1.3zM73.7 404.3h1.3v1.3h-1.3zM90.3 411.9h1.3v1.3h-1.3zM85.1 406.5h1.3v1.3h-1.3zM94.5 410.0h1.3v1.3h-1.3zM88.4 406.9h1.3v1.3h-1.3zM104.0 405.8h1.3v1.3h-1.3zM85.4 400.8h1.3v1.3h-1.3zM92.7 406.1h1.3v1.3h-1.3zM104.2 405.8h1.3v1.3h-1.3zM95.6 410.8h1.3v1.3h-1.3zM102.2 402.0h1.3v1.3h-1.3zM101.5 407.2h1.3v1.3h-1.3zM88.5 405.9h1.3v1.3h-1.3zM86.2 405.8h1.3v1.3h-1.3zM71.0 409.1h1.3v1.3h-1.3zM89.8 403.4h1.3v1.3h-1.3zM88.8 416.1h1.3v1.3h-1.3zM92.3 405.6h1.3v1.3h-1.3zM102.7 404.0h1.3v1.3h-1.3zM88.1 405.0h1.3v1.3h-1.3zM87.4 410.0h1.3v1.3h-1.3zM93.8 404.3h1.3v1.3h-1.3zM88.3 407.5h1.3v1.3h-1.3zM86.1 407.0h1.3v1.3h-1.3zM83.6 404.3h1.3v1.3h-1.3zM89.6 403.1h1.3v1.3h-1.3zM92.5 406.4h1.3v1.3h-1.3zM82.1 404.7h1.3v1.3h-1.3zM85.5 406.5h1.3v1.3h-1.3zM90.1 406.3h1.3v1.3h-1.3zM82.5 412.7h1.3v1.3h-1.3zM96.3 407.6h1.3v1.3h-1.3zM96.7 408.4h1.3v1.3h-1.3zM87.2 407.5h1.3v1.3h-1.3zM110.0 411.0h1.3v1.3h-1.3zM97.3 405.6h1.3v1.3h-1.3zM93.9 415.9h1.3v1.3h-1.3zM92.6 411.3h1.3v1.3h-1.3zM99.0 409.6h1.3v1.3h-1.3zM101.5 408.0h1.3v1.3h-1.3zM93.1 404.7h1.3v1.3h-1.3zM109.7 408.3h1.3v1.3h-1.3zM90.1 412.5h1.3v1.3h-1.3zM85.5 407.1h1.3v1.3h-1.3zM83.2 407.2h1.3v1.3h-1.3zM86.2 409.2h1.3v1.3h-1.3zM88.2 404.8h1.3v1.3h-1.3zM86.9 406.7h1.3v1.3h-1.3zM85.3 410.7h1.3v1.3h-1.3zM94.4 407.7h1.3v1.3h-1.3zM80.0 409.1h1.3v1.3h-1.3zM79.3 407.8h1.3v1.3h-1.3zM89.6 404.8h1.3v1.3h-1.3zM82.8 404.4h1.3v1.3h-1.3zM105.1 406.1h1.3v1.3h-1.3zM87.6 410.8h1.3v1.3h-1.3zM92.5 411.2h1.3v1.3h-1.3zM79.7 402.9h1.3v1.3h-1.3zM114.9 406.9h1.3v1.3h-1.3zM87.0 407.7h1.3v1.3h-1.3zM96.9 402.5h1.3v1.3h-1.3zM91.4 407.0h1.3v1.3h-1.3zM94.4 407.8h1.3v1.3h-1.3zM85.1 403.8h1.3v1.3h-1.3zM70.4 410.9h1.3v1.3h-1.3zM77.9 405.6h1.3v1.3h-1.3zM102.0 405.5h1.3v1.3h-1.3zM93.9 406.3h1.3v1.3h-1.3zM94.6 407.2h1.3v1.3h-1.3zM85.3 412.3h1.3v1.3h-1.3zM87.2 401.9h1.3v1.3h-1.3zM86.7 409.2h1.3v1.3h-1.3zM80.6 410.1h1.3v1.3h-1.3zM95.1 415.3h1.3v1.3h-1.3zM84.3 409.6h1.3v1.3h-1.3zM76.4 405.5h1.3v1.3h-1.3zM90.0 408.7h1.3v1.3h-1.3zM88.8 406.8h1.3v1.3h-1.3zM84.5 405.4h1.3v1.3h-1.3zM91.6 409.3h1.3v1.3h-1.3zM94.1 410.9h1.3v1.3h-1.3zM98.3 400.2h1.3v1.3h-1.3zM85.2 406.5h1.3v1.3h-1.3zM84.3 411.1h1.3v1.3h-1.3zM95.0 406.7h1.3v1.3h-1.3zM90.1 412.0h1.3v1.3h-1.3zM86.5 405.9h1.3v1.3h-1.3zM96.2 408.9h1.3v1.3h-1.3zM100.1 408.5h1.3v1.3h-1.3zM95.0 405.0h1.3v1.3h-1.3zM82.0 407.1h1.3v1.3h-1.3zM96.7 407.4h1.3v1.3h-1.3zM87.5 411.3h1.3v1.3h-1.3zM88.9 410.9h1.3v1.3h-1.3zM106.0 409.9h1.3v1.3h-1.3zM96.4 409.0h1.3v1.3h-1.3zM91.1 408.2h1.3v1.3h-1.3zM89.7 411.3h1.3v1.3h-1.3zM76.9 406.1h1.3v1.3h-1.3zM94.2 403.9h1.3v1.3h-1.3zM88.4 404.4h1.3v1.3h-1.3zM92.6 410.4h1.3v1.3h-1.3zM100.3 409.0h1.3v1.3h-1.3zM83.7 408.1h1.3v1.3h-1.3zM93.6 412.5h1.3v1.3h-1.3zM72.8 408.5h1.3v1.3h-1.3zM75.2 409.8h1.3v1.3h-1.3zM92.6 409.0h1.3v1.3h-1.3zM96.0 408.6h1.3v1.3h-1.3zM84.3 408.4h1.3v1.3h-1.3zM98.4 406.7h1.3v1.3h-1.3zM89.4 402.5h1.3v1.3h-1.3zM98.1 405.2h1.3v1.3h-1.3zM83.5 405.4h1.3v1.3h-1.3zM82.6 406.1h1.3v1.3h-1.3zM99.0 410.1h1.3v1.3h-1.3zM100.1 412.8h1.3v1.3h-1.3zM82.4 408.9h1.3v1.3h-1.3zM100.7 415.9h1.3v1.3h-1.3zM78.4 401.7h1.3v1.3h-1.3zM92.8 405.8h1.3v1.3h-1.3zM81.6 408.6h1.3v1.3h-1.3zM83.2 398.4h1.3v1.3h-1.3zM89.0 407.6h1.3v1.3h-1.3zM94.1 410.7h1.3v1.3h-1.3zM90.6 406.2h1.3v1.3h-1.3zM84.1 400.8h1.3v1.3h-1.3zM85.8 410.9h1.3v1.3h-1.3zM94.2 414.9h1.3v1.3h-1.3zM88.0 400.3h1.3v1.3h-1.3zM95.5 411.1h1.3v1.3h-1.3zM80.3 400.9h1.3v1.3h-1.3zM90.3 409.8h1.3v1.3h-1.3zM80.6 405.8h1.3v1.3h-1.3zM83.2 402.6h1.3v1.3h-1.3zM79.1 407.6h1.3v1.3h-1.3zM86.3 404.5h1.3v1.3h-1.3zM69.2 413.7h1.3v1.3h-1.3zM81.9 406.6h1.3v1.3h-1.3zM80.5 408.5h1.3v1.3h-1.3zM77.6 407.4h1.3v1.3h-1.3zM80.5 411.5h1.3v1.3h-1.3zM72.7 404.0h1.3v1.3h-1.3zM80.1 417.1h1.3v1.3h-1.3zM69.5 408.5h1.3v1.3h-1.3zM76.5 408.6h1.3v1.3h-1.3zM87.7 407.7h1.3v1.3h-1.3zM84.4 408.4h1.3v1.3h-1.3zM77.1 406.0h1.3v1.3h-1.3zM75.5 405.8h1.3v1.3h-1.3zM88.4 408.9h1.3v1.3h-1.3zM86.1 412.3h1.3v1.3h-1.3zM81.9 406.6h1.3v1.3h-1.3zM70.8 409.7h1.3v1.3h-1.3zM91.9 411.9h1.3v1.3h-1.3zM81.3 410.1h1.3v1.3h-1.3zM90.0 415.7h1.3v1.3h-1.3zM92.6 407.7h1.3v1.3h-1.3zM82.9 407.8h1.3v1.3h-1.3zM84.0 404.7h1.3v1.3h-1.3zM88.7 403.7h1.3v1.3h-1.3zM75.2 408.7h1.3v1.3h-1.3zM77.1 405.9h1.3v1.3h-1.3zM82.0 406.4h1.3v1.3h-1.3zM86.0 408.0h1.3v1.3h-1.3zM76.0 416.6h1.3v1.3h-1.3zM78.2 411.7h1.3v1.3h-1.3zM97.7 404.1h1.3v1.3h-1.3zM82.8 403.1h1.3v1.3h-1.3zM91.0 405.4h1.3v1.3h-1.3zM72.6 413.3h1.3v1.3h-1.3zM89.9 402.8h1.3v1.3h-1.3zM92.2 407.9h1.3v1.3h-1.3zM105.3 415.2h1.3v1.3h-1.3zM77.3 405.7h1.3v1.3h-1.3zM74.5 407.6h1.3v1.3h-1.3zM82.4 410.5h1.3v1.3h-1.3zM82.8 400.0h1.3v1.3h-1.3zM75.0 413.8h1.3v1.3h-1.3zM91.9 406.2h1.3v1.3h-1.3zM80.8 406.2h1.3v1.3h-1.3zM82.2 399.0h1.3v1.3h-1.3zM89.7 403.9h1.3v1.3h-1.3zM83.3 394.9h1.3v1.3h-1.3zM84.0 413.4h1.3v1.3h-1.3zM86.1 403.5h1.3v1.3h-1.3zM84.2 409.8h1.3v1.3h-1.3zM79.7 403.2h1.3v1.3h-1.3zM89.5 402.4h1.3v1.3h-1.3zM89.7 399.0h1.3v1.3h-1.3zM74.0 400.1h1.3v1.3h-1.3zM93.3 398.6h1.3v1.3h-1.3zM72.2 410.2h1.3v1.3h-1.3zM84.0 417.5h1.3v1.3h-1.3zM97.8 409.9h1.3v1.3h-1.3zM87.9 398.3h1.3v1.3h-1.3zM74.4 405.4h1.3v1.3h-1.3zM80.5 400.4h1.3v1.3h-1.3zM74.0 402.9h1.3v1.3h-1.3zM91.1 409.0h1.3v1.3h-1.3zM79.1 405.7h1.3v1.3h-1.3zM84.5 403.7h1.3v1.3h-1.3zM79.7 398.8h1.3v1.3h-1.3zM87.8 411.6h1.3v1.3h-1.3zM85.1 409.3h1.3v1.3h-1.3zM85.1 416.8h1.3v1.3h-1.3zM83.7 400.7h1.3v1.3h-1.3zM73.0 410.4h1.3v1.3h-1.3zM91.2 410.7h1.3v1.3h-1.3zM89.2 407.9h1.3v1.3h-1.3zM69.2 403.6h1.3v1.3h-1.3zM70.2 407.5h1.3v1.3h-1.3zM80.5 397.7h1.3v1.3h-1.3zM88.3 410.6h1.3v1.3h-1.3zM70.0 407.7h1.3v1.3h-1.3zM88.2 405.6h1.3v1.3h-1.3zM89.3 407.9h1.3v1.3h-1.3zM91.2 407.9h1.3v1.3h-1.3zM80.5 409.4h1.3v1.3h-1.3zM88.7 408.2h1.3v1.3h-1.3zM78.0 403.2h1.3v1.3h-1.3zM78.7 404.2h1.3v1.3h-1.3zM83.7 407.8h1.3v1.3h-1.3zM81.2 406.9h1.3v1.3h-1.3zM83.4 414.5h1.3v1.3h-1.3zM92.3 404.2h1.3v1.3h-1.3zM85.5 405.4h1.3v1.3h-1.3zM81.0 405.8h1.3v1.3h-1.3zM76.5 400.4h1.3v1.3h-1.3zM92.1 402.6h1.3v1.3h-1.3zM86.2 405.1h1.3v1.3h-1.3zM84.3 403.0h1.3v1.3h-1.3zM79.8 406.4h1.3v1.3h-1.3zM80.6 394.9h1.3v1.3h-1.3zM87.5 406.7h1.3v1.3h-1.3zM83.6 408.6h1.3v1.3h-1.3zM78.2 401.7h1.3v1.3h-1.3zM77.9 404.8h1.3v1.3h-1.3zM101.1 415.8h1.3v1.3h-1.3zM77.6 404.9h1.3v1.3h-1.3zM84.6 409.6h1.3v1.3h-1.3zM75.8 402.0h1.3v1.3h-1.3zM98.6 412.0h1.3v1.3h-1.3zM74.6 407.9h1.3v1.3h-1.3zM86.5 405.2h1.3v1.3h-1.3zM87.0 406.9h1.3v1.3h-1.3zM77.4 409.6h1.3v1.3h-1.3zM81.3 401.4h1.3v1.3h-1.3zM82.6 400.6h1.3v1.3h-1.3zM90.2 409.1h1.3v1.3h-1.3zM73.0 407.9h1.3v1.3h-1.3zM92.7 396.4h1.3v1.3h-1.3zM80.5 414.9h1.3v1.3h-1.3zM69.3 406.5h1.3v1.3h-1.3zM77.0 407.5h1.3v1.3h-1.3zM85.0 408.9h1.3v1.3h-1.3zM91.8 410.3h1.3v1.3h-1.3zM88.2 402.1h1.3v1.3h-1.3zM80.4 422.4h1.3v1.3h-1.3zM101.7 410.9h1.3v1.3h-1.3zM88.2 411.7h1.3v1.3h-1.3zM78.2 416.4h1.3v1.3h-1.3zM78.4 406.4h1.3v1.3h-1.3zM100.9 396.7h1.3v1.3h-1.3zM84.9 398.4h1.3v1.3h-1.3zM76.0 406.4h1.3v1.3h-1.3zM78.6 407.7h1.3v1.3h-1.3zM74.9 406.3h1.3v1.3h-1.3zM71.2 404.9h1.3v1.3h-1.3zM69.5 410.1h1.3v1.3h-1.3zM70.3 410.3h1.3v1.3h-1.3zM78.1 405.4h1.3v1.3h-1.3zM92.2 407.4h1.3v1.3h-1.3zM78.2 399.9h1.3v1.3h-1.3zM82.4 405.3h1.3v1.3h-1.3zM99.6 404.7h1.3v1.3h-1.3zM99.0 413.7h1.3v1.3h-1.3zM76.3 402.8h1.3v1.3h-1.3zM93.5 406.2h1.3v1.3h-1.3zM83.2 405.6h1.3v1.3h-1.3zM70.9 405.0h1.3v1.3h-1.3zM73.2 399.3h1.3v1.3h-1.3zM79.1 415.7h1.3v1.3h-1.3zM96.2 406.5h1.3v1.3h-1.3zM82.9 409.4h1.3v1.3h-1.3zM93.9 408.4h1.3v1.3h-1.3zM77.5 404.9h1.3v1.3h-1.3zM91.9 419.8h1.3v1.3h-1.3zM76.1 396.7h1.3v1.3h-1.3zM89.0 406.5h1.3v1.3h-1.3zM83.0 413.0h1.3v1.3h-1.3zM82.3 400.3h1.3v1.3h-1.3zM71.4 408.3h1.3v1.3h-1.3zM70.3 405.1h1.3v1.3h-1.3zM77.7 409.8h1.3v1.3h-1.3zM87.2 418.7h1.3v1.3h-1.3zM71.8 431.5h1.3v1.3h-1.3zM80.3 423.5h1.3v1.3h-1.3zM82.1 428.5h1.3v1.3h-1.3zM84.9 423.9h1.3v1.3h-1.3zM83.2 414.7h1.3v1.3h-1.3zM73.6 419.2h1.3v1.3h-1.3zM78.5 420.0h1.3v1.3h-1.3zM80.0 420.0h1.3v1.3h-1.3zM74.8 410.1h1.3v1.3h-1.3zM83.7 423.4h1.3v1.3h-1.3zM71.7 422.8h1.3v1.3h-1.3zM80.6 420.3h1.3v1.3h-1.3zM73.6 429.5h1.3v1.3h-1.3zM71.8 417.8h1.3v1.3h-1.3zM70.1 416.9h1.3v1.3h-1.3zM80.2 407.4h1.3v1.3h-1.3zM78.1 416.2h1.3v1.3h-1.3zM84.6 425.7h1.3v1.3h-1.3zM85.6 415.8h1.3v1.3h-1.3zM75.6 425.6h1.3v1.3h-1.3zM75.9 412.7h1.3v1.3h-1.3zM73.0 411.9h1.3v1.3h-1.3zM81.7 409.5h1.3v1.3h-1.3zM84.8 410.0h1.3v1.3h-1.3zM78.1 411.1h1.3v1.3h-1.3zM75.6 426.0h1.3v1.3h-1.3zM85.7 427.7h1.3v1.3h-1.3zM77.2 420.5h1.3v1.3h-1.3zM79.4 423.5h1.3v1.3h-1.3zM75.0 426.4h1.3v1.3h-1.3zM80.1 426.7h1.3v1.3h-1.3zM81.2 423.9h1.3v1.3h-1.3zM72.7 417.3h1.3v1.3h-1.3zM76.6 424.9h1.3v1.3h-1.3zM77.0 427.4h1.3v1.3h-1.3zM85.1 404.7h1.3v1.3h-1.3zM76.0 428.7h1.3v1.3h-1.3zM71.4 417.0h1.3v1.3h-1.3zM79.4 408.6h1.3v1.3h-1.3zM79.2 416.0h1.3v1.3h-1.3zM72.6 424.0h1.3v1.3h-1.3zM102.4 421.9h1.3v1.3h-1.3zM81.7 419.5h1.3v1.3h-1.3zM72.7 421.4h1.3v1.3h-1.3zM88.4 421.0h1.3v1.3h-1.3zM84.0 418.5h1.3v1.3h-1.3zM95.4 409.9h1.3v1.3h-1.3zM81.9 423.1h1.3v1.3h-1.3zM79.7 413.1h1.3v1.3h-1.3zM69.8 418.4h1.3v1.3h-1.3zM78.5 412.5h1.3v1.3h-1.3zM70.3 423.2h1.3v1.3h-1.3zM85.0 416.4h1.3v1.3h-1.3zM72.9 415.4h1.3v1.3h-1.3zM95.1 422.7h1.3v1.3h-1.3zM77.3 425.8h1.3v1.3h-1.3zM93.8 426.8h1.3v1.3h-1.3zM74.9 417.7h1.3v1.3h-1.3zM69.2 417.4h1.3v1.3h-1.3zM70.1 421.8h1.3v1.3h-1.3zM78.1 411.3h1.3v1.3h-1.3zM82.3 422.7h1.3v1.3h-1.3zM77.3 399.9h1.3v1.3h-1.3zM74.3 415.3h1.3v1.3h-1.3zM75.4 412.4h1.3v1.3h-1.3zM74.7 415.8h1.3v1.3h-1.3zM96.8 424.0h1.3v1.3h-1.3zM76.4 419.5h1.3v1.3h-1.3zM76.9 420.9h1.3v1.3h-1.3zM74.9 419.7h1.3v1.3h-1.3zM84.9 424.8h1.3v1.3h-1.3zM79.9 427.8h1.3v1.3h-1.3zM79.3 413.9h1.3v1.3h-1.3zM77.3 422.2h1.3v1.3h-1.3zM85.3 416.3h1.3v1.3h-1.3zM72.1 424.4h1.3v1.3h-1.3zM86.0 416.9h1.3v1.3h-1.3zM80.1 428.0h1.3v1.3h-1.3zM80.0 419.4h1.3v1.3h-1.3zM82.2 420.5h1.3v1.3h-1.3zM74.5 412.3h1.3v1.3h-1.3zM77.0 419.1h1.3v1.3h-1.3zM85.4 412.5h1.3v1.3h-1.3zM87.8 420.0h1.3v1.3h-1.3zM86.1 413.9h1.3v1.3h-1.3zM80.2 427.1h1.3v1.3h-1.3zM78.5 410.9h1.3v1.3h-1.3zM75.4 423.0h1.3v1.3h-1.3zM79.4 414.0h1.3v1.3h-1.3zM82.5 412.7h1.3v1.3h-1.3zM88.2 414.6h1.3v1.3h-1.3zM77.7 421.2h1.3v1.3h-1.3zM71.1 426.3h1.3v1.3h-1.3zM79.0 422.4h1.3v1.3h-1.3zM76.1 424.1h1.3v1.3h-1.3zM88.1 418.2h1.3v1.3h-1.3zM75.8 422.5h1.3v1.3h-1.3zM88.5 414.8h1.3v1.3h-1.3zM82.1 418.3h1.3v1.3h-1.3zM75.4 424.7h1.3v1.3h-1.3zM72.2 413.4h1.3v1.3h-1.3zM82.4 419.6h1.3v1.3h-1.3zM75.9 419.0h1.3v1.3h-1.3zM81.2 417.6h1.3v1.3h-1.3zM83.1 422.3h1.3v1.3h-1.3zM88.1 427.4h1.3v1.3h-1.3zM83.8 418.6h1.3v1.3h-1.3zM78.6 416.2h1.3v1.3h-1.3zM97.7 418.5h1.3v1.3h-1.3zM81.6 428.0h1.3v1.3h-1.3zM75.0 413.8h1.3v1.3h-1.3zM86.8 424.1h1.3v1.3h-1.3zM78.0 420.0h1.3v1.3h-1.3zM74.0 421.5h1.3v1.3h-1.3zM71.3 430.9h1.3v1.3h-1.3zM73.0 432.2h1.3v1.3h-1.3zM71.4 431.5h1.3v1.3h-1.3zM78.0 427.8h1.3v1.3h-1.3zM75.5 420.5h1.3v1.3h-1.3zM72.1 431.6h1.3v1.3h-1.3zM71.3 427.3h1.3v1.3h-1.3zM75.3 434.0h1.3v1.3h-1.3zM72.5 431.2h1.3v1.3h-1.3zM73.2 430.4h1.3v1.3h-1.3zM74.5 433.6h1.3v1.3h-1.3zM72.0 438.8h1.3v1.3h-1.3zM78.9 436.8h1.3v1.3h-1.3zM72.0 429.3h1.3v1.3h-1.3zM75.2 430.9h1.3v1.3h-1.3zM70.4 436.7h1.3v1.3h-1.3zM76.2 427.1h1.3v1.3h-1.3zM72.1 423.3h1.3v1.3h-1.3zM110.1 407.4h1.3v1.3h-1.3zM101.4 397.5h1.3v1.3h-1.3zM115.8 397.6h1.3v1.3h-1.3zM114.5 401.1h1.3v1.3h-1.3zM104.7 398.7h1.3v1.3h-1.3zM105.2 397.6h1.3v1.3h-1.3zM97.4 399.2h1.3v1.3h-1.3zM97.6 401.4h1.3v1.3h-1.3zM103.5 398.6h1.3v1.3h-1.3zM101.2 398.7h1.3v1.3h-1.3zM116.7 399.8h1.3v1.3h-1.3zM98.1 398.4h1.3v1.3h-1.3zM108.1 398.9h1.3v1.3h-1.3zM101.6 398.6h1.3v1.3h-1.3zM104.1 401.8h1.3v1.3h-1.3zM106.4 391.7h1.3v1.3h-1.3zM94.3 386.7h1.3v1.3h-1.3zM109.2 405.4h1.3v1.3h-1.3zM113.2 400.6h1.3v1.3h-1.3zM112.0 399.7h1.3v1.3h-1.3zM101.8 392.2h1.3v1.3h-1.3zM96.6 396.9h1.3v1.3h-1.3zM110.2 408.2h1.3v1.3h-1.3zM99.1 401.7h1.3v1.3h-1.3zM105.0 396.0h1.3v1.3h-1.3zM89.0 396.1h1.3v1.3h-1.3zM91.3 398.3h1.3v1.3h-1.3zM101.7 399.0h1.3v1.3h-1.3zM101.5 402.3h1.3v1.3h-1.3zM95.4 404.3h1.3v1.3h-1.3zM89.4 400.2h1.3v1.3h-1.3zM105.9 395.9h1.3v1.3h-1.3zM90.0 403.1h1.3v1.3h-1.3zM97.4 403.8h1.3v1.3h-1.3zM108.9 399.8h1.3v1.3h-1.3zM102.8 404.8h1.3v1.3h-1.3zM105.8 395.2h1.3v1.3h-1.3zM104.1 402.6h1.3v1.3h-1.3zM104.4 400.8h1.3v1.3h-1.3zM101.6 399.3h1.3v1.3h-1.3zM95.3 392.7h1.3v1.3h-1.3zM111.8 396.7h1.3v1.3h-1.3zM104.6 392.4h1.3v1.3h-1.3zM104.0 395.7h1.3v1.3h-1.3zM126.4 394.8h1.3v1.3h-1.3zM95.1 404.6h1.3v1.3h-1.3zM111.8 389.4h1.3v1.3h-1.3zM104.8 404.2h1.3v1.3h-1.3zM93.0 403.3h1.3v1.3h-1.3zM98.6 394.9h1.3v1.3h-1.3zM100.0 397.6h1.3v1.3h-1.3zM91.7 411.0h1.3v1.3h-1.3zM99.2 396.1h1.3v1.3h-1.3zM109.6 399.5h1.3v1.3h-1.3zM113.4 398.5h1.3v1.3h-1.3zM105.6 400.3h1.3v1.3h-1.3zM104.1 398.8h1.3v1.3h-1.3zM101.9 408.2h1.3v1.3h-1.3zM97.4 397.1h1.3v1.3h-1.3zM100.0 402.7h1.3v1.3h-1.3zM120.2 404.6h1.3v1.3h-1.3zM109.8 401.9h1.3v1.3h-1.3zM116.8 399.7h1.3v1.3h-1.3zM118.8 393.1h1.3v1.3h-1.3zM119.5 401.5h1.3v1.3h-1.3zM109.3 400.5h1.3v1.3h-1.3zM127.0 399.3h1.3v1.3h-1.3zM121.4 400.0h1.3v1.3h-1.3zM113.0 397.2h1.3v1.3h-1.3zM115.5 406.0h1.3v1.3h-1.3zM122.7 398.1h1.3v1.3h-1.3zM123.8 400.4h1.3v1.3h-1.3zM113.7 402.6h1.3v1.3h-1.3zM112.4 394.7h1.3v1.3h-1.3zM125.5 393.6h1.3v1.3h-1.3zM216.4 388.7h1.3v1.3h-1.3zM223.3 389.2h1.3v1.3h-1.3zM216.8 382.3h1.3v1.3h-1.3zM224.2 389.2h1.3v1.3h-1.3zM226.5 385.3h1.3v1.3h-1.3zM218.1 392.9h1.3v1.3h-1.3zM218.7 388.2h1.3v1.3h-1.3zM225.3 393.2h1.3v1.3h-1.3zM219.9 404.1h1.3v1.3h-1.3zM228.1 395.4h1.3v1.3h-1.3zM231.2 387.6h1.3v1.3h-1.3zM223.2 385.7h1.3v1.3h-1.3zM221.5 395.7h1.3v1.3h-1.3zM214.3 392.7h1.3v1.3h-1.3zM221.1 389.9h1.3v1.3h-1.3zM217.4 383.9h1.3v1.3h-1.3zM221.9 394.9h1.3v1.3h-1.3zM221.8 381.8h1.3v1.3h-1.3zM232.0 389.0h1.3v1.3h-1.3zM223.0 388.6h1.3v1.3h-1.3zM222.5 392.3h1.3v1.3h-1.3zM226.2 392.8h1.3v1.3h-1.3zM226.4 393.6h1.3v1.3h-1.3zM227.9 384.3h1.3v1.3h-1.3zM225.5 388.4h1.3v1.3h-1.3zM221.7 388.2h1.3v1.3h-1.3zM228.7 390.5h1.3v1.3h-1.3zM220.9 384.2h1.3v1.3h-1.3zM225.9 395.2h1.3v1.3h-1.3zM225.3 388.9h1.3v1.3h-1.3zM225.8 385.4h1.3v1.3h-1.3zM223.7 397.2h1.3v1.3h-1.3zM222.5 390.0h1.3v1.3h-1.3zM230.2 382.9h1.3v1.3h-1.3zM226.7 394.7h1.3v1.3h-1.3zM219.3 400.6h1.3v1.3h-1.3zM216.8 391.9h1.3v1.3h-1.3zM223.7 397.9h1.3v1.3h-1.3zM222.5 398.2h1.3v1.3h-1.3zM228.3 395.8h1.3v1.3h-1.3zM228.5 388.4h1.3v1.3h-1.3zM217.7 393.3h1.3v1.3h-1.3zM229.2 385.5h1.3v1.3h-1.3zM226.0 392.1h1.3v1.3h-1.3zM219.1 391.3h1.3v1.3h-1.3zM227.3 394.4h1.3v1.3h-1.3zM224.0 387.7h1.3v1.3h-1.3zM230.5 386.6h1.3v1.3h-1.3zM212.9 396.1h1.3v1.3h-1.3zM225.2 395.9h1.3v1.3h-1.3zM224.3 386.5h1.3v1.3h-1.3zM224.2 383.2h1.3v1.3h-1.3zM226.0 392.5h1.3v1.3h-1.3zM226.9 392.7h1.3v1.3h-1.3zM218.9 388.3h1.3v1.3h-1.3zM224.2 399.9h1.3v1.3h-1.3zM232.9 391.0h1.3v1.3h-1.3zM223.1 392.7h1.3v1.3h-1.3zM208.7 393.3h1.3v1.3h-1.3zM231.6 384.2h1.3v1.3h-1.3zM221.1 386.7h1.3v1.3h-1.3zM221.3 398.6h1.3v1.3h-1.3zM225.3 382.5h1.3v1.3h-1.3zM228.3 398.5h1.3v1.3h-1.3zM231.0 381.2h1.3v1.3h-1.3zM218.5 384.1h1.3v1.3h-1.3zM218.4 385.5h1.3v1.3h-1.3zM231.8 391.5h1.3v1.3h-1.3zM225.5 394.6h1.3v1.3h-1.3zM223.6 393.9h1.3v1.3h-1.3zM216.6 392.1h1.3v1.3h-1.3zM228.4 390.6h1.3v1.3h-1.3zM224.6 385.7h1.3v1.3h-1.3zM226.3 399.7h1.3v1.3h-1.3zM222.7 385.4h1.3v1.3h-1.3zM223.3 393.7h1.3v1.3h-1.3zM228.4 388.5h1.3v1.3h-1.3zM222.7 393.1h1.3v1.3h-1.3zM220.4 407.6h1.3v1.3h-1.3zM225.5 396.7h1.3v1.3h-1.3zM219.3 407.1h1.3v1.3h-1.3zM227.4 387.6h1.3v1.3h-1.3zM221.6 389.3h1.3v1.3h-1.3zM224.2 392.2h1.3v1.3h-1.3zM222.3 388.9h1.3v1.3h-1.3zM215.4 390.4h1.3v1.3h-1.3zM221.6 394.3h1.3v1.3h-1.3zM214.1 385.9h1.3v1.3h-1.3zM212.3 394.2h1.3v1.3h-1.3zM229.1 387.7h1.3v1.3h-1.3zM224.3 386.4h1.3v1.3h-1.3zM229.1 378.5h1.3v1.3h-1.3zM226.0 393.0h1.3v1.3h-1.3zM225.7 389.5h1.3v1.3h-1.3zM220.1 390.8h1.3v1.3h-1.3zM233.8 391.5h1.3v1.3h-1.3zM231.4 389.2h1.3v1.3h-1.3zM229.5 394.2h1.3v1.3h-1.3zM228.0 388.5h1.3v1.3h-1.3zM222.2 391.4h1.3v1.3h-1.3zM220.1 390.0h1.3v1.3h-1.3zM222.7 389.0h1.3v1.3h-1.3zM221.4 393.8h1.3v1.3h-1.3zM226.8 382.7h1.3v1.3h-1.3zM220.9 387.7h1.3v1.3h-1.3zM221.6 397.7h1.3v1.3h-1.3zM218.5 392.5h1.3v1.3h-1.3zM229.1 390.9h1.3v1.3h-1.3zM229.8 384.3h1.3v1.3h-1.3zM221.8 389.6h1.3v1.3h-1.3zM219.6 388.2h1.3v1.3h-1.3zM218.7 388.5h1.3v1.3h-1.3zM233.3 387.6h1.3v1.3h-1.3zM218.0 381.8h1.3v1.3h-1.3zM218.1 393.2h1.3v1.3h-1.3zM234.5 373.2h1.3v1.3h-1.3zM222.6 395.7h1.3v1.3h-1.3zM218.3 398.3h1.3v1.3h-1.3zM218.3 390.8h1.3v1.3h-1.3zM229.4 394.9h1.3v1.3h-1.3zM223.1 393.2h1.3v1.3h-1.3zM228.6 379.9h1.3v1.3h-1.3zM231.0 386.0h1.3v1.3h-1.3zM227.7 387.7h1.3v1.3h-1.3zM234.4 390.1h1.3v1.3h-1.3zM228.1 385.0h1.3v1.3h-1.3zM216.9 403.6h1.3v1.3h-1.3zM229.1 387.6h1.3v1.3h-1.3zM224.4 397.3h1.3v1.3h-1.3zM230.9 381.4h1.3v1.3h-1.3zM237.9 384.7h1.3v1.3h-1.3zM222.0 389.6h1.3v1.3h-1.3zM223.9 394.8h1.3v1.3h-1.3zM233.9 388.6h1.3v1.3h-1.3zM218.0 384.9h1.3v1.3h-1.3zM225.7 400.9h1.3v1.3h-1.3zM222.3 397.8h1.3v1.3h-1.3zM230.4 388.3h1.3v1.3h-1.3zM221.5 401.4h1.3v1.3h-1.3zM216.1 396.2h1.3v1.3h-1.3zM224.6 397.6h1.3v1.3h-1.3zM222.3 379.2h1.3v1.3h-1.3zM226.6 387.1h1.3v1.3h-1.3zM221.8 392.0h1.3v1.3h-1.3zM223.8 389.8h1.3v1.3h-1.3zM226.0 392.2h1.3v1.3h-1.3zM222.3 392.7h1.3v1.3h-1.3zM221.5 390.5h1.3v1.3h-1.3zM219.6 393.0h1.3v1.3h-1.3zM218.9 398.3h1.3v1.3h-1.3zM220.2 389.9h1.3v1.3h-1.3zM225.7 389.1h1.3v1.3h-1.3zM221.6 389.0h1.3v1.3h-1.3zM227.8 384.8h1.3v1.3h-1.3zM225.7 392.5h1.3v1.3h-1.3zM219.0 395.7h1.3v1.3h-1.3zM229.6 380.3h1.3v1.3h-1.3zM224.7 378.2h1.3v1.3h-1.3zM223.1 396.8h1.3v1.3h-1.3zM223.6 385.7h1.3v1.3h-1.3zM217.5 385.6h1.3v1.3h-1.3zM221.2 391.9h1.3v1.3h-1.3zM214.2 396.8h1.3v1.3h-1.3zM218.3 393.6h1.3v1.3h-1.3zM217.1 393.0h1.3v1.3h-1.3zM220.1 392.9h1.3v1.3h-1.3zM226.0 386.0h1.3v1.3h-1.3zM224.2 393.7h1.3v1.3h-1.3zM222.4 400.1h1.3v1.3h-1.3zM230.6 376.5h1.3v1.3h-1.3zM228.7 379.7h1.3v1.3h-1.3zM216.9 390.2h1.3v1.3h-1.3zM228.3 385.0h1.3v1.3h-1.3zM231.1 392.9h1.3v1.3h-1.3zM225.1 393.3h1.3v1.3h-1.3zM216.7 397.7h1.3v1.3h-1.3zM220.2 388.0h1.3v1.3h-1.3zM227.3 394.2h1.3v1.3h-1.3zM219.7 397.0h1.3v1.3h-1.3zM223.2 385.1h1.3v1.3h-1.3zM228.8 383.9h1.3v1.3h-1.3zM210.6 391.2h1.3v1.3h-1.3zM236.3 383.2h1.3v1.3h-1.3zM230.3 383.4h1.3v1.3h-1.3zM231.0 386.2h1.3v1.3h-1.3zM222.3 394.7h1.3v1.3h-1.3zM221.7 394.6h1.3v1.3h-1.3zM229.5 397.7h1.3v1.3h-1.3zM218.1 394.2h1.3v1.3h-1.3zM225.6 385.9h1.3v1.3h-1.3zM225.0 389.5h1.3v1.3h-1.3zM228.5 389.1h1.3v1.3h-1.3zM225.4 391.6h1.3v1.3h-1.3zM226.4 392.0h1.3v1.3h-1.3zM234.0 388.5h1.3v1.3h-1.3zM224.7 393.3h1.3v1.3h-1.3zM226.4 396.2h1.3v1.3h-1.3zM222.7 394.7h1.3v1.3h-1.3zM218.2 385.6h1.3v1.3h-1.3zM222.2 390.8h1.3v1.3h-1.3zM234.5 394.9h1.3v1.3h-1.3zM230.0 381.6h1.3v1.3h-1.3zM224.1 398.9h1.3v1.3h-1.3zM215.3 393.5h1.3v1.3h-1.3zM229.5 387.4h1.3v1.3h-1.3zM231.7 393.3h1.3v1.3h-1.3zM224.1 392.2h1.3v1.3h-1.3zM221.6 392.1h1.3v1.3h-1.3zM221.1 389.5h1.3v1.3h-1.3zM222.3 389.2h1.3v1.3h-1.3zM217.7 388.4h1.3v1.3h-1.3zM230.5 384.4h1.3v1.3h-1.3zM219.6 389.3h1.3v1.3h-1.3zM220.7 386.9h1.3v1.3h-1.3zM211.6 396.8h1.3v1.3h-1.3zM215.5 397.0h1.3v1.3h-1.3zM221.7 392.0h1.3v1.3h-1.3zM228.9 391.1h1.3v1.3h-1.3zM220.4 393.9h1.3v1.3h-1.3zM235.0 391.3h1.3v1.3h-1.3zM220.3 397.9h1.3v1.3h-1.3zM226.1 389.9h1.3v1.3h-1.3zM228.5 394.0h1.3v1.3h-1.3zM227.1 386.0h1.3v1.3h-1.3zM231.6 390.0h1.3v1.3h-1.3zM218.1 399.3h1.3v1.3h-1.3zM227.9 396.8h1.3v1.3h-1.3zM221.3 386.9h1.3v1.3h-1.3zM222.8 397.0h1.3v1.3h-1.3zM230.4 393.3h1.3v1.3h-1.3zM216.4 387.4h1.3v1.3h-1.3zM222.8 392.2h1.3v1.3h-1.3zM218.2 399.9h1.3v1.3h-1.3zM226.4 390.7h1.3v1.3h-1.3zM217.8 388.4h1.3v1.3h-1.3zM222.4 390.5h1.3v1.3h-1.3zM229.1 403.5h1.3v1.3h-1.3zM223.7 382.8h1.3v1.3h-1.3zM224.1 384.9h1.3v1.3h-1.3zM226.4 387.4h1.3v1.3h-1.3zM215.6 392.8h1.3v1.3h-1.3zM221.6 378.6h1.3v1.3h-1.3zM225.9 399.4h1.3v1.3h-1.3zM222.4 379.1h1.3v1.3h-1.3zM228.0 394.0h1.3v1.3h-1.3zM221.7 396.2h1.3v1.3h-1.3zM223.2 394.9h1.3v1.3h-1.3zM233.3 392.7h1.3v1.3h-1.3zM219.7 387.9h1.3v1.3h-1.3zM219.5 384.6h1.3v1.3h-1.3zM228.3 393.5h1.3v1.3h-1.3zM232.4 387.3h1.3v1.3h-1.3zM219.1 401.9h1.3v1.3h-1.3zM224.3 382.9h1.3v1.3h-1.3zM220.1 385.9h1.3v1.3h-1.3zM226.9 383.9h1.3v1.3h-1.3zM227.0 391.3h1.3v1.3h-1.3zM235.1 389.4h1.3v1.3h-1.3zM224.3 398.1h1.3v1.3h-1.3zM232.9 391.8h1.3v1.3h-1.3zM232.3 393.5h1.3v1.3h-1.3zM217.2 393.7h1.3v1.3h-1.3zM232.8 393.1h1.3v1.3h-1.3zM220.4 395.2h1.3v1.3h-1.3zM224.2 392.2h1.3v1.3h-1.3zM225.7 386.4h1.3v1.3h-1.3zM224.4 386.4h1.3v1.3h-1.3zM218.9 390.6h1.3v1.3h-1.3zM222.3 394.5h1.3v1.3h-1.3zM225.2 396.7h1.3v1.3h-1.3zM222.7 398.4h1.3v1.3h-1.3zM221.2 393.7h1.3v1.3h-1.3zM218.8 391.3h1.3v1.3h-1.3zM227.8 391.3h1.3v1.3h-1.3zM226.0 391.6h1.3v1.3h-1.3zM232.7 388.9h1.3v1.3h-1.3zM227.4 388.8h1.3v1.3h-1.3zM227.8 392.9h1.3v1.3h-1.3zM221.3 386.3h1.3v1.3h-1.3zM228.8 380.6h1.3v1.3h-1.3zM202.9 393.4h1.3v1.3h-1.3zM231.9 374.1h1.3v1.3h-1.3zM201.8 391.8h1.3v1.3h-1.3zM229.7 391.8h1.3v1.3h-1.3zM219.6 393.2h1.3v1.3h-1.3zM222.4 401.2h1.3v1.3h-1.3zM222.8 381.0h1.3v1.3h-1.3zM210.8 391.1h1.3v1.3h-1.3zM207.1 387.8h1.3v1.3h-1.3zM210.2 384.7h1.3v1.3h-1.3zM223.7 386.9h1.3v1.3h-1.3zM204.0 384.6h1.3v1.3h-1.3zM216.5 404.5h1.3v1.3h-1.3zM218.9 400.1h1.3v1.3h-1.3zM221.5 374.5h1.3v1.3h-1.3zM220.2 383.7h1.3v1.3h-1.3zM201.1 382.1h1.3v1.3h-1.3zM235.8 378.5h1.3v1.3h-1.3zM209.2 397.8h1.3v1.3h-1.3zM223.4 377.6h1.3v1.3h-1.3zM214.8 386.0h1.3v1.3h-1.3zM213.9 394.9h1.3v1.3h-1.3zM209.6 387.4h1.3v1.3h-1.3zM232.2 376.7h1.3v1.3h-1.3zM211.9 393.0h1.3v1.3h-1.3zM202.2 385.2h1.3v1.3h-1.3zM201.5 390.7h1.3v1.3h-1.3zM209.1 395.2h1.3v1.3h-1.3zM227.3 390.0h1.3v1.3h-1.3zM211.8 391.5h1.3v1.3h-1.3zM216.6 381.1h1.3v1.3h-1.3zM227.9 391.2h1.3v1.3h-1.3zM224.7 380.0h1.3v1.3h-1.3zM225.7 404.5h1.3v1.3h-1.3zM222.8 379.4h1.3v1.3h-1.3zM216.4 389.2h1.3v1.3h-1.3zM218.4 388.0h1.3v1.3h-1.3zM221.5 386.3h1.3v1.3h-1.3zM218.5 384.8h1.3v1.3h-1.3zM217.1 396.6h1.3v1.3h-1.3zM210.5 394.3h1.3v1.3h-1.3zM206.1 387.0h1.3v1.3h-1.3zM213.3 398.4h1.3v1.3h-1.3zM207.5 398.2h1.3v1.3h-1.3zM199.7 388.5h1.3v1.3h-1.3zM226.1 394.5h1.3v1.3h-1.3zM204.7 381.0h1.3v1.3h-1.3zM225.7 380.7h1.3v1.3h-1.3zM222.4 385.9h1.3v1.3h-1.3zM215.8 406.0h1.3v1.3h-1.3zM233.2 395.5h1.3v1.3h-1.3zM200.6 391.9h1.3v1.3h-1.3zM216.5 388.9h1.3v1.3h-1.3zM230.8 377.4h1.3v1.3h-1.3zM219.5 390.5h1.3v1.3h-1.3zM207.6 401.8h1.3v1.3h-1.3zM201.8 389.8h1.3v1.3h-1.3zM216.8 374.1h1.3v1.3h-1.3zM200.0 382.7h1.3v1.3h-1.3zM224.7 396.3h1.3v1.3h-1.3zM222.5 391.3h1.3v1.3h-1.3zM191.4 391.1h1.3v1.3h-1.3zM210.2 397.9h1.3v1.3h-1.3zM230.9 405.4h1.3v1.3h-1.3zM223.8 395.3h1.3v1.3h-1.3zM204.4 390.1h1.3v1.3h-1.3zM202.1 395.9h1.3v1.3h-1.3zM202.6 388.0h1.3v1.3h-1.3zM206.7 386.2h1.3v1.3h-1.3zM221.0 385.5h1.3v1.3h-1.3zM218.3 382.4h1.3v1.3h-1.3zM231.4 385.0h1.3v1.3h-1.3zM227.1 404.7h1.3v1.3h-1.3zM188.7 382.5h1.3v1.3h-1.3zM213.5 397.8h1.3v1.3h-1.3zM210.4 392.2h1.3v1.3h-1.3zM207.7 393.5h1.3v1.3h-1.3zM202.3 395.5h1.3v1.3h-1.3zM236.1 390.7h1.3v1.3h-1.3zM205.8 405.2h1.3v1.3h-1.3zM227.6 397.5h1.3v1.3h-1.3zM211.1 393.9h1.3v1.3h-1.3zM221.5 377.7h1.3v1.3h-1.3zM222.4 388.2h1.3v1.3h-1.3zM230.2 398.8h1.3v1.3h-1.3zM208.6 385.2h1.3v1.3h-1.3zM217.9 394.2h1.3v1.3h-1.3zM211.2 388.7h1.3v1.3h-1.3zM222.6 392.5h1.3v1.3h-1.3zM228.8 391.2h1.3v1.3h-1.3zM205.8 376.9h1.3v1.3h-1.3zM224.9 387.1h1.3v1.3h-1.3zM211.9 387.4h1.3v1.3h-1.3zM198.1 386.7h1.3v1.3h-1.3zM186.5 386.6h1.3v1.3h-1.3zM205.7 402.6h1.3v1.3h-1.3zM220.8 387.9h1.3v1.3h-1.3zM217.6 394.7h1.3v1.3h-1.3zM207.2 387.8h1.3v1.3h-1.3zM211.7 407.3h1.3v1.3h-1.3zM216.6 375.4h1.3v1.3h-1.3zM224.7 408.0h1.3v1.3h-1.3zM204.9 414.4h1.3v1.3h-1.3zM215.0 396.6h1.3v1.3h-1.3zM209.4 387.5h1.3v1.3h-1.3zM201.8 381.9h1.3v1.3h-1.3zM191.5 397.7h1.3v1.3h-1.3zM202.7 392.1h1.3v1.3h-1.3zM219.4 384.8h1.3v1.3h-1.3zM216.2 388.8h1.3v1.3h-1.3zM210.1 389.8h1.3v1.3h-1.3zM216.3 382.1h1.3v1.3h-1.3zM201.0 383.3h1.3v1.3h-1.3zM217.1 399.4h1.3v1.3h-1.3zM232.3 391.7h1.3v1.3h-1.3zM226.4 390.3h1.3v1.3h-1.3zM228.2 390.3h1.3v1.3h-1.3zM220.1 387.4h1.3v1.3h-1.3zM215.6 403.1h1.3v1.3h-1.3zM202.1 389.4h1.3v1.3h-1.3zM208.9 396.3h1.3v1.3h-1.3zM236.3 387.2h1.3v1.3h-1.3zM184.2 393.9h1.3v1.3h-1.3zM222.6 377.2h1.3v1.3h-1.3zM212.9 388.9h1.3v1.3h-1.3zM189.3 394.3h1.3v1.3h-1.3zM220.6 391.1h1.3v1.3h-1.3zM203.5 384.2h1.3v1.3h-1.3zM208.4 392.9h1.3v1.3h-1.3zM204.4 400.0h1.3v1.3h-1.3zM219.9 373.6h1.3v1.3h-1.3zM234.8 390.5h1.3v1.3h-1.3zM209.3 390.1h1.3v1.3h-1.3zM194.8 390.7h1.3v1.3h-1.3zM187.5 381.9h1.3v1.3h-1.3zM231.0 398.5h1.3v1.3h-1.3zM211.7 382.3h1.3v1.3h-1.3zM226.2 389.0h1.3v1.3h-1.3zM218.0 393.9h1.3v1.3h-1.3zM203.2 395.1h1.3v1.3h-1.3zM191.3 400.0h1.3v1.3h-1.3zM197.6 384.8h1.3v1.3h-1.3zM207.9 394.6h1.3v1.3h-1.3zM224.0 391.9h1.3v1.3h-1.3zM221.7 392.7h1.3v1.3h-1.3zM214.6 375.4h1.3v1.3h-1.3zM189.1 372.5h1.3v1.3h-1.3zM214.9 387.6h1.3v1.3h-1.3zM213.9 390.9h1.3v1.3h-1.3zM212.7 382.0h1.3v1.3h-1.3zM198.2 375.4h1.3v1.3h-1.3zM229.4 395.9h1.3v1.3h-1.3zM199.9 387.3h1.3v1.3h-1.3zM220.5 400.9h1.3v1.3h-1.3zM208.5 390.5h1.3v1.3h-1.3zM228.7 376.6h1.3v1.3h-1.3zM207.0 389.0h1.3v1.3h-1.3zM207.1 404.7h1.3v1.3h-1.3zM225.3 390.7h1.3v1.3h-1.3zM204.3 395.6h1.3v1.3h-1.3zM222.6 385.5h1.3v1.3h-1.3zM210.4 378.5h1.3v1.3h-1.3zM214.5 395.6h1.3v1.3h-1.3zM226.8 393.5h1.3v1.3h-1.3zM224.8 384.9h1.3v1.3h-1.3zM209.9 398.0h1.3v1.3h-1.3zM220.5 383.4h1.3v1.3h-1.3zM221.1 395.3h1.3v1.3h-1.3zM223.4 390.0h1.3v1.3h-1.3zM209.4 392.1h1.3v1.3h-1.3zM234.8 390.3h1.3v1.3h-1.3zM207.6 391.7h1.3v1.3h-1.3zM201.2 390.9h1.3v1.3h-1.3zM211.9 396.2h1.3v1.3h-1.3zM216.5 396.8h1.3v1.3h-1.3zM241.7 387.6h1.3v1.3h-1.3zM205.7 392.5h1.3v1.3h-1.3zM214.3 390.2h1.3v1.3h-1.3zM208.4 393.2h1.3v1.3h-1.3zM216.1 373.4h1.3v1.3h-1.3zM212.6 391.6h1.3v1.3h-1.3zM228.8 385.0h1.3v1.3h-1.3zM206.1 397.5h1.3v1.3h-1.3zM208.3 389.9h1.3v1.3h-1.3zM220.7 394.5h1.3v1.3h-1.3zM215.3 381.1h1.3v1.3h-1.3zM226.8 386.0h1.3v1.3h-1.3zM209.3 403.8h1.3v1.3h-1.3zM225.3 381.4h1.3v1.3h-1.3zM209.7 387.4h1.3v1.3h-1.3zM206.7 375.2h1.3v1.3h-1.3zM224.4 394.8h1.3v1.3h-1.3zM218.0 386.2h1.3v1.3h-1.3zM217.7 393.8h1.3v1.3h-1.3zM203.3 386.7h1.3v1.3h-1.3zM208.8 394.2h1.3v1.3h-1.3zM218.2 379.7h1.3v1.3h-1.3zM208.2 402.0h1.3v1.3h-1.3zM204.1 390.2h1.3v1.3h-1.3zM208.0 398.2h1.3v1.3h-1.3zM214.5 386.0h1.3v1.3h-1.3zM201.8 387.3h1.3v1.3h-1.3zM224.6 394.0h1.3v1.3h-1.3zM200.1 400.4h1.3v1.3h-1.3zM212.4 381.5h1.3v1.3h-1.3zM216.6 384.6h1.3v1.3h-1.3zM208.6 384.5h1.3v1.3h-1.3zM214.1 385.5h1.3v1.3h-1.3zM195.7 392.9h1.3v1.3h-1.3zM209.2 397.8h1.3v1.3h-1.3zM221.2 393.6h1.3v1.3h-1.3zM217.2 398.5h1.3v1.3h-1.3zM211.4 381.9h1.3v1.3h-1.3zM219.1 369.4h1.3v1.3h-1.3zM210.9 390.6h1.3v1.3h-1.3zM210.4 398.2h1.3v1.3h-1.3zM223.1 389.9h1.3v1.3h-1.3zM210.6 397.0h1.3v1.3h-1.3zM207.4 386.1h1.3v1.3h-1.3zM243.7 388.1h1.3v1.3h-1.3zM251.7 383.9h1.3v1.3h-1.3zM227.4 388.5h1.3v1.3h-1.3zM246.8 384.2h1.3v1.3h-1.3zM248.7 394.2h1.3v1.3h-1.3zM234.9 382.6h1.3v1.3h-1.3zM231.3 387.8h1.3v1.3h-1.3zM243.5 388.2h1.3v1.3h-1.3zM231.4 381.1h1.3v1.3h-1.3zM230.2 376.7h1.3v1.3h-1.3zM230.7 376.9h1.3v1.3h-1.3zM237.9 387.2h1.3v1.3h-1.3zM242.9 384.9h1.3v1.3h-1.3zM234.9 385.0h1.3v1.3h-1.3zM242.5 383.5h1.3v1.3h-1.3zM239.3 383.4h1.3v1.3h-1.3zM235.8 385.2h1.3v1.3h-1.3zM232.1 390.4h1.3v1.3h-1.3zM229.3 387.4h1.3v1.3h-1.3zM230.6 392.8h1.3v1.3h-1.3zM244.4 380.8h1.3v1.3h-1.3zM236.2 379.2h1.3v1.3h-1.3zM238.6 387.1h1.3v1.3h-1.3zM254.8 378.0h1.3v1.3h-1.3zM246.7 382.0h1.3v1.3h-1.3zM240.7 389.5h1.3v1.3h-1.3zM242.4 387.2h1.3v1.3h-1.3zM237.8 385.0h1.3v1.3h-1.3zM220.8 402.7h1.3v1.3h-1.3zM212.4 397.5h1.3v1.3h-1.3zM213.6 396.0h1.3v1.3h-1.3zM215.9 402.4h1.3v1.3h-1.3zM231.0 403.2h1.3v1.3h-1.3zM213.9 399.2h1.3v1.3h-1.3zM214.2 400.4h1.3v1.3h-1.3zM226.5 400.8h1.3v1.3h-1.3zM224.5 398.5h1.3v1.3h-1.3zM209.9 392.9h1.3v1.3h-1.3zM219.5 400.8h1.3v1.3h-1.3zM226.5 397.9h1.3v1.3h-1.3zM220.4 399.8h1.3v1.3h-1.3zM225.5 398.8h1.3v1.3h-1.3zM214.4 402.3h1.3v1.3h-1.3zM222.1 400.2h1.3v1.3h-1.3zM213.5 399.0h1.3v1.3h-1.3zM211.2 392.8h1.3v1.3h-1.3zM218.8 397.7h1.3v1.3h-1.3zM222.9 403.4h1.3v1.3h-1.3zM219.8 404.5h1.3v1.3h-1.3zM217.0 401.3h1.3v1.3h-1.3zM213.5 399.4h1.3v1.3h-1.3zM218.4 398.4h1.3v1.3h-1.3zM223.0 393.2h1.3v1.3h-1.3zM220.6 396.5h1.3v1.3h-1.3zM220.6 400.2h1.3v1.3h-1.3zM218.1 397.9h1.3v1.3h-1.3zM214.1 400.7h1.3v1.3h-1.3zM216.5 400.4h1.3v1.3h-1.3zM187.4 419.0h1.3v1.3h-1.3zM192.4 417.9h1.3v1.3h-1.3zM199.5 414.8h1.3v1.3h-1.3zM203.2 415.5h1.3v1.3h-1.3zM205.1 418.5h1.3v1.3h-1.3zM213.3 415.5h1.3v1.3h-1.3zM225.6 408.4h1.3v1.3h-1.3zM221.0 412.4h1.3v1.3h-1.3zM186.8 414.5h1.3v1.3h-1.3zM202.5 420.7h1.3v1.3h-1.3zM198.9 412.3h1.3v1.3h-1.3zM207.9 402.2h1.3v1.3h-1.3zM211.3 406.9h1.3v1.3h-1.3zM222.3 420.5h1.3v1.3h-1.3zM204.9 403.9h1.3v1.3h-1.3zM207.2 412.9h1.3v1.3h-1.3zM213.9 410.5h1.3v1.3h-1.3zM190.3 411.3h1.3v1.3h-1.3zM193.6 421.1h1.3v1.3h-1.3zM196.3 408.7h1.3v1.3h-1.3zM204.4 405.6h1.3v1.3h-1.3zM199.5 411.3h1.3v1.3h-1.3zM199.0 410.7h1.3v1.3h-1.3zM220.3 414.2h1.3v1.3h-1.3zM188.5 409.8h1.3v1.3h-1.3zM214.2 408.7h1.3v1.3h-1.3zM206.0 411.9h1.3v1.3h-1.3zM211.5 411.1h1.3v1.3h-1.3zM347.6 378.0h1.3v1.3h-1.3zM345.2 380.9h1.3v1.3h-1.3zM342.2 391.7h1.3v1.3h-1.3zM353.7 381.6h1.3v1.3h-1.3zM350.7 380.7h1.3v1.3h-1.3zM347.7 378.9h1.3v1.3h-1.3zM351.7 373.6h1.3v1.3h-1.3zM342.8 386.4h1.3v1.3h-1.3zM350.2 377.4h1.3v1.3h-1.3zM353.8 390.3h1.3v1.3h-1.3zM356.0 376.7h1.3v1.3h-1.3zM348.4 381.0h1.3v1.3h-1.3zM343.3 380.9h1.3v1.3h-1.3zM347.1 386.7h1.3v1.3h-1.3zM360.0 378.8h1.3v1.3h-1.3zM350.3 389.1h1.3v1.3h-1.3zM355.5 371.3h1.3v1.3h-1.3zM354.5 379.3h1.3v1.3h-1.3zM337.4 384.6h1.3v1.3h-1.3zM349.5 380.8h1.3v1.3h-1.3zM345.4 387.1h1.3v1.3h-1.3zM355.0 372.7h1.3v1.3h-1.3zM351.9 372.7h1.3v1.3h-1.3zM348.1 380.1h1.3v1.3h-1.3zM343.5 378.9h1.3v1.3h-1.3zM344.1 398.4h1.3v1.3h-1.3zM342.3 382.2h1.3v1.3h-1.3zM356.6 365.5h1.3v1.3h-1.3zM358.8 385.1h1.3v1.3h-1.3zM342.4 387.7h1.3v1.3h-1.3zM348.9 391.5h1.3v1.3h-1.3zM354.1 384.1h1.3v1.3h-1.3zM346.3 381.4h1.3v1.3h-1.3zM354.8 373.5h1.3v1.3h-1.3zM340.9 383.8h1.3v1.3h-1.3zM359.0 372.4h1.3v1.3h-1.3zM368.4 368.8h1.3v1.3h-1.3zM354.5 380.1h1.3v1.3h-1.3zM336.7 388.8h1.3v1.3h-1.3zM362.4 380.1h1.3v1.3h-1.3zM350.8 378.9h1.3v1.3h-1.3zM352.7 385.0h1.3v1.3h-1.3zM344.5 389.4h1.3v1.3h-1.3zM351.4 378.8h1.3v1.3h-1.3zM353.2 386.1h1.3v1.3h-1.3zM355.7 386.4h1.3v1.3h-1.3zM355.6 377.0h1.3v1.3h-1.3zM346.7 395.0h1.3v1.3h-1.3zM345.5 380.9h1.3v1.3h-1.3zM352.6 376.2h1.3v1.3h-1.3zM347.8 382.3h1.3v1.3h-1.3zM353.9 370.2h1.3v1.3h-1.3zM350.6 386.3h1.3v1.3h-1.3zM354.9 371.5h1.3v1.3h-1.3zM355.5 369.3h1.3v1.3h-1.3zM334.5 403.0h1.3v1.3h-1.3zM349.5 377.4h1.3v1.3h-1.3zM348.9 368.9h1.3v1.3h-1.3zM349.2 380.1h1.3v1.3h-1.3zM337.8 386.0h1.3v1.3h-1.3zM352.7 387.0h1.3v1.3h-1.3zM361.0 370.6h1.3v1.3h-1.3zM358.9 372.4h1.3v1.3h-1.3zM343.4 390.1h1.3v1.3h-1.3zM346.3 381.0h1.3v1.3h-1.3zM352.6 385.6h1.3v1.3h-1.3zM350.3 379.5h1.3v1.3h-1.3zM351.1 385.5h1.3v1.3h-1.3zM357.5 371.1h1.3v1.3h-1.3zM354.8 378.0h1.3v1.3h-1.3zM346.5 388.2h1.3v1.3h-1.3zM340.8 386.5h1.3v1.3h-1.3zM348.4 376.0h1.3v1.3h-1.3zM350.1 381.6h1.3v1.3h-1.3zM346.7 376.8h1.3v1.3h-1.3zM348.8 379.4h1.3v1.3h-1.3zM346.4 384.1h1.3v1.3h-1.3zM345.6 388.8h1.3v1.3h-1.3zM357.6 369.1h1.3v1.3h-1.3zM359.7 374.6h1.3v1.3h-1.3zM343.5 389.8h1.3v1.3h-1.3zM343.0 380.1h1.3v1.3h-1.3zM358.0 365.8h1.3v1.3h-1.3zM345.9 375.7h1.3v1.3h-1.3zM350.7 382.4h1.3v1.3h-1.3zM352.5 388.8h1.3v1.3h-1.3zM345.1 385.1h1.3v1.3h-1.3zM351.6 383.2h1.3v1.3h-1.3zM359.2 377.9h1.3v1.3h-1.3zM345.2 386.0h1.3v1.3h-1.3zM366.0 386.6h1.3v1.3h-1.3zM349.5 388.5h1.3v1.3h-1.3zM345.4 394.6h1.3v1.3h-1.3zM351.5 384.1h1.3v1.3h-1.3zM356.5 377.2h1.3v1.3h-1.3zM358.3 372.6h1.3v1.3h-1.3zM342.1 380.6h1.3v1.3h-1.3zM337.5 390.0h1.3v1.3h-1.3zM343.5 386.2h1.3v1.3h-1.3zM346.3 381.3h1.3v1.3h-1.3zM342.5 399.0h1.3v1.3h-1.3zM344.7 394.2h1.3v1.3h-1.3zM347.4 385.8h1.3v1.3h-1.3zM353.2 381.2h1.3v1.3h-1.3zM348.7 381.7h1.3v1.3h-1.3zM355.0 371.9h1.3v1.3h-1.3zM345.7 383.7h1.3v1.3h-1.3zM347.9 383.0h1.3v1.3h-1.3zM351.4 372.6h1.3v1.3h-1.3zM352.3 375.9h1.3v1.3h-1.3zM355.0 382.4h1.3v1.3h-1.3zM347.7 369.4h1.3v1.3h-1.3zM345.4 384.3h1.3v1.3h-1.3zM359.4 386.8h1.3v1.3h-1.3zM345.5 391.7h1.3v1.3h-1.3zM346.2 387.4h1.3v1.3h-1.3zM343.6 385.6h1.3v1.3h-1.3zM351.5 375.7h1.3v1.3h-1.3zM348.4 394.9h1.3v1.3h-1.3zM356.7 380.4h1.3v1.3h-1.3zM354.4 382.9h1.3v1.3h-1.3zM354.7 381.7h1.3v1.3h-1.3zM349.5 379.9h1.3v1.3h-1.3zM350.6 381.5h1.3v1.3h-1.3zM347.8 374.3h1.3v1.3h-1.3zM341.1 390.8h1.3v1.3h-1.3zM350.2 364.4h1.3v1.3h-1.3zM360.3 362.4h1.3v1.3h-1.3zM338.2 385.6h1.3v1.3h-1.3zM345.0 374.7h1.3v1.3h-1.3zM346.3 389.0h1.3v1.3h-1.3zM353.2 386.7h1.3v1.3h-1.3zM346.2 394.1h1.3v1.3h-1.3zM347.9 374.4h1.3v1.3h-1.3zM348.5 370.5h1.3v1.3h-1.3zM341.3 392.0h1.3v1.3h-1.3zM350.1 382.6h1.3v1.3h-1.3zM339.0 392.4h1.3v1.3h-1.3zM345.8 389.4h1.3v1.3h-1.3zM344.0 375.6h1.3v1.3h-1.3zM343.3 385.2h1.3v1.3h-1.3zM352.8 379.1h1.3v1.3h-1.3zM353.5 384.8h1.3v1.3h-1.3zM353.5 377.6h1.3v1.3h-1.3zM348.8 383.1h1.3v1.3h-1.3zM346.0 384.9h1.3v1.3h-1.3zM342.1 387.1h1.3v1.3h-1.3zM356.2 372.3h1.3v1.3h-1.3zM342.9 387.4h1.3v1.3h-1.3zM351.6 376.6h1.3v1.3h-1.3zM348.6 381.9h1.3v1.3h-1.3zM342.6 379.0h1.3v1.3h-1.3zM345.3 392.1h1.3v1.3h-1.3zM358.6 379.5h1.3v1.3h-1.3zM353.1 387.8h1.3v1.3h-1.3zM361.0 378.2h1.3v1.3h-1.3zM342.6 376.5h1.3v1.3h-1.3zM345.5 385.3h1.3v1.3h-1.3zM353.7 374.5h1.3v1.3h-1.3zM360.7 370.8h1.3v1.3h-1.3zM350.0 379.3h1.3v1.3h-1.3zM343.8 390.2h1.3v1.3h-1.3zM349.6 374.9h1.3v1.3h-1.3zM353.9 383.7h1.3v1.3h-1.3zM348.9 375.1h1.3v1.3h-1.3zM346.0 387.2h1.3v1.3h-1.3zM357.3 386.4h1.3v1.3h-1.3zM356.1 374.3h1.3v1.3h-1.3zM356.8 369.6h1.3v1.3h-1.3zM351.3 387.8h1.3v1.3h-1.3zM358.5 375.6h1.3v1.3h-1.3zM346.0 385.9h1.3v1.3h-1.3zM339.0 396.6h1.3v1.3h-1.3zM355.4 377.0h1.3v1.3h-1.3zM363.7 373.7h1.3v1.3h-1.3zM344.2 386.5h1.3v1.3h-1.3zM349.1 386.5h1.3v1.3h-1.3zM339.2 391.8h1.3v1.3h-1.3zM348.6 368.2h1.3v1.3h-1.3zM345.8 375.6h1.3v1.3h-1.3zM352.2 381.3h1.3v1.3h-1.3zM348.6 376.2h1.3v1.3h-1.3zM343.9 388.2h1.3v1.3h-1.3zM352.2 385.2h1.3v1.3h-1.3zM352.6 370.9h1.3v1.3h-1.3zM338.3 396.5h1.3v1.3h-1.3zM353.7 374.2h1.3v1.3h-1.3zM348.2 374.7h1.3v1.3h-1.3zM351.7 378.8h1.3v1.3h-1.3zM351.9 382.6h1.3v1.3h-1.3zM352.5 366.8h1.3v1.3h-1.3zM344.9 385.1h1.3v1.3h-1.3zM345.6 389.7h1.3v1.3h-1.3zM358.1 373.9h1.3v1.3h-1.3zM355.4 375.7h1.3v1.3h-1.3zM351.8 394.3h1.3v1.3h-1.3zM352.7 382.7h1.3v1.3h-1.3zM351.4 385.2h1.3v1.3h-1.3zM360.0 364.6h1.3v1.3h-1.3zM350.3 384.3h1.3v1.3h-1.3zM356.2 378.7h1.3v1.3h-1.3zM345.3 388.4h1.3v1.3h-1.3zM349.7 379.0h1.3v1.3h-1.3zM353.4 385.2h1.3v1.3h-1.3zM341.6 389.5h1.3v1.3h-1.3zM351.3 373.6h1.3v1.3h-1.3zM346.3 388.0h1.3v1.3h-1.3zM350.3 384.4h1.3v1.3h-1.3zM347.9 383.4h1.3v1.3h-1.3zM352.4 373.4h1.3v1.3h-1.3zM350.8 383.1h1.3v1.3h-1.3zM350.2 378.0h1.3v1.3h-1.3zM342.3 388.6h1.3v1.3h-1.3zM347.9 381.9h1.3v1.3h-1.3zM348.5 372.3h1.3v1.3h-1.3zM349.5 376.0h1.3v1.3h-1.3zM342.2 383.7h1.3v1.3h-1.3zM354.1 380.4h1.3v1.3h-1.3zM352.2 381.9h1.3v1.3h-1.3zM340.5 382.4h1.3v1.3h-1.3zM348.5 376.4h1.3v1.3h-1.3zM343.6 389.4h1.3v1.3h-1.3zM353.6 388.6h1.3v1.3h-1.3zM351.8 379.3h1.3v1.3h-1.3zM347.2 383.2h1.3v1.3h-1.3zM347.2 391.1h1.3v1.3h-1.3zM345.7 387.6h1.3v1.3h-1.3zM350.3 378.4h1.3v1.3h-1.3zM345.9 375.0h1.3v1.3h-1.3zM351.2 385.6h1.3v1.3h-1.3zM348.3 380.1h1.3v1.3h-1.3zM350.6 382.1h1.3v1.3h-1.3zM354.7 387.8h1.3v1.3h-1.3zM355.0 377.0h1.3v1.3h-1.3zM347.2 385.8h1.3v1.3h-1.3zM347.5 377.4h1.3v1.3h-1.3zM355.0 379.4h1.3v1.3h-1.3zM341.3 388.6h1.3v1.3h-1.3zM349.7 385.5h1.3v1.3h-1.3zM346.4 388.1h1.3v1.3h-1.3zM351.1 386.2h1.3v1.3h-1.3zM355.2 374.3h1.3v1.3h-1.3zM351.0 365.7h1.3v1.3h-1.3zM348.3 372.5h1.3v1.3h-1.3zM351.1 386.9h1.3v1.3h-1.3zM350.8 379.1h1.3v1.3h-1.3zM350.1 379.2h1.3v1.3h-1.3zM350.6 383.0h1.3v1.3h-1.3zM349.3 376.6h1.3v1.3h-1.3zM355.0 380.1h1.3v1.3h-1.3zM356.8 382.3h1.3v1.3h-1.3zM355.7 383.2h1.3v1.3h-1.3zM352.8 372.3h1.3v1.3h-1.3zM349.5 385.4h1.3v1.3h-1.3zM357.6 385.4h1.3v1.3h-1.3zM350.6 382.4h1.3v1.3h-1.3zM358.1 381.9h1.3v1.3h-1.3zM347.6 387.5h1.3v1.3h-1.3zM358.4 372.2h1.3v1.3h-1.3zM353.3 379.4h1.3v1.3h-1.3zM343.4 385.0h1.3v1.3h-1.3zM352.0 384.8h1.3v1.3h-1.3zM348.1 381.5h1.3v1.3h-1.3zM352.3 373.2h1.3v1.3h-1.3zM358.9 376.0h1.3v1.3h-1.3zM345.4 378.9h1.3v1.3h-1.3zM345.6 378.1h1.3v1.3h-1.3zM368.4 364.3h1.3v1.3h-1.3zM339.9 384.8h1.3v1.3h-1.3zM353.8 377.4h1.3v1.3h-1.3zM348.7 376.9h1.3v1.3h-1.3zM351.4 377.6h1.3v1.3h-1.3zM353.1 378.4h1.3v1.3h-1.3zM348.4 378.0h1.3v1.3h-1.3zM344.2 377.3h1.3v1.3h-1.3zM337.8 385.7h1.3v1.3h-1.3zM351.5 381.6h1.3v1.3h-1.3zM349.1 384.4h1.3v1.3h-1.3zM340.7 386.1h1.3v1.3h-1.3zM350.8 381.2h1.3v1.3h-1.3zM350.1 376.8h1.3v1.3h-1.3zM342.0 387.3h1.3v1.3h-1.3zM351.1 377.7h1.3v1.3h-1.3zM351.4 380.3h1.3v1.3h-1.3zM352.1 380.9h1.3v1.3h-1.3zM351.0 383.2h1.3v1.3h-1.3zM341.2 387.4h1.3v1.3h-1.3zM341.3 390.1h1.3v1.3h-1.3zM347.6 385.6h1.3v1.3h-1.3zM344.6 374.7h1.3v1.3h-1.3zM340.4 389.1h1.3v1.3h-1.3zM357.0 379.1h1.3v1.3h-1.3zM356.1 386.3h1.3v1.3h-1.3zM345.1 393.0h1.3v1.3h-1.3zM351.5 384.6h1.3v1.3h-1.3zM356.2 373.7h1.3v1.3h-1.3zM347.7 380.9h1.3v1.3h-1.3zM344.0 379.2h1.3v1.3h-1.3zM350.4 389.7h1.3v1.3h-1.3zM356.1 373.8h1.3v1.3h-1.3zM344.7 391.5h1.3v1.3h-1.3zM351.1 372.6h1.3v1.3h-1.3zM352.5 390.7h1.3v1.3h-1.3zM354.8 374.8h1.3v1.3h-1.3zM352.4 375.8h1.3v1.3h-1.3zM348.5 382.9h1.3v1.3h-1.3zM360.0 382.2h1.3v1.3h-1.3zM350.1 379.8h1.3v1.3h-1.3zM345.2 387.8h1.3v1.3h-1.3zM354.0 382.3h1.3v1.3h-1.3zM356.9 376.8h1.3v1.3h-1.3zM347.8 388.9h1.3v1.3h-1.3zM350.7 380.1h1.3v1.3h-1.3zM356.9 370.6h1.3v1.3h-1.3zM351.7 385.0h1.3v1.3h-1.3zM348.1 381.1h1.3v1.3h-1.3zM353.4 376.0h1.3v1.3h-1.3zM353.5 384.9h1.3v1.3h-1.3zM348.3 380.0h1.3v1.3h-1.3zM348.8 379.4h1.3v1.3h-1.3zM343.6 374.4h1.3v1.3h-1.3zM352.8 368.8h1.3v1.3h-1.3zM347.7 383.7h1.3v1.3h-1.3zM353.2 384.8h1.3v1.3h-1.3zM358.3 377.7h1.3v1.3h-1.3zM345.9 381.7h1.3v1.3h-1.3zM338.8 386.6h1.3v1.3h-1.3zM354.1 373.9h1.3v1.3h-1.3zM347.6 383.1h1.3v1.3h-1.3zM358.1 367.7h1.3v1.3h-1.3zM358.9 386.8h1.3v1.3h-1.3zM344.5 389.6h1.3v1.3h-1.3zM355.8 375.5h1.3v1.3h-1.3zM355.7 374.7h1.3v1.3h-1.3zM347.1 382.4h1.3v1.3h-1.3zM347.8 381.8h1.3v1.3h-1.3zM357.6 381.4h1.3v1.3h-1.3zM346.5 383.9h1.3v1.3h-1.3zM353.9 377.0h1.3v1.3h-1.3zM350.4 386.6h1.3v1.3h-1.3zM336.7 392.4h1.3v1.3h-1.3zM366.0 384.8h1.3v1.3h-1.3zM340.9 392.4h1.3v1.3h-1.3zM331.5 381.6h1.3v1.3h-1.3zM350.7 376.3h1.3v1.3h-1.3zM333.9 382.3h1.3v1.3h-1.3zM356.9 387.0h1.3v1.3h-1.3zM341.6 383.1h1.3v1.3h-1.3zM327.0 385.7h1.3v1.3h-1.3zM343.9 382.7h1.3v1.3h-1.3zM343.3 382.8h1.3v1.3h-1.3zM357.4 377.2h1.3v1.3h-1.3zM362.9 376.0h1.3v1.3h-1.3zM354.9 383.9h1.3v1.3h-1.3zM350.9 375.0h1.3v1.3h-1.3zM349.3 389.9h1.3v1.3h-1.3zM368.6 369.3h1.3v1.3h-1.3zM338.4 377.6h1.3v1.3h-1.3zM359.2 379.1h1.3v1.3h-1.3zM354.5 372.9h1.3v1.3h-1.3zM329.9 386.6h1.3v1.3h-1.3zM349.3 364.1h1.3v1.3h-1.3zM355.0 368.3h1.3v1.3h-1.3zM337.0 397.6h1.3v1.3h-1.3zM367.2 383.6h1.3v1.3h-1.3zM341.2 384.8h1.3v1.3h-1.3zM342.7 387.9h1.3v1.3h-1.3zM350.2 367.5h1.3v1.3h-1.3zM357.4 375.6h1.3v1.3h-1.3zM349.8 375.2h1.3v1.3h-1.3zM336.4 381.5h1.3v1.3h-1.3zM339.1 384.0h1.3v1.3h-1.3zM344.2 376.0h1.3v1.3h-1.3zM346.4 377.0h1.3v1.3h-1.3zM365.1 370.5h1.3v1.3h-1.3zM352.2 385.0h1.3v1.3h-1.3zM343.0 377.6h1.3v1.3h-1.3zM346.4 364.7h1.3v1.3h-1.3zM363.6 381.0h1.3v1.3h-1.3zM337.4 394.1h1.3v1.3h-1.3zM348.1 385.9h1.3v1.3h-1.3zM338.7 375.1h1.3v1.3h-1.3zM361.0 381.9h1.3v1.3h-1.3zM338.8 389.4h1.3v1.3h-1.3zM350.6 377.2h1.3v1.3h-1.3zM350.9 373.1h1.3v1.3h-1.3zM367.4 370.3h1.3v1.3h-1.3zM352.5 377.3h1.3v1.3h-1.3zM335.0 394.4h1.3v1.3h-1.3zM357.4 379.8h1.3v1.3h-1.3zM366.4 377.4h1.3v1.3h-1.3zM345.9 381.7h1.3v1.3h-1.3zM348.5 392.0h1.3v1.3h-1.3zM350.0 373.2h1.3v1.3h-1.3zM329.3 393.9h1.3v1.3h-1.3zM332.8 386.6h1.3v1.3h-1.3zM343.3 380.0h1.3v1.3h-1.3zM342.2 383.5h1.3v1.3h-1.3zM360.4 385.0h1.3v1.3h-1.3zM339.1 372.7h1.3v1.3h-1.3zM348.1 374.9h1.3v1.3h-1.3zM358.4 370.7h1.3v1.3h-1.3zM353.5 378.3h1.3v1.3h-1.3zM350.2 366.7h1.3v1.3h-1.3zM356.9 382.3h1.3v1.3h-1.3zM363.8 376.0h1.3v1.3h-1.3zM343.2 381.5h1.3v1.3h-1.3zM343.6 379.0h1.3v1.3h-1.3zM349.3 373.4h1.3v1.3h-1.3zM349.2 390.9h1.3v1.3h-1.3zM359.3 383.1h1.3v1.3h-1.3zM366.0 363.6h1.3v1.3h-1.3zM364.2 383.8h1.3v1.3h-1.3zM357.1 381.5h1.3v1.3h-1.3zM368.5 369.2h1.3v1.3h-1.3zM343.6 384.2h1.3v1.3h-1.3zM375.1 365.4h1.3v1.3h-1.3zM345.8 392.7h1.3v1.3h-1.3zM339.6 374.7h1.3v1.3h-1.3zM354.0 384.4h1.3v1.3h-1.3zM358.6 379.0h1.3v1.3h-1.3zM353.8 378.6h1.3v1.3h-1.3zM339.5 381.9h1.3v1.3h-1.3zM322.6 399.2h1.3v1.3h-1.3zM343.3 379.3h1.3v1.3h-1.3zM347.5 380.0h1.3v1.3h-1.3zM357.6 364.2h1.3v1.3h-1.3zM346.0 382.3h1.3v1.3h-1.3zM351.7 378.8h1.3v1.3h-1.3zM339.1 378.3h1.3v1.3h-1.3zM342.4 383.0h1.3v1.3h-1.3zM353.3 377.2h1.3v1.3h-1.3zM341.6 389.9h1.3v1.3h-1.3zM338.3 382.8h1.3v1.3h-1.3zM347.8 373.2h1.3v1.3h-1.3zM352.9 375.6h1.3v1.3h-1.3zM355.8 381.9h1.3v1.3h-1.3zM347.5 387.5h1.3v1.3h-1.3zM351.4 387.3h1.3v1.3h-1.3zM335.2 412.7h1.3v1.3h-1.3zM331.7 413.9h1.3v1.3h-1.3zM329.5 402.5h1.3v1.3h-1.3zM349.8 408.0h1.3v1.3h-1.3zM331.6 412.0h1.3v1.3h-1.3zM332.8 405.2h1.3v1.3h-1.3zM308.4 419.5h1.3v1.3h-1.3zM333.3 407.4h1.3v1.3h-1.3zM337.2 396.3h1.3v1.3h-1.3zM337.1 402.6h1.3v1.3h-1.3zM339.2 408.7h1.3v1.3h-1.3zM342.9 403.0h1.3v1.3h-1.3zM325.1 420.0h1.3v1.3h-1.3zM331.9 389.3h1.3v1.3h-1.3zM328.4 414.8h1.3v1.3h-1.3zM312.0 435.1h1.3v1.3h-1.3zM308.0 432.6h1.3v1.3h-1.3zM311.2 430.5h1.3v1.3h-1.3zM306.4 430.8h1.3v1.3h-1.3zM302.1 439.1h1.3v1.3h-1.3zM314.1 429.6h1.3v1.3h-1.3zM455.8 379.1h1.3v1.3h-1.3zM464.1 375.2h1.3v1.3h-1.3zM463.5 376.1h1.3v1.3h-1.3zM457.6 379.0h1.3v1.3h-1.3zM450.0 385.5h1.3v1.3h-1.3zM469.5 379.2h1.3v1.3h-1.3zM450.4 388.8h1.3v1.3h-1.3zM460.3 373.4h1.3v1.3h-1.3zM456.8 383.0h1.3v1.3h-1.3zM467.2 373.8h1.3v1.3h-1.3zM456.9 385.4h1.3v1.3h-1.3zM454.0 390.7h1.3v1.3h-1.3zM459.8 379.1h1.3v1.3h-1.3zM462.3 382.7h1.3v1.3h-1.3zM460.4 383.8h1.3v1.3h-1.3zM462.8 380.0h1.3v1.3h-1.3zM455.6 382.6h1.3v1.3h-1.3zM472.6 374.9h1.3v1.3h-1.3zM458.0 378.8h1.3v1.3h-1.3zM460.2 377.5h1.3v1.3h-1.3zM469.9 368.2h1.3v1.3h-1.3zM469.5 370.5h1.3v1.3h-1.3zM465.3 379.3h1.3v1.3h-1.3zM463.5 377.3h1.3v1.3h-1.3zM462.5 374.6h1.3v1.3h-1.3zM471.3 372.6h1.3v1.3h-1.3zM459.7 376.4h1.3v1.3h-1.3zM460.0 377.0h1.3v1.3h-1.3zM466.2 374.1h1.3v1.3h-1.3zM455.4 382.3h1.3v1.3h-1.3zM467.5 368.5h1.3v1.3h-1.3zM451.2 383.8h1.3v1.3h-1.3zM455.6 382.3h1.3v1.3h-1.3zM458.1 380.4h1.3v1.3h-1.3zM468.7 368.2h1.3v1.3h-1.3zM451.3 387.1h1.3v1.3h-1.3zM458.4 379.0h1.3v1.3h-1.3zM463.4 377.1h1.3v1.3h-1.3zM465.1 384.8h1.3v1.3h-1.3zM461.6 376.5h1.3v1.3h-1.3zM462.0 370.5h1.3v1.3h-1.3zM471.5 370.7h1.3v1.3h-1.3zM474.6 371.3h1.3v1.3h-1.3zM457.0 380.5h1.3v1.3h-1.3zM467.7 371.4h1.3v1.3h-1.3zM464.7 379.9h1.3v1.3h-1.3zM464.7 372.4h1.3v1.3h-1.3zM461.6 376.1h1.3v1.3h-1.3zM460.8 369.7h1.3v1.3h-1.3zM468.4 367.3h1.3v1.3h-1.3zM465.6 378.4h1.3v1.3h-1.3zM454.8 392.6h1.3v1.3h-1.3zM464.7 383.6h1.3v1.3h-1.3zM461.3 375.2h1.3v1.3h-1.3zM448.0 385.8h1.3v1.3h-1.3zM463.4 374.3h1.3v1.3h-1.3zM453.4 382.7h1.3v1.3h-1.3zM457.1 379.9h1.3v1.3h-1.3zM468.6 371.6h1.3v1.3h-1.3zM458.3 375.0h1.3v1.3h-1.3zM464.3 370.8h1.3v1.3h-1.3zM458.4 382.9h1.3v1.3h-1.3zM462.0 379.4h1.3v1.3h-1.3zM465.5 375.9h1.3v1.3h-1.3zM461.7 370.8h1.3v1.3h-1.3zM466.0 374.1h1.3v1.3h-1.3zM464.1 380.1h1.3v1.3h-1.3zM469.8 368.2h1.3v1.3h-1.3zM457.7 376.6h1.3v1.3h-1.3zM459.8 377.3h1.3v1.3h-1.3zM470.3 374.2h1.3v1.3h-1.3zM471.3 372.7h1.3v1.3h-1.3zM461.7 372.7h1.3v1.3h-1.3zM464.5 370.9h1.3v1.3h-1.3zM466.8 373.5h1.3v1.3h-1.3zM474.2 370.9h1.3v1.3h-1.3zM461.3 384.6h1.3v1.3h-1.3zM461.1 366.5h1.3v1.3h-1.3zM464.6 373.6h1.3v1.3h-1.3zM459.2 377.3h1.3v1.3h-1.3zM462.8 377.0h1.3v1.3h-1.3zM474.0 373.9h1.3v1.3h-1.3zM468.1 372.2h1.3v1.3h-1.3zM454.8 380.4h1.3v1.3h-1.3zM466.0 381.1h1.3v1.3h-1.3zM465.9 378.3h1.3v1.3h-1.3zM461.1 379.1h1.3v1.3h-1.3zM457.9 380.0h1.3v1.3h-1.3zM465.4 378.4h1.3v1.3h-1.3zM461.9 379.6h1.3v1.3h-1.3zM467.9 371.3h1.3v1.3h-1.3zM458.2 385.3h1.3v1.3h-1.3zM459.0 377.5h1.3v1.3h-1.3zM466.1 375.2h1.3v1.3h-1.3zM455.1 384.2h1.3v1.3h-1.3zM454.8 382.8h1.3v1.3h-1.3zM453.6 380.6h1.3v1.3h-1.3zM458.4 375.4h1.3v1.3h-1.3zM460.1 381.8h1.3v1.3h-1.3zM464.8 370.6h1.3v1.3h-1.3zM460.5 371.3h1.3v1.3h-1.3zM464.4 370.4h1.3v1.3h-1.3zM461.5 384.4h1.3v1.3h-1.3zM463.4 374.2h1.3v1.3h-1.3zM459.6 376.9h1.3v1.3h-1.3zM465.4 377.8h1.3v1.3h-1.3zM460.6 378.0h1.3v1.3h-1.3zM468.4 377.9h1.3v1.3h-1.3zM465.3 374.4h1.3v1.3h-1.3zM465.6 370.6h1.3v1.3h-1.3zM460.5 376.6h1.3v1.3h-1.3zM459.5 379.9h1.3v1.3h-1.3zM463.1 364.6h1.3v1.3h-1.3zM455.6 380.6h1.3v1.3h-1.3zM454.7 384.4h1.3v1.3h-1.3zM467.1 374.7h1.3v1.3h-1.3zM463.3 375.8h1.3v1.3h-1.3zM468.1 374.1h1.3v1.3h-1.3zM455.3 381.2h1.3v1.3h-1.3zM451.8 384.5h1.3v1.3h-1.3zM456.7 374.3h1.3v1.3h-1.3zM476.6 372.8h1.3v1.3h-1.3zM457.8 386.9h1.3v1.3h-1.3zM470.9 369.3h1.3v1.3h-1.3zM460.1 379.4h1.3v1.3h-1.3zM458.2 376.3h1.3v1.3h-1.3zM460.0 373.5h1.3v1.3h-1.3zM464.6 376.3h1.3v1.3h-1.3zM465.1 372.6h1.3v1.3h-1.3zM464.1 375.0h1.3v1.3h-1.3zM458.0 382.2h1.3v1.3h-1.3zM456.5 375.5h1.3v1.3h-1.3zM465.8 377.3h1.3v1.3h-1.3zM465.1 371.8h1.3v1.3h-1.3zM470.0 375.6h1.3v1.3h-1.3zM462.4 373.1h1.3v1.3h-1.3zM461.6 382.8h1.3v1.3h-1.3zM462.0 381.9h1.3v1.3h-1.3zM460.6 377.8h1.3v1.3h-1.3zM462.9 373.7h1.3v1.3h-1.3zM465.8 375.0h1.3v1.3h-1.3zM462.7 376.7h1.3v1.3h-1.3zM458.9 379.9h1.3v1.3h-1.3zM466.8 368.4h1.3v1.3h-1.3zM462.8 366.9h1.3v1.3h-1.3zM458.5 374.6h1.3v1.3h-1.3zM465.6 368.1h1.3v1.3h-1.3zM456.9 380.6h1.3v1.3h-1.3zM456.9 381.7h1.3v1.3h-1.3zM465.5 376.3h1.3v1.3h-1.3zM459.3 380.3h1.3v1.3h-1.3zM466.0 370.8h1.3v1.3h-1.3zM467.2 370.6h1.3v1.3h-1.3zM465.2 381.1h1.3v1.3h-1.3zM456.7 385.6h1.3v1.3h-1.3zM457.9 382.3h1.3v1.3h-1.3zM452.1 394.4h1.3v1.3h-1.3zM449.9 391.0h1.3v1.3h-1.3zM462.5 381.6h1.3v1.3h-1.3zM461.8 378.7h1.3v1.3h-1.3zM469.2 374.5h1.3v1.3h-1.3zM463.3 379.7h1.3v1.3h-1.3zM458.7 371.6h1.3v1.3h-1.3zM462.4 382.3h1.3v1.3h-1.3zM465.9 368.3h1.3v1.3h-1.3zM462.9 374.9h1.3v1.3h-1.3zM474.7 373.0h1.3v1.3h-1.3zM455.5 380.5h1.3v1.3h-1.3zM471.8 369.0h1.3v1.3h-1.3zM454.3 388.8h1.3v1.3h-1.3zM454.0 380.4h1.3v1.3h-1.3zM457.2 374.5h1.3v1.3h-1.3zM453.7 388.1h1.3v1.3h-1.3zM467.8 362.1h1.3v1.3h-1.3zM460.0 379.7h1.3v1.3h-1.3zM465.0 377.0h1.3v1.3h-1.3zM453.0 387.8h1.3v1.3h-1.3zM470.5 367.7h1.3v1.3h-1.3zM466.5 368.6h1.3v1.3h-1.3zM460.0 378.2h1.3v1.3h-1.3zM467.2 371.7h1.3v1.3h-1.3zM467.3 374.3h1.3v1.3h-1.3zM464.2 376.7h1.3v1.3h-1.3zM465.2 377.5h1.3v1.3h-1.3zM462.7 376.2h1.3v1.3h-1.3zM465.1 374.5h1.3v1.3h-1.3zM477.3 374.8h1.3v1.3h-1.3zM465.6 373.8h1.3v1.3h-1.3zM463.2 373.4h1.3v1.3h-1.3zM458.8 377.6h1.3v1.3h-1.3zM460.7 371.4h1.3v1.3h-1.3zM463.7 369.5h1.3v1.3h-1.3zM449.9 382.5h1.3v1.3h-1.3zM467.8 372.1h1.3v1.3h-1.3zM450.8 379.8h1.3v1.3h-1.3zM470.0 369.6h1.3v1.3h-1.3zM456.9 375.1h1.3v1.3h-1.3zM468.5 365.7h1.3v1.3h-1.3zM458.3 380.5h1.3v1.3h-1.3zM458.1 380.3h1.3v1.3h-1.3zM463.7 378.2h1.3v1.3h-1.3zM463.2 376.9h1.3v1.3h-1.3zM465.1 370.9h1.3v1.3h-1.3zM459.2 378.6h1.3v1.3h-1.3zM467.3 374.8h1.3v1.3h-1.3zM459.3 379.5h1.3v1.3h-1.3zM468.0 375.3h1.3v1.3h-1.3zM447.7 387.1h1.3v1.3h-1.3zM467.7 367.3h1.3v1.3h-1.3zM463.5 369.1h1.3v1.3h-1.3zM470.0 373.1h1.3v1.3h-1.3zM461.5 384.7h1.3v1.3h-1.3zM457.2 379.3h1.3v1.3h-1.3zM455.2 380.7h1.3v1.3h-1.3zM460.9 372.2h1.3v1.3h-1.3zM458.5 385.3h1.3v1.3h-1.3zM463.6 373.8h1.3v1.3h-1.3zM462.4 377.5h1.3v1.3h-1.3zM458.1 381.1h1.3v1.3h-1.3zM456.4 375.1h1.3v1.3h-1.3zM459.1 370.9h1.3v1.3h-1.3zM456.7 389.0h1.3v1.3h-1.3zM461.3 383.0h1.3v1.3h-1.3zM454.5 389.0h1.3v1.3h-1.3zM469.4 368.5h1.3v1.3h-1.3zM471.6 363.2h1.3v1.3h-1.3zM468.2 370.6h1.3v1.3h-1.3zM457.9 376.4h1.3v1.3h-1.3zM464.2 376.1h1.3v1.3h-1.3zM462.4 375.6h1.3v1.3h-1.3zM472.8 363.9h1.3v1.3h-1.3zM458.8 381.3h1.3v1.3h-1.3zM468.7 368.8h1.3v1.3h-1.3zM458.4 375.7h1.3v1.3h-1.3zM456.8 378.1h1.3v1.3h-1.3zM463.4 374.8h1.3v1.3h-1.3zM450.3 386.9h1.3v1.3h-1.3zM466.7 375.7h1.3v1.3h-1.3zM464.9 374.9h1.3v1.3h-1.3zM473.9 366.4h1.3v1.3h-1.3zM459.0 373.5h1.3v1.3h-1.3zM454.8 382.8h1.3v1.3h-1.3zM459.8 372.5h1.3v1.3h-1.3zM468.7 367.3h1.3v1.3h-1.3zM470.8 370.4h1.3v1.3h-1.3zM456.3 379.4h1.3v1.3h-1.3zM469.0 367.8h1.3v1.3h-1.3zM467.7 371.9h1.3v1.3h-1.3zM460.2 376.6h1.3v1.3h-1.3zM464.3 379.6h1.3v1.3h-1.3zM452.4 383.8h1.3v1.3h-1.3zM458.0 379.7h1.3v1.3h-1.3zM470.5 374.7h1.3v1.3h-1.3zM460.5 379.0h1.3v1.3h-1.3zM460.0 378.0h1.3v1.3h-1.3zM471.6 375.9h1.3v1.3h-1.3zM458.3 381.8h1.3v1.3h-1.3zM460.5 384.6h1.3v1.3h-1.3zM464.5 377.2h1.3v1.3h-1.3zM465.3 376.7h1.3v1.3h-1.3zM469.3 381.4h1.3v1.3h-1.3zM465.1 376.2h1.3v1.3h-1.3zM459.0 378.1h1.3v1.3h-1.3zM457.3 381.1h1.3v1.3h-1.3zM464.1 374.7h1.3v1.3h-1.3zM468.7 375.9h1.3v1.3h-1.3zM461.4 382.2h1.3v1.3h-1.3zM469.4 370.7h1.3v1.3h-1.3zM466.1 373.1h1.3v1.3h-1.3zM456.5 383.6h1.3v1.3h-1.3zM465.7 378.6h1.3v1.3h-1.3zM461.7 386.2h1.3v1.3h-1.3zM472.1 368.3h1.3v1.3h-1.3zM462.0 372.5h1.3v1.3h-1.3zM458.7 374.4h1.3v1.3h-1.3zM470.9 363.5h1.3v1.3h-1.3zM468.0 380.0h1.3v1.3h-1.3zM462.8 370.3h1.3v1.3h-1.3zM471.0 366.1h1.3v1.3h-1.3zM463.6 375.9h1.3v1.3h-1.3zM467.3 367.7h1.3v1.3h-1.3zM473.7 366.0h1.3v1.3h-1.3zM463.1 362.2h1.3v1.3h-1.3zM457.6 383.6h1.3v1.3h-1.3zM461.2 379.3h1.3v1.3h-1.3zM469.8 374.2h1.3v1.3h-1.3zM472.0 376.2h1.3v1.3h-1.3zM456.5 373.3h1.3v1.3h-1.3zM462.7 385.8h1.3v1.3h-1.3zM466.0 378.1h1.3v1.3h-1.3zM461.6 374.1h1.3v1.3h-1.3zM477.8 367.0h1.3v1.3h-1.3zM465.2 375.4h1.3v1.3h-1.3zM465.4 368.9h1.3v1.3h-1.3zM455.6 381.3h1.3v1.3h-1.3zM461.0 371.6h1.3v1.3h-1.3zM463.0 379.7h1.3v1.3h-1.3zM463.9 374.0h1.3v1.3h-1.3zM471.6 374.2h1.3v1.3h-1.3zM464.8 373.3h1.3v1.3h-1.3zM453.2 384.5h1.3v1.3h-1.3zM467.5 366.8h1.3v1.3h-1.3zM468.3 379.4h1.3v1.3h-1.3zM460.4 377.3h1.3v1.3h-1.3zM461.2 384.0h1.3v1.3h-1.3zM469.4 376.5h1.3v1.3h-1.3zM459.0 382.1h1.3v1.3h-1.3zM474.2 365.6h1.3v1.3h-1.3zM454.5 383.0h1.3v1.3h-1.3zM450.8 388.4h1.3v1.3h-1.3zM468.6 373.2h1.3v1.3h-1.3zM462.7 380.3h1.3v1.3h-1.3zM466.4 378.9h1.3v1.3h-1.3zM465.1 374.4h1.3v1.3h-1.3zM466.3 368.6h1.3v1.3h-1.3zM459.4 376.2h1.3v1.3h-1.3zM463.8 374.1h1.3v1.3h-1.3zM462.7 380.0h1.3v1.3h-1.3zM460.8 383.2h1.3v1.3h-1.3zM459.7 376.5h1.3v1.3h-1.3zM469.1 368.1h1.3v1.3h-1.3zM461.5 368.4h1.3v1.3h-1.3zM449.3 380.4h1.3v1.3h-1.3zM461.7 380.0h1.3v1.3h-1.3zM469.7 382.1h1.3v1.3h-1.3zM460.0 375.0h1.3v1.3h-1.3zM451.3 383.6h1.3v1.3h-1.3zM466.7 367.2h1.3v1.3h-1.3zM465.4 373.8h1.3v1.3h-1.3zM456.6 374.7h1.3v1.3h-1.3zM465.9 384.1h1.3v1.3h-1.3zM465.3 372.9h1.3v1.3h-1.3zM461.6 383.3h1.3v1.3h-1.3zM463.0 371.1h1.3v1.3h-1.3zM469.8 374.5h1.3v1.3h-1.3zM452.2 375.9h1.3v1.3h-1.3zM469.6 363.1h1.3v1.3h-1.3zM470.6 370.4h1.3v1.3h-1.3zM465.8 382.8h1.3v1.3h-1.3zM458.4 381.1h1.3v1.3h-1.3zM453.9 380.5h1.3v1.3h-1.3zM469.1 369.9h1.3v1.3h-1.3zM453.3 377.5h1.3v1.3h-1.3zM459.7 383.5h1.3v1.3h-1.3zM465.0 374.8h1.3v1.3h-1.3zM463.6 375.7h1.3v1.3h-1.3zM456.0 378.9h1.3v1.3h-1.3zM459.0 384.2h1.3v1.3h-1.3zM452.6 376.4h1.3v1.3h-1.3zM473.1 369.3h1.3v1.3h-1.3zM463.3 372.2h1.3v1.3h-1.3zM462.5 369.7h1.3v1.3h-1.3zM461.7 373.6h1.3v1.3h-1.3zM466.5 374.8h1.3v1.3h-1.3zM470.8 373.7h1.3v1.3h-1.3zM479.4 372.0h1.3v1.3h-1.3zM470.3 371.5h1.3v1.3h-1.3zM457.5 381.4h1.3v1.3h-1.3zM458.1 380.3h1.3v1.3h-1.3zM471.7 368.9h1.3v1.3h-1.3zM455.0 381.2h1.3v1.3h-1.3zM469.0 366.8h1.3v1.3h-1.3zM461.2 379.2h1.3v1.3h-1.3zM457.9 383.8h1.3v1.3h-1.3zM454.5 374.4h1.3v1.3h-1.3zM451.0 388.1h1.3v1.3h-1.3zM456.9 380.3h1.3v1.3h-1.3zM463.0 376.2h1.3v1.3h-1.3zM458.0 388.5h1.3v1.3h-1.3zM463.9 384.9h1.3v1.3h-1.3zM465.3 376.2h1.3v1.3h-1.3zM467.6 377.8h1.3v1.3h-1.3zM464.3 379.5h1.3v1.3h-1.3zM448.2 380.3h1.3v1.3h-1.3zM452.0 388.6h1.3v1.3h-1.3zM458.8 370.5h1.3v1.3h-1.3zM457.8 369.6h1.3v1.3h-1.3zM461.2 376.9h1.3v1.3h-1.3zM452.1 385.2h1.3v1.3h-1.3zM459.6 385.2h1.3v1.3h-1.3zM451.0 386.7h1.3v1.3h-1.3zM454.4 376.9h1.3v1.3h-1.3zM466.9 370.6h1.3v1.3h-1.3zM459.1 373.7h1.3v1.3h-1.3zM465.9 376.6h1.3v1.3h-1.3zM463.9 374.2h1.3v1.3h-1.3zM470.0 375.9h1.3v1.3h-1.3zM453.6 386.4h1.3v1.3h-1.3zM466.8 380.6h1.3v1.3h-1.3zM457.9 377.7h1.3v1.3h-1.3zM467.3 368.7h1.3v1.3h-1.3zM449.5 386.5h1.3v1.3h-1.3zM447.4 391.5h1.3v1.3h-1.3zM466.4 379.2h1.3v1.3h-1.3zM464.2 376.7h1.3v1.3h-1.3zM464.1 368.6h1.3v1.3h-1.3zM466.3 373.8h1.3v1.3h-1.3zM460.4 368.7h1.3v1.3h-1.3zM459.2 379.0h1.3v1.3h-1.3zM461.9 374.0h1.3v1.3h-1.3zM477.4 369.6h1.3v1.3h-1.3zM465.8 375.9h1.3v1.3h-1.3zM457.8 386.9h1.3v1.3h-1.3zM461.0 378.0h1.3v1.3h-1.3zM462.8 380.8h1.3v1.3h-1.3zM458.0 378.8h1.3v1.3h-1.3zM460.7 380.2h1.3v1.3h-1.3zM459.0 381.0h1.3v1.3h-1.3zM455.6 384.4h1.3v1.3h-1.3zM457.6 381.6h1.3v1.3h-1.3zM462.5 371.7h1.3v1.3h-1.3zM464.2 377.5h1.3v1.3h-1.3zM455.4 383.2h1.3v1.3h-1.3zM463.3 373.1h1.3v1.3h-1.3zM455.8 383.8h1.3v1.3h-1.3zM466.4 376.3h1.3v1.3h-1.3zM469.0 370.6h1.3v1.3h-1.3zM461.9 376.4h1.3v1.3h-1.3zM470.3 373.6h1.3v1.3h-1.3zM450.2 382.1h1.3v1.3h-1.3zM463.0 379.2h1.3v1.3h-1.3zM449.6 387.3h1.3v1.3h-1.3zM466.8 372.2h1.3v1.3h-1.3zM452.0 387.3h1.3v1.3h-1.3zM465.1 382.8h1.3v1.3h-1.3zM467.3 360.8h1.3v1.3h-1.3zM459.4 383.5h1.3v1.3h-1.3zM470.3 371.3h1.3v1.3h-1.3zM462.3 377.8h1.3v1.3h-1.3zM464.9 371.8h1.3v1.3h-1.3zM466.6 372.7h1.3v1.3h-1.3zM467.4 380.1h1.3v1.3h-1.3zM454.9 376.2h1.3v1.3h-1.3zM463.5 382.7h1.3v1.3h-1.3zM463.3 381.2h1.3v1.3h-1.3zM463.9 378.6h1.3v1.3h-1.3zM468.7 374.3h1.3v1.3h-1.3zM472.2 373.3h1.3v1.3h-1.3zM464.3 364.0h1.3v1.3h-1.3zM458.9 379.2h1.3v1.3h-1.3zM462.5 378.7h1.3v1.3h-1.3zM459.9 374.6h1.3v1.3h-1.3zM461.8 378.9h1.3v1.3h-1.3zM464.5 384.5h1.3v1.3h-1.3zM465.9 373.5h1.3v1.3h-1.3zM458.0 378.7h1.3v1.3h-1.3zM466.6 369.5h1.3v1.3h-1.3zM456.0 381.7h1.3v1.3h-1.3zM457.1 378.2h1.3v1.3h-1.3zM458.0 377.5h1.3v1.3h-1.3zM462.8 378.0h1.3v1.3h-1.3zM461.4 388.1h1.3v1.3h-1.3zM469.1 374.2h1.3v1.3h-1.3zM451.0 397.7h1.3v1.3h-1.3zM457.3 378.3h1.3v1.3h-1.3zM461.1 380.8h1.3v1.3h-1.3zM456.9 385.3h1.3v1.3h-1.3zM449.7 383.4h1.3v1.3h-1.3zM460.3 371.8h1.3v1.3h-1.3zM465.3 374.1h1.3v1.3h-1.3zM463.1 393.1h1.3v1.3h-1.3zM453.6 386.5h1.3v1.3h-1.3zM445.5 389.8h1.3v1.3h-1.3zM457.9 388.3h1.3v1.3h-1.3zM453.2 389.3h1.3v1.3h-1.3zM455.3 376.8h1.3v1.3h-1.3zM456.1 380.1h1.3v1.3h-1.3zM452.1 387.0h1.3v1.3h-1.3zM448.2 381.4h1.3v1.3h-1.3zM448.0 386.5h1.3v1.3h-1.3zM462.6 368.6h1.3v1.3h-1.3zM464.6 382.6h1.3v1.3h-1.3zM448.7 383.8h1.3v1.3h-1.3zM456.1 383.2h1.3v1.3h-1.3zM463.9 369.8h1.3v1.3h-1.3zM467.3 367.1h1.3v1.3h-1.3zM471.5 363.4h1.3v1.3h-1.3zM460.5 374.4h1.3v1.3h-1.3zM466.0 381.4h1.3v1.3h-1.3zM460.0 381.5h1.3v1.3h-1.3zM455.0 390.7h1.3v1.3h-1.3zM450.9 385.6h1.3v1.3h-1.3zM461.5 373.5h1.3v1.3h-1.3zM460.0 380.0h1.3v1.3h-1.3zM461.1 386.0h1.3v1.3h-1.3zM463.4 388.1h1.3v1.3h-1.3zM448.9 388.1h1.3v1.3h-1.3zM442.3 379.3h1.3v1.3h-1.3zM449.5 393.1h1.3v1.3h-1.3zM449.1 380.1h1.3v1.3h-1.3zM440.0 398.3h1.3v1.3h-1.3zM461.5 385.7h1.3v1.3h-1.3zM455.5 379.0h1.3v1.3h-1.3zM449.5 384.0h1.3v1.3h-1.3zM452.7 388.2h1.3v1.3h-1.3zM445.9 386.3h1.3v1.3h-1.3zM450.0 391.9h1.3v1.3h-1.3zM442.3 393.6h1.3v1.3h-1.3zM447.4 397.1h1.3v1.3h-1.3zM449.6 385.7h1.3v1.3h-1.3zM455.6 388.7h1.3v1.3h-1.3zM458.6 374.0h1.3v1.3h-1.3zM466.6 382.7h1.3v1.3h-1.3zM459.0 387.0h1.3v1.3h-1.3zM455.5 385.2h1.3v1.3h-1.3zM454.3 383.1h1.3v1.3h-1.3zM449.7 391.4h1.3v1.3h-1.3zM451.1 380.0h1.3v1.3h-1.3zM452.9 382.8h1.3v1.3h-1.3zM463.5 383.1h1.3v1.3h-1.3zM463.4 375.4h1.3v1.3h-1.3zM456.7 390.7h1.3v1.3h-1.3zM461.3 380.7h1.3v1.3h-1.3zM451.6 381.2h1.3v1.3h-1.3zM464.5 363.1h1.3v1.3h-1.3zM453.5 387.2h1.3v1.3h-1.3zM463.5 372.4h1.3v1.3h-1.3zM458.4 379.3h1.3v1.3h-1.3zM464.3 389.9h1.3v1.3h-1.3zM462.5 378.4h1.3v1.3h-1.3zM459.9 376.1h1.3v1.3h-1.3zM461.9 376.6h1.3v1.3h-1.3zM461.7 380.6h1.3v1.3h-1.3zM452.8 381.5h1.3v1.3h-1.3zM441.0 391.5h1.3v1.3h-1.3zM461.7 392.2h1.3v1.3h-1.3zM465.8 382.7h1.3v1.3h-1.3zM449.0 393.2h1.3v1.3h-1.3zM473.4 375.7h1.3v1.3h-1.3zM454.7 381.8h1.3v1.3h-1.3zM446.5 388.8h1.3v1.3h-1.3zM448.4 388.0h1.3v1.3h-1.3zM450.1 383.0h1.3v1.3h-1.3zM456.6 377.5h1.3v1.3h-1.3zM462.2 379.0h1.3v1.3h-1.3zM458.7 382.5h1.3v1.3h-1.3zM448.4 390.8h1.3v1.3h-1.3zM468.0 370.2h1.3v1.3h-1.3zM459.7 386.8h1.3v1.3h-1.3zM453.4 392.6h1.3v1.3h-1.3zM460.5 383.6h1.3v1.3h-1.3zM470.4 377.9h1.3v1.3h-1.3zM455.8 387.4h1.3v1.3h-1.3zM459.6 380.7h1.3v1.3h-1.3zM463.1 380.5h1.3v1.3h-1.3zM468.6 377.6h1.3v1.3h-1.3zM460.0 392.9h1.3v1.3h-1.3zM457.0 382.4h1.3v1.3h-1.3zM455.9 384.3h1.3v1.3h-1.3zM454.2 378.8h1.3v1.3h-1.3zM462.3 374.1h1.3v1.3h-1.3zM455.1 377.3h1.3v1.3h-1.3zM463.5 374.7h1.3v1.3h-1.3zM451.7 387.1h1.3v1.3h-1.3zM455.8 390.4h1.3v1.3h-1.3zM450.7 386.6h1.3v1.3h-1.3zM453.6 374.4h1.3v1.3h-1.3zM462.9 380.1h1.3v1.3h-1.3zM468.3 380.4h1.3v1.3h-1.3zM446.7 391.0h1.3v1.3h-1.3zM437.8 400.1h1.3v1.3h-1.3zM449.0 391.2h1.3v1.3h-1.3zM445.4 397.6h1.3v1.3h-1.3zM455.7 397.5h1.3v1.3h-1.3zM445.8 400.3h1.3v1.3h-1.3zM443.8 402.3h1.3v1.3h-1.3zM445.1 395.4h1.3v1.3h-1.3zM457.3 392.0h1.3v1.3h-1.3zM444.4 389.0h1.3v1.3h-1.3zM444.1 389.8h1.3v1.3h-1.3zM439.2 410.2h1.3v1.3h-1.3zM445.0 409.3h1.3v1.3h-1.3zM445.6 402.5h1.3v1.3h-1.3zM448.6 393.7h1.3v1.3h-1.3zM448.5 394.6h1.3v1.3h-1.3zM452.8 396.8h1.3v1.3h-1.3zM442.6 402.1h1.3v1.3h-1.3zM454.8 390.0h1.3v1.3h-1.3zM442.3 402.9h1.3v1.3h-1.3zM452.4 391.8h1.3v1.3h-1.3zM435.7 399.7h1.3v1.3h-1.3zM438.0 397.2h1.3v1.3h-1.3zM451.3 402.3h1.3v1.3h-1.3zM447.2 399.6h1.3v1.3h-1.3zM447.3 396.2h1.3v1.3h-1.3zM440.9 414.4h1.3v1.3h-1.3zM446.0 395.4h1.3v1.3h-1.3zM452.9 403.0h1.3v1.3h-1.3zM429.4 424.3h1.3v1.3h-1.3zM420.5 414.1h1.3v1.3h-1.3zM419.4 430.2h1.3v1.3h-1.3zM424.9 412.2h1.3v1.3h-1.3zM424.8 413.3h1.3v1.3h-1.3zM436.7 410.8h1.3v1.3h-1.3zM428.0 425.3h1.3v1.3h-1.3zM428.0 418.1h1.3v1.3h-1.3zM429.8 424.1h1.3v1.3h-1.3z" fill="#000"/>
<path d="M66.5 9.5L167.5 9.5M167.5 9.5L167.5 95.4M66.5 95.4L167.5 95.4M66.5 9.5L66.5 95.4M104.9 9.5L104.9 95.4M66.5 62.4L167.5 62.4M179.8 9.5L280.8 9.5M280.8 9.5L280.8 95.4M179.8 95.4L280.8 95.4M179.8 9.5L179.8 95.4M215.0 9.5L215.0 95.4M179.8 61.7L280.8 61.7M66.5 116.4L167.5 116.4M167.5 116.4L167.5 202.5M66.5 202.5L167.5 202.5M66.5 116.4L66.5 202.5M111.4 116.4L111.4 202.5M66.5 159.5L167.5 159.5M179.8 116.4L280.8 116.4M280.8 116.4L280.8 202.5M179.8 202.5L280.8 202.5M179.8 116.4L179.8 202.5M227.0 116.4L227.0 202.5M179.8 158.5L280.8 158.5M68.3 251.0L169.3 251.0M169.3 251.0L169.3 337.2M68.3 337.2L169.3 337.2M68.3 251.0L68.3 337.2M98.0 251.0L98.0 337.2M68.3 314.0L169.3 314.0M182.5 251.0L283.7 251.0M283.7 251.0L283.7 337.2M182.5 337.2L283.7 337.2M182.5 251.0L182.5 337.2M212.3 251.0L212.3 337.2M182.5 311.0L283.7 311.0M296.3 251.0L397.3 251.0M397.3 251.0L397.3 337.2M296.3 337.2L397.3 337.2M296.3 251.0L296.3 337.2M335.5 251.0L335.5 337.2M296.3 302.1L397.3 302.1M409.5 251.0L511.5 251.0M511.5 251.0L511.5 337.2M409.5 337.2L511.5 337.2M409.5 251.0L409.5 337.2M450.5 251.0L450.5 337.2M409.5 297.5L511.5 297.5M68.3 358.6L169.3 358.6M169.3 358.6L169.3 444.6M68.3 444.6L169.3 444.6M68.3 358.6L68.3 444.6M107.7 358.6L107.7 444.6M68.3 413.7L169.3 413.7M182.5 358.6L283.7 358.6M283.7 358.6L283.7 444.6M182.5 444.6L283.7 444.6M182.5 358.6L182.5 444.6M227.5 358.6L227.5 444.6M182.5 404.9L283.7 404.9M296.3 358.6L397.3 358.6M397.3 358.6L397.3 444.6M296.3 444.6L397.3 444.6M296.3 358.6L296.3 444.6M347.8 358.6L347.8 444.6M296.3 398.0L397.3 398.0M409.5 358.6L511.5 358.6M511.5 358.6L511.5 444.6M409.5 444.6L511.5 444.6M409.5 358.6L409.5 444.6M459.3 358.6L459.3 444.6M409.5 399.3L511.5 399.3M31.9 9.5L31.9 71.6M31.9 139.7L31.9 202.5M32.7 252.0L32.7 314.4M32.7 382.8L32.7 445.1" stroke="#000" stroke-width="1.4" fill="none"/>
<path d="M66.0 95.4h1.0v4.7h-1.0zM61.8 95.0h4.7v1.0h-4.7zM74.0 95.4h1.0v2.4h-1.0zM64.1 89.0h2.4v1.0h-2.4zM78.0 95.4h1.0v2.4h-1.0zM64.1 85.0h2.4v1.0h-2.4zM81.0 95.4h1.0v2.4h-1.0zM64.1 82.0h2.4v1.0h-2.4zM84.0 95.4h1.0v2.4h-1.0zM64.1 80.0h2.4v1.0h-2.4zM86.0 95.4h1.0v2.4h-1.0zM64.1 78.0h2.4v1.0h-2.4zM87.0 95.4h1.0v2.4h-1.0zM64.1 77.0h2.4v1.0h-2.4zM89.0 95.4h1.0v2.4h-1.0zM64.1 76.0h2.4v1.0h-2.4zM90.0 95.4h1.0v2.4h-1.0zM64.1 75.0h2.4v1.0h-2.4zM91.0 95.4h1.0v4.7h-1.0zM61.8 74.0h4.7v1.0h-4.7zM99.0 95.4h1.0v2.4h-1.0zM64.1 67.0h2.4v1.0h-2.4zM103.0 95.4h1.0v2.4h-1.0zM64.1 64.0h2.4v1.0h-2.4zM106.0 95.4h1.0v2.4h-1.0zM64.1 61.0h2.4v1.0h-2.4zM109.0 95.4h1.0v2.4h-1.0zM64.1 59.0h2.4v1.0h-2.4zM111.0 95.4h1.0v2.4h-1.0zM64.1 57.0h2.4v1.0h-2.4zM113.0 95.4h1.0v2.4h-1.0zM64.1 56.0h2.4v1.0h-2.4zM114.0 95.4h1.0v2.4h-1.0zM64.1 55.0h2.4v1.0h-2.4zM115.0 95.4h1.0v2.4h-1.0zM64.1 54.0h2.4v1.0h-2.4zM116.0 95.4h1.0v4.7h-1.0zM61.8 53.0h4.7v1.0h-4.7zM124.0 95.4h1.0v2.4h-1.0zM64.1 46.0h2.4v1.0h-2.4zM129.0 95.4h1.0v2.4h-1.0zM64.1 43.0h2.4v1.0h-2.4zM132.0 95.4h1.0v2.4h-1.0zM64.1 40.0h2.4v1.0h-2.4zM134.0 95.4h1.0v2.4h-1.0zM64.1 38.0h2.4v1.0h-2.4zM136.0 95.4h1.0v2.4h-1.0zM64.1 36.0h2.4v1.0h-2.4zM138.0 95.4h1.0v2.4h-1.0zM64.1 35.0h2.4v1.0h-2.4zM139.0 95.4h1.0v2.4h-1.0zM64.1 33.0h2.4v1.0h-2.4zM141.0 95.4h1.0v2.4h-1.0zM64.1 32.0h2.4v1.0h-2.4zM142.0 95.4h1.0v4.7h-1.0zM61.8 31.0h4.7v1.0h-4.7zM149.0 95.4h1.0v2.4h-1.0zM64.1 25.0h2.4v1.0h-2.4zM154.0 95.4h1.0v2.4h-1.0zM64.1 21.0h2.4v1.0h-2.4zM157.0 95.4h1.0v2.4h-1.0zM64.1 19.0h2.4v1.0h-2.4zM159.0 95.4h1.0v2.4h-1.0zM64.1 17.0h2.4v1.0h-2.4zM161.0 95.4h1.0v2.4h-1.0zM64.1 15.0h2.4v1.0h-2.4zM163.0 95.4h1.0v2.4h-1.0zM64.1 14.0h2.4v1.0h-2.4zM165.0 95.4h1.0v2.4h-1.0zM64.1 12.0h2.4v1.0h-2.4zM166.0 95.4h1.0v2.4h-1.0zM64.1 11.0h2.4v1.0h-2.4zM167.0 95.4h1.0v4.7h-1.0zM61.8 10.0h4.7v1.0h-4.7zM179.0 95.4h1.0v4.7h-1.0zM175.1 95.0h4.7v1.0h-4.7zM187.0 95.4h1.0v2.4h-1.0zM177.4 89.0h2.4v1.0h-2.4zM191.0 95.4h1.0v2.4h-1.0zM177.4 85.0h2.4v1.0h-2.4zM195.0 95.4h1.0v2.4h-1.0zM177.4 82.0h2.4v1.0h-2.4zM197.0 95.4h1.0v2.4h-1.0zM177.4 80.0h2.4v1.0h-2.4zM199.0 95.4h1.0v2.4h-1.0zM177.4 78.0h2.4v1.0h-2.4zM201.0 95.4h1.0v2.4h-1.0zM177.4 77.0h2.4v1.0h-2.4zM202.0 95.4h1.0v2.4h-1.0zM177.4 76.0h2.4v1.0h-2.4zM203.0 95.4h1.0v2.4h-1.0zM177.4 75.0h2.4v1.0h-2.4zM205.0 95.4h1.0v4.7h-1.0zM175.1 74.0h4.7v1.0h-4.7zM212.0 95.4h1.0v2.4h-1.0zM177.4 67.0h2.4v1.0h-2.4zM217.0 95.4h1.0v2.4h-1.0zM177.4 64.0h2.4v1.0h-2.4zM220.0 95.4h1.0v2.4h-1.0zM177.4 61.0h2.4v1.0h-2.4zM222.0 95.4h1.0v2.4h-1.0zM177.4 59.0h2.4v1.0h-2.4zM224.0 95.4h1.0v2.4h-1.0zM177.4 57.0h2.4v1.0h-2.4zM226.0 95.4h1.0v2.4h-1.0zM177.4 56.0h2.4v1.0h-2.4zM227.0 95.4h1.0v2.4h-1.0zM177.4 55.0h2.4v1.0h-2.4zM229.0 95.4h1.0v2.4h-1.0zM177.4 54.0h2.4v1.0h-2.4zM230.0 95.4h1.0v4.7h-1.0zM175.1 53.0h4.7v1.0h-4.7zM237.0 95.4h1.0v2.4h-1.0zM177.4 46.0h2.4v1.0h-2.4zM242.0 95.4h1.0v2.4h-1.0zM177.4 43.0h2.4v1.0h-2.4zM245.0 95.4h1.0v2.4h-1.0zM177.4 40.0h2.4v1.0h-2.4zM247.0 95.4h1.0v2.4h-1.0zM177.4 38.0h2.4v1.0h-2.4zM249.0 95.4h1.0v2.4h-1.0zM177.4 36.0h2.4v1.0h-2.4zM251.0 95.4h1.0v2.4h-1.0zM177.4 35.0h2.4v1.0h-2.4zM253.0 95.4h1.0v2.4h-1.0zM177.4 33.0h2.4v1.0h-2.4zM254.0 95.4h1.0v2.4h-1.0zM177.4 32.0h2.4v1.0h-2.4zM255.0 95.4h1.0v4.7h-1.0zM175.1 31.0h4.7v1.0h-4.7zM263.0 95.4h1.0v2.4h-1.0zM177.4 25.0h2.4v1.0h-2.4zM267.0 95.4h1.0v2.4h-1.0zM177.4 21.0h2.4v1.0h-2.4zM270.0 95.4h1.0v2.4h-1.0zM177.4 19.0h2.4v1.0h-2.4zM273.0 95.4h1.0v2.4h-1.0zM177.4 17.0h2.4v1.0h-2.4zM275.0 95.4h1.0v2.4h-1.0zM177.4 15.0h2.4v1.0h-2.4zM276.0 95.4h1.0v2.4h-1.0zM177.4 14.0h2.4v1.0h-2.4zM278.0 95.4h1.0v2.4h-1.0zM177.4 12.0h2.4v1.0h-2.4zM279.0 95.4h1.0v2.4h-1.0zM177.4 11.0h2.4v1.0h-2.4zM280.0 95.4h1.0v4.7h-1.0zM175.1 10.0h4.7v1.0h-4.7zM66.0 202.5h1.0v4.7h-1.0zM61.8 202.0h4.7v1.0h-4.7zM74.0 202.5h1.0v2.4h-1.0zM64.1 196.0h2.4v1.0h-2.4zM78.0 202.5h1.0v2.4h-1.0zM64.1 192.0h2.4v1.0h-2.4zM81.0 202.5h1.0v2.4h-1.0zM64.1 189.0h2.4v1.0h-2.4zM84.0 202.5h1.0v2.4h-1.0zM64.1 187.0h2.4v1.0h-2.4zM86.0 202.5h1.0v2.4h-1.0zM64.1 186.0h2.4v1.0h-2.4zM87.0 202.5h1.0v2.4h-1.0zM64.1 184.0h2.4v1.0h-2.4zM89.0 202.5h1.0v2.4h-1.0zM64.1 183.0h2.4v1.0h-2.4zM90.0 202.5h1.0v2.4h-1.0zM64.1 182.0h2.4v1.0h-2.4zM91.0 202.5h1.0v4.7h-1.0zM61.8 181.0h4.7v1.0h-4.7zM99.0 202.5h1.0v2.4h-1.0zM64.1 174.0h2.4v1.0h-2.4zM103.0 202.5h1.0v2.4h-1.0zM64.1 171.0h2.4v1.0h-2.4zM106.0 202.5h1.0v2.4h-1.0zM64.1 168.0h2.4v1.0h-2.4zM109.0 202.5h1.0v2.4h-1.0zM64.1 166.0h2.4v1.0h-2.4zM111.0 202.5h1.0v2.4h-1.0zM64.1 164.0h2.4v1.0h-2.4zM113.0 202.5h1.0v2.4h-1.0zM64.1 163.0h2.4v1.0h-2.4zM114.0 202.5h1.0v2.4h-1.0zM64.1 162.0h2.4v1.0h-2.4zM115.0 202.5h1.0v2.4h-1.0zM64.1 161.0h2.4v1.0h-2.4zM116.0 202.5h1.0v4.7h-1.0zM61.8 160.0h4.7v1.0h-4.7zM124.0 202.5h1.0v2.4h-1.0zM64.1 153.0h2.4v1.0h-2.4zM129.0 202.5h1.0v2.4h-1.0zM64.1 149.0h2.4v1.0h-2.4zM132.0 202.5h1.0v2.4h-1.0zM64.1 147.0h2.4v1.0h-2.4zM134.0 202.5h1.0v2.4h-1.0zM64.1 145.0h2.4v1.0h-2.4zM136.0 202.5h1.0v2.4h-1.0zM64.1 143.0h2.4v1.0h-2.4zM138.0 202.5h1.0v2.4h-1.0zM64.1 142.0h2.4v1.0h-2.4zM139.0 202.5h1.0v2.4h-1.0zM64.1 140.0h2.4v1.0h-2.4zM141.0 202.5h1.0v2.4h-1.0zM64.1 139.0h2.4v1.0h-2.4zM142.0 202.5h1.0v4.7h-1.0zM61.8 138.0h4.7v1.0h-4.7zM149.0 202.5h1.0v2.4h-1.0zM64.1 132.0h2.4v1.0h-2.4zM154.0 202.5h1.0v2.4h-1.0zM64.1 128.0h2.4v1.0h-2.4zM157.0 202.5h1.0v2.4h-1.0zM64.1 126.0h2.4v1.0h-2.4zM159.0 202.5h1.0v2.4h-1.0zM64.1 124.0h2.4v1.0h-2.4zM161.0 202.5h1.0v2.4h-1.0zM64.1 122.0h2.4v1.0h-2.4zM163.0 202.5h1.0v2.4h-1.0zM64.1 120.0h2.4v1.0h-2.4zM165.0 202.5h1.0v2.4h-1.0zM64.1 119.0h2.4v1.0h-2.4zM166.0 202.5h1.0v2.4h-1.0zM64.1 118.0h2.4v1.0h-2.4zM167.0 202.5h1.0v4.7h-1.0zM61.8 117.0h4.7v1.0h-4.7zM179.0 202.5h1.0v4.7h-1.0zM175.1 202.0h4.7v1.0h-4.7zM187.0 202.5h1.0v2.4h-1.0zM177.4 196.0h2.4v1.0h-2.4zM191.0 202.5h1.0v2.4h-1.0zM177.4 192.0h2.4v1.0h-2.4zM195.0 202.5h1.0v2.4h-1.0zM177.4 189.0h2.4v1.0h-2.4zM197.0 202.5h1.0v2.4h-1.0zM177.4 187.0h2.4v1.0h-2.4zM199.0 202.5h1.0v2.4h-1.0zM177.4 186.0h2.4v1.0h-2.4zM201.0 202.5h1.0v2.4h-1.0zM177.4 184.0h2.4v1.0h-2.4zM202.0 202.5h1.0v2.4h-1.0zM177.4 183.0h2.4v1.0h-2.4zM203.0 202.5h1.0v2.4h-1.0zM177.4 182.0h2.4v1.0h-2.4zM205.0 202.5h1.0v4.7h-1.0zM175.1 181.0h4.7v1.0h-4.7zM212.0 202.5h1.0v2.4h-1.0zM177.4 174.0h2.4v1.0h-2.4zM217.0 202.5h1.0v2.4h-1.0zM177.4 171.0h2.4v1.0h-2.4zM220.0 202.5h1.0v2.4h-1.0zM177.4 168.0h2.4v1.0h-2.4zM222.0 202.5h1.0v2.4h-1.0zM177.4 166.0h2.4v1.0h-2.4zM224.0 202.5h1.0v2.4h-1.0zM177.4 164.0h2.4v1.0h-2.4zM226.0 202.5h1.0v2.4h-1.0zM177.4 163.0h2.4v1.0h-2.4zM227.0 202.5h1.0v2.4h-1.0zM177.4 162.0h2.4v1.0h-2.4zM229.0 202.5h1.0v2.4h-1.0zM177.4 161.0h2.4v1.0h-2.4zM230.0 202.5h1.0v4.7h-1.0zM175.1 160.0h4.7v1.0h-4.7zM237.0 202.5h1.0v2.4h-1.0zM177.4 153.0h2.4v1.0h-2.4zM242.0 202.5h1.0v2.4h-1.0zM177.4 149.0h2.4v1.0h-2.4zM245.0 202.5h1.0v2.4h-1.0zM177.4 147.0h2.4v1.0h-2.4zM247.0 202.5h1.0v2.4h-1.0zM177.4 145.0h2.4v1.0h-2.4zM249.0 202.5h1.0v2.4h-1.0zM177.4 143.0h2.4v1.0h-2.4zM251.0 202.5h1.0v2.4h-1.0zM177.4 142.0h2.4v1.0h-2.4zM253.0 202.5h1.0v2.4h-1.0zM177.4 140.0h2.4v1.0h-2.4zM254.0 202.5h1.0v2.4h-1.0zM177.4 139.0h2.4v1.0h-2.4zM255.0 202.5h1.0v4.7h-1.0zM175.1 138.0h4.7v1.0h-4.7zM263.0 202.5h1.0v2.4h-1.0zM177.4 132.0h2.4v1.0h-2.4zM267.0 202.5h1.0v2.4h-1.0zM177.4 128.0h2.4v1.0h-2.4zM270.0 202.5h1.0v2.4h-1.0zM177.4 126.0h2.4v1.0h-2.4zM273.0 202.5h1.0v2.4h-1.0zM177.4 124.0h2.4v1.0h-2.4zM275.0 202.5h1.0v2.4h-1.0zM177.4 122.0h2.4v1.0h-2.4zM276.0 202.5h1.0v2.4h-1.0zM177.4 120.0h2.4v1.0h-2.4zM278.0 202.5h1.0v2.4h-1.0zM177.4 119.0h2.4v1.0h-2.4zM279.0 202.5h1.0v2.4h-1.0zM177.4 118.0h2.4v1.0h-2.4zM280.0 202.5h1.0v4.7h-1.0zM175.1 117.0h4.7v1.0h-4.7zM68.0 337.2h1.0v4.7h-1.0zM63.6 337.0h4.7v1.0h-4.7zM75.0 337.2h1.0v2.4h-1.0zM65.9 330.0h2.4v1.0h-2.4zM80.0 337.2h1.0v2.4h-1.0zM65.9 327.0h2.4v1.0h-2.4zM83.0 337.2h1.0v2.4h-1.0zM65.9 324.0h2.4v1.0h-2.4zM85.0 337.2h1.0v2.4h-1.0zM65.9 322.0h2.4v1.0h-2.4zM87.0 337.2h1.0v2.4h-1.0zM65.9 320.0h2.4v1.0h-2.4zM89.0 337.2h1.0v2.4h-1.0zM65.9 319.0h2.4v1.0h-2.4zM91.0 337.2h1.0v2.4h-1.0zM65.9 318.0h2.4v1.0h-2.4zM92.0 337.2h1.0v2.4h-1.0zM65.9 316.0h2.4v1.0h-2.4zM93.0 337.2h1.0v4.7h-1.0zM63.6 315.0h4.7v1.0h-4.7zM101.0 337.2h1.0v2.4h-1.0zM65.9 309.0h2.4v1.0h-2.4zM105.0 337.2h1.0v2.4h-1.0zM65.9 305.0h2.4v1.0h-2.4zM108.0 337.2h1.0v2.4h-1.0zM65.9 303.0h2.4v1.0h-2.4zM111.0 337.2h1.0v2.4h-1.0zM65.9 301.0h2.4v1.0h-2.4zM113.0 337.2h1.0v2.4h-1.0zM65.9 299.0h2.4v1.0h-2.4zM114.0 337.2h1.0v2.4h-1.0zM65.9 298.0h2.4v1.0h-2.4zM116.0 337.2h1.0v2.4h-1.0zM65.9 296.0h2.4v1.0h-2.4zM117.0 337.2h1.0v2.4h-1.0zM65.9 295.0h2.4v1.0h-2.4zM118.0 337.2h1.0v4.7h-1.0zM63.6 294.0h4.7v1.0h-4.7zM126.0 337.2h1.0v2.4h-1.0zM65.9 288.0h2.4v1.0h-2.4zM130.0 337.2h1.0v2.4h-1.0zM65.9 284.0h2.4v1.0h-2.4zM134.0 337.2h1.0v2.4h-1.0zM65.9 281.0h2.4v1.0h-2.4zM136.0 337.2h1.0v2.4h-1.0zM65.9 279.0h2.4v1.0h-2.4zM138.0 337.2h1.0v2.4h-1.0zM65.9 278.0h2.4v1.0h-2.4zM140.0 337.2h1.0v2.4h-1.0zM65.9 276.0h2.4v1.0h-2.4zM141.0 337.2h1.0v2.4h-1.0zM65.9 275.0h2.4v1.0h-2.4zM142.0 337.2h1.0v2.4h-1.0zM65.9 274.0h2.4v1.0h-2.4zM144.0 337.2h1.0v4.7h-1.0zM63.6 273.0h4.7v1.0h-4.7zM151.0 337.2h1.0v2.4h-1.0zM65.9 267.0h2.4v1.0h-2.4zM156.0 337.2h1.0v2.4h-1.0zM65.9 263.0h2.4v1.0h-2.4zM159.0 337.2h1.0v2.4h-1.0zM65.9 260.0h2.4v1.0h-2.4zM161.0 337.2h1.0v2.4h-1.0zM65.9 258.0h2.4v1.0h-2.4zM163.0 337.2h1.0v2.4h-1.0zM65.9 257.0h2.4v1.0h-2.4zM165.0 337.2h1.0v2.4h-1.0zM65.9 255.0h2.4v1.0h-2.4zM166.0 337.2h1.0v2.4h-1.0zM65.9 254.0h2.4v1.0h-2.4zM168.0 337.2h1.0v2.4h-1.0zM65.9 253.0h2.4v1.0h-2.4zM169.0 337.2h1.0v4.7h-1.0zM63.6 252.0h4.7v1.0h-4.7zM182.0 337.2h1.0v4.7h-1.0zM177.8 337.0h4.7v1.0h-4.7zM190.0 337.2h1.0v2.4h-1.0zM180.1 330.0h2.4v1.0h-2.4zM194.0 337.2h1.0v2.4h-1.0zM180.1 327.0h2.4v1.0h-2.4zM197.0 337.2h1.0v2.4h-1.0zM180.1 324.0h2.4v1.0h-2.4zM200.0 337.2h1.0v2.4h-1.0zM180.1 322.0h2.4v1.0h-2.4zM202.0 337.2h1.0v2.4h-1.0zM180.1 320.0h2.4v1.0h-2.4zM203.0 337.2h1.0v2.4h-1.0zM180.1 319.0h2.4v1.0h-2.4zM205.0 337.2h1.0v2.4h-1.0zM180.1 318.0h2.4v1.0h-2.4zM206.0 337.2h1.0v2.4h-1.0zM180.1 316.0h2.4v1.0h-2.4zM207.0 337.2h1.0v4.7h-1.0zM177.8 315.0h4.7v1.0h-4.7zM215.0 337.2h1.0v2.4h-1.0zM180.1 309.0h2.4v1.0h-2.4zM219.0 337.2h1.0v2.4h-1.0zM180.1 305.0h2.4v1.0h-2.4zM223.0 337.2h1.0v2.4h-1.0zM180.1 303.0h2.4v1.0h-2.4zM225.0 337.2h1.0v2.4h-1.0zM180.1 301.0h2.4v1.0h-2.4zM227.0 337.2h1.0v2.4h-1.0zM180.1 299.0h2.4v1.0h-2.4zM229.0 337.2h1.0v2.4h-1.0zM180.1 298.0h2.4v1.0h-2.4zM230.0 337.2h1.0v2.4h-1.0zM180.1 296.0h2.4v1.0h-2.4zM231.0 337.2h1.0v2.4h-1.0zM180.1 295.0h2.4v1.0h-2.4zM233.0 337.2h1.0v4.7h-1.0zM177.8 294.0h4.7v1.0h-4.7zM240.0 337.2h1.0v2.4h-1.0zM180.1 288.0h2.4v1.0h-2.4zM245.0 337.2h1.0v2.4h-1.0zM180.1 284.0h2.4v1.0h-2.4zM248.0 337.2h1.0v2.4h-1.0zM180.1 281.0h2.4v1.0h-2.4zM250.0 337.2h1.0v2.4h-1.0zM180.1 279.0h2.4v1.0h-2.4zM252.0 337.2h1.0v2.4h-1.0zM180.1 278.0h2.4v1.0h-2.4zM254.0 337.2h1.0v2.4h-1.0zM180.1 276.0h2.4v1.0h-2.4zM255.0 337.2h1.0v2.4h-1.0zM180.1 275.0h2.4v1.0h-2.4zM257.0 337.2h1.0v2.4h-1.0zM180.1 274.0h2.4v1.0h-2.4zM258.0 337.2h1.0v4.7h-1.0zM177.8 273.0h4.7v1.0h-4.7zM266.0 337.2h1.0v2.4h-1.0zM180.1 267.0h2.4v1.0h-2.4zM270.0 337.2h1.0v2.4h-1.0zM180.1 263.0h2.4v1.0h-2.4zM273.0 337.2h1.0v2.4h-1.0zM180.1 260.0h2.4v1.0h-2.4zM276.0 337.2h1.0v2.4h-1.0zM180.1 258.0h2.4v1.0h-2.4zM278.0 337.2h1.0v2.4h-1.0zM180.1 257.0h2.4v1.0h-2.4zM279.0 337.2h1.0v2.4h-1.0zM180.1 255.0h2.4v1.0h-2.4zM281.0 337.2h1.0v2.4h-1.0zM180.1 254.0h2.4v1.0h-2.4zM282.0 337.2h1.0v2.4h-1.0zM180.1 253.0h2.4v1.0h-2.4zM283.0 337.2h1.0v4.7h-1.0zM177.8 252.0h4.7v1.0h-4.7zM296.0 337.2h1.0v4.7h-1.0zM291.6 337.0h4.7v1.0h-4.7zM303.0 337.2h1.0v2.4h-1.0zM293.9 330.0h2.4v1.0h-2.4zM308.0 337.2h1.0v2.4h-1.0zM293.9 327.0h2.4v1.0h-2.4zM311.0 337.2h1.0v2.4h-1.0zM293.9 324.0h2.4v1.0h-2.4zM313.0 337.2h1.0v2.4h-1.0zM293.9 322.0h2.4v1.0h-2.4zM315.0 337.2h1.0v2.4h-1.0zM293.9 320.0h2.4v1.0h-2.4zM317.0 337.2h1.0v2.4h-1.0zM293.9 319.0h2.4v1.0h-2.4zM319.0 337.2h1.0v2.4h-1.0zM293.9 318.0h2.4v1.0h-2.4zM320.0 337.2h1.0v2.4h-1.0zM293.9 316.0h2.4v1.0h-2.4zM321.0 337.2h1.0v4.7h-1.0zM291.6 315.0h4.7v1.0h-4.7zM329.0 337.2h1.0v2.4h-1.0zM293.9 309.0h2.4v1.0h-2.4zM333.0 337.2h1.0v2.4h-1.0zM293.9 305.0h2.4v1.0h-2.4zM336.0 337.2h1.0v2.4h-1.0zM293.9 303.0h2.4v1.0h-2.4zM339.0 337.2h1.0v2.4h-1.0zM293.9 301.0h2.4v1.0h-2.4zM341.0 337.2h1.0v2.4h-1.0zM293.9 299.0h2.4v1.0h-2.4zM342.0 337.2h1.0v2.4h-1.0zM293.9 298.0h2.4v1.0h-2.4zM344.0 337.2h1.0v2.4h-1.0zM293.9 296.0h2.4v1.0h-2.4zM345.0 337.2h1.0v2.4h-1.0zM293.9 295.0h2.4v1.0h-2.4zM346.0 337.2h1.0v4.7h-1.0zM291.6 294.0h4.7v1.0h-4.7zM354.0 337.2h1.0v2.4h-1.0zM293.9 288.0h2.4v1.0h-2.4zM358.0 337.2h1.0v2.4h-1.0zM293.9 284.0h2.4v1.0h-2.4zM362.0 337.2h1.0v2.4h-1.0zM293.9 281.0h2.4v1.0h-2.4zM364.0 337.2h1.0v2.4h-1.0zM293.9 279.0h2.4v1.0h-2.4zM366.0 337.2h1.0v2.4h-1.0zM293.9 278.0h2.4v1.0h-2.4zM368.0 337.2h1.0v2.4h-1.0zM293.9 276.0h2.4v1.0h-2.4zM369.0 337.2h1.0v2.4h-1.0zM293.9 275.0h2.4v1.0h-2.4zM370.0 337.2h1.0v2.4h-1.0zM293.9 274.0h2.4v1.0h-2.4zM372.0 337.2h1.0v4.7h-1.0zM291.6 273.0h4.7v1.0h-4.7zM379.0 337.2h1.0v2.4h-1.0zM293.9 267.0h2.4v1.0h-2.4zM384.0 337.2h1.0v2.4h-1.0zM293.9 263.0h2.4v1.0h-2.4zM387.0 337.2h1.0v2.4h-1.0zM293.9 260.0h2.4v1.0h-2.4zM389.0 337.2h1.0v2.4h-1.0zM293.9 258.0h2.4v1.0h-2.4zM391.0 337.2h1.0v2.4h-1.0zM293.9 257.0h2.4v1.0h-2.4zM393.0 337.2h1.0v2.4h-1.0zM293.9 255.0h2.4v1.0h-2.4zM394.0 337.2h1.0v2.4h-1.0zM293.9 254.0h2.4v1.0h-2.4zM396.0 337.2h1.0v2.4h-1.0zM293.9 253.0h2.4v1.0h-2.4zM397.0 337.2h1.0v4.7h-1.0zM291.6 252.0h4.7v1.0h-4.7zM409.0 337.2h1.0v4.7h-1.0zM404.8 337.0h4.7v1.0h-4.7zM417.0 337.2h1.0v2.4h-1.0zM407.1 330.0h2.4v1.0h-2.4zM421.0 337.2h1.0v2.4h-1.0zM407.1 327.0h2.4v1.0h-2.4zM424.0 337.2h1.0v2.4h-1.0zM407.1 324.0h2.4v1.0h-2.4zM427.0 337.2h1.0v2.4h-1.0zM407.1 322.0h2.4v1.0h-2.4zM429.0 337.2h1.0v2.4h-1.0zM407.1 320.0h2.4v1.0h-2.4zM431.0 337.2h1.0v2.4h-1.0zM407.1 319.0h2.4v1.0h-2.4zM432.0 337.2h1.0v2.4h-1.0zM407.1 318.0h2.4v1.0h-2.4zM433.0 337.2h1.0v2.4h-1.0zM407.1 316.0h2.4v1.0h-2.4zM434.0 337.2h1.0v4.7h-1.0zM404.8 315.0h4.7v1.0h-4.7zM442.0 337.2h1.0v2.4h-1.0zM407.1 309.0h2.4v1.0h-2.4zM447.0 337.2h1.0v2.4h-1.0zM407.1 305.0h2.4v1.0h-2.4zM450.0 337.2h1.0v2.4h-1.0zM407.1 303.0h2.4v1.0h-2.4zM452.0 337.2h1.0v2.4h-1.0zM407.1 301.0h2.4v1.0h-2.4zM454.0 337.2h1.0v2.4h-1.0zM407.1 299.0h2.4v1.0h-2.4zM456.0 337.2h1.0v2.4h-1.0zM407.1 298.0h2.4v1.0h-2.4zM458.0 337.2h1.0v2.4h-1.0zM407.1 296.0h2.4v1.0h-2.4zM459.0 337.2h1.0v2.4h-1.0zM407.1 295.0h2.4v1.0h-2.4zM460.0 337.2h1.0v4.7h-1.0zM404.8 294.0h4.7v1.0h-4.7zM468.0 337.2h1.0v2.4h-1.0zM407.1 288.0h2.4v1.0h-2.4zM472.0 337.2h1.0v2.4h-1.0zM407.1 284.0h2.4v1.0h-2.4zM475.0 337.2h1.0v2.4h-1.0zM407.1 281.0h2.4v1.0h-2.4zM478.0 337.2h1.0v2.4h-1.0zM407.1 279.0h2.4v1.0h-2.4zM480.0 337.2h1.0v2.4h-1.0zM407.1 278.0h2.4v1.0h-2.4zM482.0 337.2h1.0v2.4h-1.0zM407.1 276.0h2.4v1.0h-2.4zM483.0 337.2h1.0v2.4h-1.0zM407.1 275.0h2.4v1.0h-2.4zM484.0 337.2h1.0v2.4h-1.0zM407.1 274.0h2.4v1.0h-2.4zM486.0 337.2h1.0v4.7h-1.0zM404.8 273.0h4.7v1.0h-4.7zM493.0 337.2h1.0v2.4h-1.0zM407.1 267.0h2.4v1.0h-2.4zM498.0 337.2h1.0v2.4h-1.0zM407.1 263.0h2.4v1.0h-2.4zM501.0 337.2h1.0v2.4h-1.0zM407.1 260.0h2.4v1.0h-2.4zM503.0 337.2h1.0v2.4h-1.0zM407.1 258.0h2.4v1.0h-2.4zM505.0 337.2h1.0v2.4h-1.0zM407.1 257.0h2.4v1.0h-2.4zM507.0 337.2h1.0v2.4h-1.0zM407.1 255.0h2.4v1.0h-2.4zM509.0 337.2h1.0v2.4h-1.0zM407.1 254.0h2.4v1.0h-2.4zM510.0 337.2h1.0v2.4h-1.0zM407.1 253.0h2.4v1.0h-2.4zM511.0 337.2h1.0v4.7h-1.0zM404.8 252.0h4.7v1.0h-4.7zM68.0 444.6h1.0v4.7h-1.0zM63.6 444.0h4.7v1.0h-4.7zM75.0 444.6h1.0v2.4h-1.0zM65.9 438.0h2.4v1.0h-2.4zM80.0 444.6h1.0v2.4h-1.0zM65.9 434.0h2.4v1.0h-2.4zM83.0 444.6h1.0v2.4h-1.0zM65.9 431.0h2.4v1.0h-2.4zM85.0 444.6h1.0v2.4h-1.0zM65.9 429.0h2.4v1.0h-2.4zM87.0 444.6h1.0v2.4h-1.0zM65.9 428.0h2.4v1.0h-2.4zM89.0 444.6h1.0v2.4h-1.0zM65.9 426.0h2.4v1.0h-2.4zM91.0 444.6h1.0v2.4h-1.0zM65.9 425.0h2.4v1.0h-2.4zM92.0 444.6h1.0v2.4h-1.0zM65.9 424.0h2.4v1.0h-2.4zM93.0 444.6h1.0v4.7h-1.0zM63.6 423.0h4.7v1.0h-4.7zM101.0 444.6h1.0v2.4h-1.0zM65.9 417.0h2.4v1.0h-2.4zM105.0 444.6h1.0v2.4h-1.0zM65.9 413.0h2.4v1.0h-2.4zM108.0 444.6h1.0v2.4h-1.0zM65.9 410.0h2.4v1.0h-2.4zM111.0 444.6h1.0v2.4h-1.0zM65.9 408.0h2.4v1.0h-2.4zM113.0 444.6h1.0v2.4h-1.0zM65.9 406.0h2.4v1.0h-2.4zM114.0 444.6h1.0v2.4h-1.0zM65.9 405.0h2.4v1.0h-2.4zM116.0 444.6h1.0v2.4h-1.0zM65.9 404.0h2.4v1.0h-2.4zM117.0 444.6h1.0v2.4h-1.0zM65.9 403.0h2.4v1.0h-2.4zM118.0 444.6h1.0v4.7h-1.0zM63.6 402.0h4.7v1.0h-4.7zM126.0 444.6h1.0v2.4h-1.0zM65.9 395.0h2.4v1.0h-2.4zM130.0 444.6h1.0v2.4h-1.0zM65.9 392.0h2.4v1.0h-2.4zM134.0 444.6h1.0v2.4h-1.0zM65.9 389.0h2.4v1.0h-2.4zM136.0 444.6h1.0v2.4h-1.0zM65.9 387.0h2.4v1.0h-2.4zM138.0 444.6h1.0v2.4h-1.0zM65.9 385.0h2.4v1.0h-2.4zM140.0 444.6h1.0v2.4h-1.0zM65.9 384.0h2.4v1.0h-2.4zM141.0 444.6h1.0v2.4h-1.0zM65.9 383.0h2.4v1.0h-2.4zM142.0 444.6h1.0v2.4h-1.0zM65.9 382.0h2.4v1.0h-2.4zM144.0 444.6h1.0v4.7h-1.0zM63.6 381.0h4.7v1.0h-4.7zM151.0 444.6h1.0v2.4h-1.0zM65.9 374.0h2.4v1.0h-2.4zM156.0 444.6h1.0v2.4h-1.0zM65.9 370.0h2.4v1.0h-2.4zM159.0 444.6h1.0v2.4h-1.0zM65.9 368.0h2.4v1.0h-2.4zM161.0 444.6h1.0v2.4h-1.0zM65.9 366.0h2.4v1.0h-2.4zM163.0 444.6h1.0v2.4h-1.0zM65.9 364.0h2.4v1.0h-2.4zM165.0 444.6h1.0v2.4h-1.0zM65.9 363.0h2.4v1.0h-2.4zM166.0 444.6h1.0v2.4h-1.0zM65.9 361.0h2.4v1.0h-2.4zM168.0 444.6h1.0v2.4h-1.0zM65.9 360.0h2.4v1.0h-2.4zM169.0 444.6h1.0v4.7h-1.0zM63.6 359.0h4.7v1.0h-4.7zM182.0 444.6h1.0v4.7h-1.0zM177.8 444.0h4.7v1.0h-4.7zM190.0 444.6h1.0v2.4h-1.0zM180.1 438.0h2.4v1.0h-2.4zM194.0 444.6h1.0v2.4h-1.0zM180.1 434.0h2.4v1.0h-2.4zM197.0 444.6h1.0v2.4h-1.0zM180.1 431.0h2.4v1.0h-2.4zM200.0 444.6h1.0v2.4h-1.0zM180.1 429.0h2.4v1.0h-2.4zM202.0 444.6h1.0v2.4h-1.0zM180.1 428.0h2.4v1.0h-2.4zM203.0 444.6h1.0v2.4h-1.0zM180.1 426.0h2.4v1.0h-2.4zM205.0 444.6h1.0v2.4h-1.0zM180.1 425.0h2.4v1.0h-2.4zM206.0 444.6h1.0v2.4h-1.0zM180.1 424.0h2.4v1.0h-2.4zM207.0 444.6h1.0v4.7h-1.0zM177.8 423.0h4.7v1.0h-4.7zM215.0 444.6h1.0v2.4h-1.0zM180.1 417.0h2.4v1.0h-2.4zM219.0 444.6h1.0v2.4h-1.0zM180.1 413.0h2.4v1.0h-2.4zM223.0 444.6h1.0v2.4h-1.0zM180.1 410.0h2.4v1.0h-2.4zM225.0 444.6h1.0v2.4h-1.0zM180.1 408.0h2.4v1.0h-2.4zM227.0 444.6h1.0v2.4h-1.0zM180.1 406.0h2.4v1.0h-2.4zM229.0 444.6h1.0v2.4h-1.0zM180.1 405.0h2.4v1.0h-2.4zM230.0 444.6h1.0v2.4h-1.0zM180.1 404.0h2.4v1.0h-2.4zM231.0 444.6h1.0v2.4h-1.0zM180.1 403.0h2.4v1.0h-2.4zM233.0 444.6h1.0v4.7h-1.0zM177.8 402.0h4.7v1.0h-4.7zM240.0 444.6h1.0v2.4h-1.0zM180.1 395.0h2.4v1.0h-2.4zM245.0 444.6h1.0v2.4h-1.0zM180.1 392.0h2.4v1.0h-2.4zM248.0 444.6h1.0v2.4h-1.0zM180.1 389.0h2.4v1.0h-2.4zM250.0 444.6h1.0v2.4h-1.0zM180.1 387.0h2.4v1.0h-2.4zM252.0 444.6h1.0v2.4h-1.0zM180.1 385.0h2.4v1.0h-2.4zM254.0 444.6h1.0v2.4h-1.0zM180.1 384.0h2.4v1.0h-2.4zM255.0 444.6h1.0v2.4h-1.0zM180.1 383.0h2.4v1.0h-2.4zM257.0 444.6h1.0v2.4h-1.0zM180.1 382.0h2.4v1.0h-2.4zM258.0 444.6h1.0v4.7h-1.0zM177.8 381.0h4.7v1.0h-4.7zM266.0 444.6h1.0v2.4h-1.0zM180.1 374.0h2.4v1.0h-2.4zM270.0 444.6h1.0v2.4h-1.0zM180.1 370.0h2.4v1.0h-2.4zM273.0 444.6h1.0v2.4h-1.0zM180.1 368.0h2.4v1.0h-2.4zM276.0 444.6h1.0v2.4h-1.0zM180.1 366.0h2.4v1.0h-2.4zM278.0 444.6h1.0v2.4h-1.0zM180.1 364.0h2.4v1.0h-2.4zM279.0 444.6h1.0v2.4h-1.0zM180.1 363.0h2.4v1.0h-2.4zM281.0 444.6h1.0v2.4h-1.0zM180.1 361.0h2.4v1.0h-2.4zM282.0 444.6h1.0v2.4h-1.0zM180.1 360.0h2.4v1.0h-2.4zM283.0 444.6h1.0v4.7h-1.0zM177.8 359.0h4.7v1.0h-4.7zM296.0 444.6h1.0v4.7h-1.0zM291.6 444.0h4.7v1.0h-4.7zM303.0 444.6h1.0v2.4h-1.0zM293.9 438.0h2.4v1.0h-2.4zM308.0 444.6h1.0v2.4h-1.0zM293.9 434.0h2.4v1.0h-2.4zM311.0 444.6h1.0v2.4h-1.0zM293.9 431.0h2.4v1.0h-2.4zM313.0 444.6h1.0v2.4h-1.0zM293.9 429.0h2.4v1.0h-2.4zM315.0 444.6h1.0v2.4h-1.0zM293.9 428.0h2.4v1.0h-2.4zM317.0 444.6h1.0v2.4h-1.0zM293.9 426.0h2.4v1.0h-2.4zM319.0 444.6h1.0v2.4h-1.0zM293.9 425.0h2.4v1.0h-2.4zM320.0 444.6h1.0v2.4h-1.0zM293.9 424.0h2.4v1.0h-2.4zM321.0 444.6h1.0v4.7h-1.0zM291.6 423.0h4.7v1.0h-4.7zM329.0 444.6h1.0v2.4h-1.0zM293.9 417.0h2.4v1.0h-2.4zM333.0 444.6h1.0v2.4h-1.0zM293.9 413.0h2.4v1.0h-2.4zM336.0 444.6h1.0v2.4h-1.0zM293.9 410.0h2.4v1.0h-2.4zM339.0 444.6h1.0v2.4h-1.0zM293.9 408.0h2.4v1.0h-2.4zM341.0 444.6h1.0v2.4h-1.0zM293.9 406.0h2.4v1.0h-2.4zM342.0 444.6h1.0v2.4h-1.0zM293.9 405.0h2.4v1.0h-2.4zM344.0 444.6h1.0v2.4h-1.0zM293.9 404.0h2.4v1.0h-2.4zM345.0 444.6h1.0v2.4h-1.0zM293.9 403.0h2.4v1.0h-2.4zM346.0 444.6h1.0v4.7h-1.0zM291.6 402.0h4.7v1.0h-4.7zM354.0 444.6h1.0v2.4h-1.0zM293.9 395.0h2.4v1.0h-2.4zM358.0 444.6h1.0v2.4h-1.0zM293.9 392.0h2.4v1.0h-2.4zM362.0 444.6h1.0v2.4h-1.0zM293.9 389.0h2.4v1.0h-2.4zM364.0 444.6h1.0v2.4h-1.0zM293.9 387.0h2.4v1.0h-2.4zM366.0 444.6h1.0v2.4h-1.0zM293.9 385.0h2.4v1.0h-2.4zM368.0 444.6h1.0v2.4h-1.0zM293.9 384.0h2.4v1.0h-2.4zM369.0 444.6h1.0v2.4h-1.0zM293.9 383.0h2.4v1.0h-2.4zM370.0 444.6h1.0v2.4h-1.0zM293.9 382.0h2.4v1.0h-2.4zM372.0 444.6h1.0v4.7h-1.0zM291.6 381.0h4.7v1.0h-4.7zM379.0 444.6h1.0v2.4h-1.0zM293.9 374.0h2.4v1.0h-2.4zM384.0 444.6h1.0v2.4h-1.0zM293.9 370.0h2.4v1.0h-2.4zM387.0 444.6h1.0v2.4h-1.0zM293.9 368.0h2.4v1.0h-2.4zM389.0 444.6h1.0v2.4h-1.0zM293.9 366.0h2.4v1.0h-2.4zM391.0 444.6h1.0v2.4h-1.0zM293.9 364.0h2.4v1.0h-2.4zM393.0 444.6h1.0v2.4h-1.0zM293.9 363.0h2.4v1.0h-2.4zM394.0 444.6h1.0v2.4h-1.0zM293.9 361.0h2.4v1.0h-2.4zM396.0 444.6h1.0v2.4h-1.0zM293.9 360.0h2.4v1.0h-2.4zM397.0 444.6h1.0v4.7h-1.0zM291.6 359.0h4.7v1.0h-4.7zM409.0 444.6h1.0v4.7h-1.0zM404.8 444.0h4.7v1.0h-4.7zM417.0 444.6h1.0v2.4h-1.0zM407.1 438.0h2.4v1.0h-2.4zM421.0 444.6h1.0v2.4h-1.0zM407.1 434.0h2.4v1.0h-2.4zM424.0 444.6h1.0v2.4h-1.0zM407.1 431.0h2.4v1.0h-2.4zM427.0 444.6h1.0v2.4h-1.0zM407.1 429.0h2.4v1.0h-2.4zM429.0 444.6h1.0v2.4h-1.0zM407.1 428.0h2.4v1.0h-2.4zM431.0 444.6h1.0v2.4h-1.0zM407.1 426.0h2.4v1.0h-2.4zM432.0 444.6h1.0v2.4h-1.0zM407.1 425.0h2.4v1.0h-2.4zM433.0 444.6h1.0v2.4h-1.0zM407.1 424.0h2.4v1.0h-2.4zM434.0 444.6h1.0v4.7h-1.0zM404.8 423.0h4.7v1.0h-4.7zM442.0 444.6h1.0v2.4h-1.0zM407.1 417.0h2.4v1.0h-2.4zM447.0 444.6h1.0v2.4h-1.0zM407.1 413.0h2.4v1.0h-2.4zM450.0 444.6h1.0v2.4h-1.0zM407.1 410.0h2.4v1.0h-2.4zM452.0 444.6h1.0v2.4h-1.0zM407.1 408.0h2.4v1.0h-2.4zM454.0 444.6h1.0v2.4h-1.0zM407.1 406.0h2.4v1.0h-2.4zM456.0 444.6h1.0v2.4h-1.0zM407.1 405.0h2.4v1.0h-2.4zM458.0 444.6h1.0v2.4h-1.0zM407.1 404.0h2.4v1.0h-2.4zM459.0 444.6h1.0v2.4h-1.0zM407.1 403.0h2.4v1.0h-2.4zM460.0 444.6h1.0v4.7h-1.0zM404.8 402.0h4.7v1.0h-4.7zM468.0 444.6h1.0v2.4h-1.0zM407.1 395.0h2.4v1.0h-2.4zM472.0 444.6h1.0v2.4h-1.0zM407.1 392.0h2.4v1.0h-2.4zM475.0 444.6h1.0v2.4h-1.0zM407.1 389.0h2.4v1.0h-2.4zM478.0 444.6h1.0v2.4h-1.0zM407.1 387.0h2.4v1.0h-2.4zM480.0 444.6h1.0v2.4h-1.0zM407.1 385.0h2.4v1.0h-2.4zM482.0 444.6h1.0v2.4h-1.0zM407.1 384.0h2.4v1.0h-2.4zM483.0 444.6h1.0v2.4h-1.0zM407.1 383.0h2.4v1.0h-2.4zM484.0 444.6h1.0v2.4h-1.0zM407.1 382.0h2.4v1.0h-2.4zM486.0 444.6h1.0v4.7h-1.0zM404.8 381.0h4.7v1.0h-4.7zM493.0 444.6h1.0v2.4h-1.0zM407.1 374.0h2.4v1.0h-2.4zM498.0 444.6h1.0v2.4h-1.0zM407.1 370.0h2.4v1.0h-2.4zM501.0 444.6h1.0v2.4h-1.0zM407.1 368.0h2.4v1.0h-2.4zM503.0 444.6h1.0v2.4h-1.0zM407.1 366.0h2.4v1.0h-2.4zM505.0 444.6h1.0v2.4h-1.0zM407.1 364.0h2.4v1.0h-2.4zM507.0 444.6h1.0v2.4h-1.0zM407.1 363.0h2.4v1.0h-2.4zM509.0 444.6h1.0v2.4h-1.0zM407.1 361.0h2.4v1.0h-2.4zM510.0 444.6h1.0v2.4h-1.0zM407.1 360.0h2.4v1.0h-2.4zM511.0 444.6h1.0v4.7h-1.0zM404.8 359.0h4.7v1.0h-4.7z" fill="#000" shape-rendering="crispEdges"/>
<g font-family='"Liberation Sans", sans-serif' fill="#000" stroke="#000" stroke-width="0.25">
<text transform="translate(58.1,101.6) rotate(-90)" font-size="10.5" textLength="8.2" lengthAdjust="spacingAndGlyphs">10</text>
<text transform="translate(52.3,91.6) rotate(-90)" font-size="9.5">0</text>
<text transform="translate(58.1,80.5) rotate(-90)" font-size="10.5" textLength="8.2" lengthAdjust="spacingAndGlyphs">10</text>
<text transform="translate(52.3,70.5) rotate(-90)" font-size="9.5">1</text>
<text transform="translate(58.1,59.3) rotate(-90)" font-size="10.5" textLength="8.2" lengthAdjust="spacingAndGlyphs">10</text>
<text transform="translate(52.3,49.3) rotate(-90)" font-size="9.5">2</text>
<text transform="translate(58.1,38.2) rotate(-90)" font-size="10.5" textLength="8.2" lengthAdjust="spacingAndGlyphs">10</text>
<text transform="translate(52.3,28.2) rotate(-90)" font-size="9.5">3</text>
<text transform="translate(58.1,17.0) rotate(-90)" font-size="10.5" textLength="8.2" lengthAdjust="spacingAndGlyphs">10</text>
<text transform="translate(52.3,7.0) rotate(-90)" font-size="9.5">4</text>
<text transform="translate(59.90,218.70) scale(0.82,1)" font-size="10.3">10</text>
<text transform="translate(69.70,212.70) scale(0.8,1)" font-size="10.8">0</text>
<text transform="translate(85.15,218.70) scale(0.82,1)" font-size="10.3">10</text>
<text transform="translate(94.95,212.70) scale(0.8,1)" font-size="10.8">1</text>
<text transform="translate(110.40,218.70) scale(0.82,1)" font-size="10.3">10</text>
<text transform="translate(120.20,212.70) scale(0.8,1)" font-size="10.8">2</text>
<text transform="translate(135.65,218.70) scale(0.82,1)" font-size="10.3">10</text>
<text transform="translate(145.45,212.70) scale(0.8,1)" font-size="10.8">3</text>
<text transform="translate(58.1,208.7) rotate(-90)" font-size="10.5" textLength="8.2" lengthAdjust="spacingAndGlyphs">10</text>
<text transform="translate(52.3,198.7) rotate(-90)" font-size="9.5">0</text>
<text transform="translate(58.1,187.5) rotate(-90)" font-size="10.5" textLength="8.2" lengthAdjust="spacingAndGlyphs">10</text>
<text transform="translate(52.3,177.5) rotate(-90)" font-size="9.5">1</text>
<text transform="translate(58.1,166.3) rotate(-90)" font-size="10.5" textLength="8.2" lengthAdjust="spacingAndGlyphs">10</text>
<text transform="translate(52.3,156.3) rotate(-90)" font-size="9.5">2</text>
<text transform="translate(58.1,145.1) rotate(-90)" font-size="10.5" textLength="8.2" lengthAdjust="spacingAndGlyphs">10</text>
<text transform="translate(52.3,135.1) rotate(-90)" font-size="9.5">3</text>
<text transform="translate(173.20,218.70) scale(0.82,1)" font-size="10.3">10</text>
<text transform="translate(183.00,212.70) scale(0.8,1)" font-size="10.8">0</text>
<text transform="translate(198.45,218.70) scale(0.82,1)" font-size="10.3">10</text>
<text transform="translate(208.25,212.70) scale(0.8,1)" font-size="10.8">1</text>
<text transform="translate(223.70,218.70) scale(0.82,1)" font-size="10.3">10</text>
<text transform="translate(233.50,212.70) scale(0.8,1)" font-size="10.8">2</text>
<text transform="translate(248.95,218.70) scale(0.82,1)" font-size="10.3">10</text>
<text transform="translate(258.75,212.70) scale(0.8,1)" font-size="10.8">3</text>
<text transform="translate(59.9,343.4) rotate(-90)" font-size="10.5" textLength="8.2" lengthAdjust="spacingAndGlyphs">10</text>
<text transform="translate(54.1,333.4) rotate(-90)" font-size="9.5">0</text>
<text transform="translate(59.9,322.2) rotate(-90)" font-size="10.5" textLength="8.2" lengthAdjust="spacingAndGlyphs">10</text>
<text transform="translate(54.1,312.2) rotate(-90)" font-size="9.5">1</text>
<text transform="translate(59.9,300.9) rotate(-90)" font-size="10.5" textLength="8.2" lengthAdjust="spacingAndGlyphs">10</text>
<text transform="translate(54.1,290.9) rotate(-90)" font-size="9.5">2</text>
<text transform="translate(59.9,279.7) rotate(-90)" font-size="10.5" textLength="8.2" lengthAdjust="spacingAndGlyphs">10</text>
<text transform="translate(54.1,269.7) rotate(-90)" font-size="9.5">3</text>
<text transform="translate(59.9,258.5) rotate(-90)" font-size="10.5" textLength="8.2" lengthAdjust="spacingAndGlyphs">10</text>
<text transform="translate(54.1,248.5) rotate(-90)" font-size="9.5">4</text>
<text transform="translate(61.70,460.80) scale(0.82,1)" font-size="10.3">10</text>
<text transform="translate(71.50,454.80) scale(0.8,1)" font-size="10.8">0</text>
<text transform="translate(86.95,460.80) scale(0.82,1)" font-size="10.3">10</text>
<text transform="translate(96.75,454.80) scale(0.8,1)" font-size="10.8">1</text>
<text transform="translate(112.20,460.80) scale(0.82,1)" font-size="10.3">10</text>
<text transform="translate(122.00,454.80) scale(0.8,1)" font-size="10.8">2</text>
<text transform="translate(137.45,460.80) scale(0.82,1)" font-size="10.3">10</text>
<text transform="translate(147.25,454.80) scale(0.8,1)" font-size="10.8">3</text>
<text transform="translate(59.9,450.8) rotate(-90)" font-size="10.5" textLength="8.2" lengthAdjust="spacingAndGlyphs">10</text>
<text transform="translate(54.1,440.8) rotate(-90)" font-size="9.5">0</text>
<text transform="translate(59.9,429.6) rotate(-90)" font-size="10.5" textLength="8.2" lengthAdjust="spacingAndGlyphs">10</text>
<text transform="translate(54.1,419.6) rotate(-90)" font-size="9.5">1</text>
<text transform="translate(59.9,408.4) rotate(-90)" font-size="10.5" textLength="8.2" lengthAdjust="spacingAndGlyphs">10</text>
<text transform="translate(54.1,398.4) rotate(-90)" font-size="9.5">2</text>
<text transform="translate(59.9,387.3) rotate(-90)" font-size="10.5" textLength="8.2" lengthAdjust="spacingAndGlyphs">10</text>
<text transform="translate(54.1,377.3) rotate(-90)" font-size="9.5">3</text>
<text transform="translate(175.90,460.80) scale(0.82,1)" font-size="10.3">10</text>
<text transform="translate(185.70,454.80) scale(0.8,1)" font-size="10.8">0</text>
<text transform="translate(201.20,460.80) scale(0.82,1)" font-size="10.3">10</text>
<text transform="translate(211.00,454.80) scale(0.8,1)" font-size="10.8">1</text>
<text transform="translate(226.50,460.80) scale(0.82,1)" font-size="10.3">10</text>
<text transform="translate(236.30,454.80) scale(0.8,1)" font-size="10.8">2</text>
<text transform="translate(251.80,460.80) scale(0.82,1)" font-size="10.3">10</text>
<text transform="translate(261.60,454.80) scale(0.8,1)" font-size="10.8">3</text>
<text transform="translate(289.70,460.80) scale(0.82,1)" font-size="10.3">10</text>
<text transform="translate(299.50,454.80) scale(0.8,1)" font-size="10.8">0</text>
<text transform="translate(314.95,460.80) scale(0.82,1)" font-size="10.3">10</text>
<text transform="translate(324.75,454.80) scale(0.8,1)" font-size="10.8">1</text>
<text transform="translate(340.20,460.80) scale(0.82,1)" font-size="10.3">10</text>
<text transform="translate(350.00,454.80) scale(0.8,1)" font-size="10.8">2</text>
<text transform="translate(365.45,460.80) scale(0.82,1)" font-size="10.3">10</text>
<text transform="translate(375.25,454.80) scale(0.8,1)" font-size="10.8">3</text>
<text transform="translate(402.90,460.80) scale(0.82,1)" font-size="10.3">10</text>
<text transform="translate(412.70,454.80) scale(0.8,1)" font-size="10.8">0</text>
<text transform="translate(428.40,460.80) scale(0.82,1)" font-size="10.3">10</text>
<text transform="translate(438.20,454.80) scale(0.8,1)" font-size="10.8">1</text>
<text transform="translate(453.90,460.80) scale(0.82,1)" font-size="10.3">10</text>
<text transform="translate(463.70,454.80) scale(0.8,1)" font-size="10.8">2</text>
<text transform="translate(479.40,460.80) scale(0.82,1)" font-size="10.3">10</text>
<text transform="translate(489.20,454.80) scale(0.8,1)" font-size="10.8">3</text>
<text transform="translate(503.40,460.80) scale(0.82,1)" font-size="10.3">10</text>
<text transform="translate(513.20,454.80) scale(0.8,1)" font-size="10.8">4</text>
<text transform="translate(12.8,51.5) rotate(-90)" font-size="14.8" text-anchor="middle" stroke-width="0.08">Small</text>
<text transform="translate(13.0,159.7) rotate(-90)" font-size="14.8" text-anchor="middle" stroke-width="0.08">Large</text>
<text transform="translate(37.0,108.8) rotate(-90)" font-size="15.2" text-anchor="middle" stroke-width="0.08">CD11c</text>
<text transform="translate(13.8,293.4) rotate(-90)" font-size="14.8" text-anchor="middle" stroke-width="0.08">Small</text>
<text transform="translate(13.6,402.7) rotate(-90)" font-size="14.8" text-anchor="middle" stroke-width="0.08">Large</text>
<text transform="translate(37.5,348.1) rotate(-90)" font-size="15.2" text-anchor="middle" stroke-width="0.08">CD11b</text>
<text x="115.5" y="235.3" font-size="14.5" text-anchor="middle" stroke-width="0.08">MHC II</text>
<text x="228.8" y="235.5" font-size="14.5" text-anchor="middle" stroke-width="0.08">CD86</text>
<text x="117.5" y="476.8" font-size="14.5" text-anchor="middle" stroke-width="0.08">CD8α</text>
<text x="232.0" y="478.0" font-size="14.5" text-anchor="middle" stroke-width="0.08">CD205</text>
<text x="346.2" y="478.0" font-size="14.5" text-anchor="middle" stroke-width="0.08">33D1</text>
<text x="459.8" y="478.0" font-size="14.5" text-anchor="middle" stroke-width="0.08">F4/80</text>
</g>
</svg>
</body></html>
